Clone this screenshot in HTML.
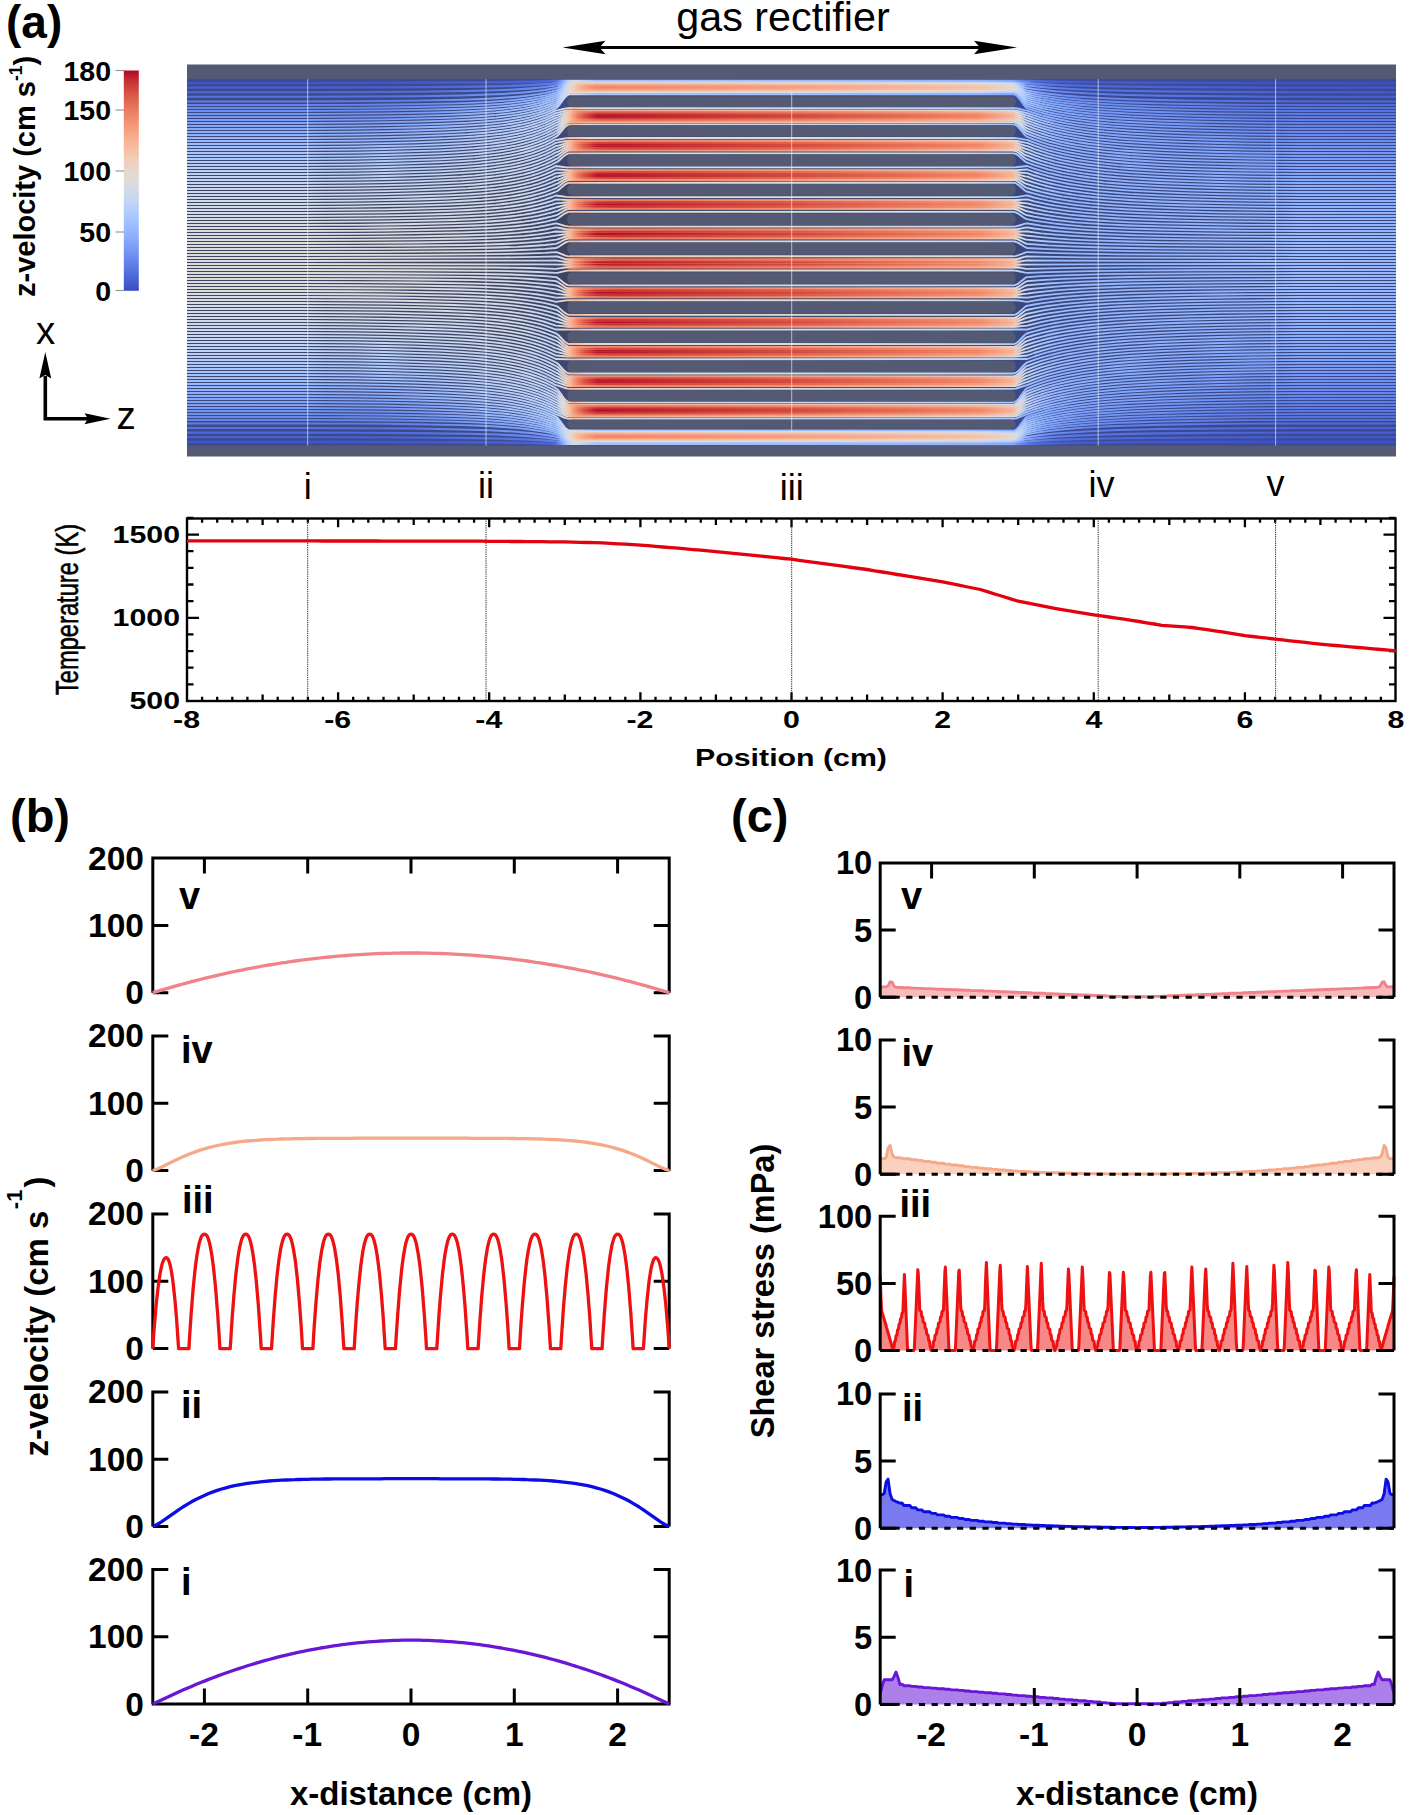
<!DOCTYPE html>
<html lang="en"><head><meta charset="utf-8"><title>Gas rectifier flow simulation</title>
<style>html,body{margin:0;padding:0;background:#fff}svg{display:block}text{font-family:"Liberation Sans", Arial, Helvetica, sans-serif;fill:#000}</style>
</head><body>
<svg width="1416" height="1815" viewBox="0 0 1416 1815">
<rect x="187.0" y="64.5" width="1209.0" height="392.0" fill="#545a73"/>
<defs><linearGradient id="bgL" x1="0" y1="0" x2="0" y2="1"><stop offset="0" stop-color="#3b4a92"/><stop offset="0.1" stop-color="#3e4a7c"/><stop offset="0.28" stop-color="#3e4566"/><stop offset="0.5" stop-color="#3d4360"/><stop offset="0.72" stop-color="#3e4566"/><stop offset="0.9" stop-color="#3e4a7c"/><stop offset="1" stop-color="#3b4a92"/></linearGradient><linearGradient id="bgR" x1="0" y1="0" x2="0" y2="1"><stop offset="0" stop-color="#3a4a96"/><stop offset="0.15" stop-color="#3a4884"/><stop offset="0.5" stop-color="#394676"/><stop offset="0.85" stop-color="#3a4884"/><stop offset="1" stop-color="#3a4a96"/></linearGradient></defs>
<rect x="187.0" y="79.2" width="383.8" height="366.4" fill="url(#bgL)"/>
<rect x="1012.2" y="79.2" width="383.8" height="366.4" fill="url(#bgR)"/>
<rect x="570.8" y="79.2" width="441.4" height="366.4" fill="#474d6b"/>
<defs>
<linearGradient id="bR" gradientUnits="userSpaceOnUse" x1="561.8" y1="0" x2="1022.2" y2="0">
<stop offset="0.0000" stop-color="#e3d9d3" stop-opacity="0"/>
<stop offset="0.0174" stop-color="#f6bda2" stop-opacity="1"/>
<stop offset="0.0500" stop-color="#f39475" stop-opacity="1"/>
<stop offset="0.1151" stop-color="#d55042" stop-opacity="1"/>
<stop offset="0.2383" stop-color="#d95847" stop-opacity="1"/>
<stop offset="0.4989" stop-color="#e46e56" stop-opacity="1"/>
<stop offset="0.7378" stop-color="#f08b6e" stop-opacity="1"/>
<stop offset="0.9044" stop-color="#f5a081" stop-opacity="1"/>
<stop offset="0.9696" stop-color="#f7ad90" stop-opacity="1"/>
<stop offset="0.9848" stop-color="#f4c6af" stop-opacity="1"/>
<stop offset="1.0000" stop-color="#cad8ef" stop-opacity="0"/>
</linearGradient>
<linearGradient id="bE" gradientUnits="userSpaceOnUse" x1="561.8" y1="0" x2="1022.2" y2="0">
<stop offset="0.0000" stop-color="#c9d7f0" stop-opacity="0"/>
<stop offset="0.0174" stop-color="#e4d9d2" stop-opacity="1"/>
<stop offset="0.0500" stop-color="#f4c6af" stop-opacity="1"/>
<stop offset="0.1151" stop-color="#f5a081" stop-opacity="1"/>
<stop offset="0.2383" stop-color="#f6a586" stop-opacity="1"/>
<stop offset="0.4989" stop-color="#f7b194" stop-opacity="1"/>
<stop offset="0.7378" stop-color="#f5c0a7" stop-opacity="1"/>
<stop offset="0.9044" stop-color="#f1ccb8" stop-opacity="1"/>
<stop offset="0.9696" stop-color="#edd2c3" stop-opacity="1"/>
<stop offset="0.9848" stop-color="#dddcdc" stop-opacity="1"/>
<stop offset="1.0000" stop-color="#afcafc" stop-opacity="0"/>
</linearGradient>
</defs>
<rect x="561.8" y="84.8" width="460.4" height="7.6" rx="3.5" fill="url(#bE)"/>
<rect x="561.8" y="111" width="460.4" height="10.4" rx="3.5" fill="url(#bR)"/>
<rect x="561.8" y="140.4" width="460.4" height="10.4" rx="3.5" fill="url(#bR)"/>
<rect x="561.8" y="169.9" width="460.4" height="10.4" rx="3.5" fill="url(#bR)"/>
<rect x="561.8" y="199.3" width="460.4" height="10.4" rx="3.5" fill="url(#bR)"/>
<rect x="561.8" y="228.8" width="460.4" height="10.4" rx="3.5" fill="url(#bR)"/>
<rect x="561.8" y="258.2" width="460.4" height="10.4" rx="3.5" fill="url(#bR)"/>
<rect x="561.8" y="287.6" width="460.4" height="10.4" rx="3.5" fill="url(#bR)"/>
<rect x="561.8" y="317.1" width="460.4" height="10.4" rx="3.5" fill="url(#bR)"/>
<rect x="561.8" y="346.5" width="460.4" height="10.4" rx="3.5" fill="url(#bR)"/>
<rect x="561.8" y="376" width="460.4" height="10.4" rx="3.5" fill="url(#bR)"/>
<rect x="561.8" y="405.4" width="460.4" height="10.4" rx="3.5" fill="url(#bR)"/>
<rect x="561.8" y="432.4" width="460.4" height="7.6" rx="3.5" fill="url(#bE)"/>
<defs>
<linearGradient id="g0" gradientUnits="userSpaceOnUse" x1="187" y1="0" x2="1396" y2="0">
<stop offset="0.0000" stop-color="#4055c8"/>
<stop offset="0.1596" stop-color="#4055c8"/>
<stop offset="0.2010" stop-color="#4358cb"/>
<stop offset="0.2423" stop-color="#465ecf"/>
<stop offset="0.2713" stop-color="#485fd1"/>
<stop offset="0.2935" stop-color="#4a63d3"/>
<stop offset="0.2993" stop-color="#4a63d3"/>
<stop offset="0.3050" stop-color="#516ddb"/>
<stop offset="0.3079" stop-color="#6687ed"/>
<stop offset="0.3108" stop-color="#85a8fc"/>
<stop offset="0.3137" stop-color="#a7c5fe"/>
<stop offset="0.3166" stop-color="#c4d5f3"/>
<stop offset="0.3199" stop-color="#d4dbe6"/>
<stop offset="0.3232" stop-color="#d2dbe8"/>
<stop offset="0.3290" stop-color="#bcd2f7"/>
<stop offset="0.3390" stop-color="#a5c3fe"/>
<stop offset="0.3621" stop-color="#a5c3fe"/>
<stop offset="0.4090" stop-color="#a2c1ff"/>
<stop offset="0.5000" stop-color="#9ebeff"/>
<stop offset="0.5910" stop-color="#96b7ff"/>
<stop offset="0.6544" stop-color="#90b2fe"/>
<stop offset="0.6834" stop-color="#82a6fb"/>
<stop offset="0.6863" stop-color="#7396f5"/>
<stop offset="0.6892" stop-color="#6a8bef"/>
<stop offset="0.6921" stop-color="#6180e9"/>
<stop offset="0.6950" stop-color="#5a78e4"/>
<stop offset="0.7016" stop-color="#516ddb"/>
<stop offset="0.7098" stop-color="#4c66d6"/>
<stop offset="0.7214" stop-color="#485fd1"/>
<stop offset="0.7446" stop-color="#4358cb"/>
<stop offset="0.7965" stop-color="#4358cb"/>
<stop offset="0.8544" stop-color="#4055c8"/>
<stop offset="0.9206" stop-color="#3e51c5"/>
<stop offset="1.0000" stop-color="#3d50c3"/>
</linearGradient>
<linearGradient id="g1" gradientUnits="userSpaceOnUse" x1="187" y1="0" x2="1396" y2="0">
<stop offset="0.0000" stop-color="#485fd1"/>
<stop offset="0.1596" stop-color="#485fd1"/>
<stop offset="0.2010" stop-color="#4c66d6"/>
<stop offset="0.2423" stop-color="#5572df"/>
<stop offset="0.2713" stop-color="#5673e0"/>
<stop offset="0.2935" stop-color="#5b7ae5"/>
<stop offset="0.2993" stop-color="#5b7ae5"/>
<stop offset="0.3050" stop-color="#6282ea"/>
<stop offset="0.3079" stop-color="#7597f6"/>
<stop offset="0.3108" stop-color="#92b4fe"/>
<stop offset="0.3137" stop-color="#b3cdfb"/>
<stop offset="0.3166" stop-color="#cfdaea"/>
<stop offset="0.3199" stop-color="#e3d9d3"/>
<stop offset="0.3232" stop-color="#e9d5cb"/>
<stop offset="0.3290" stop-color="#e4d9d2"/>
<stop offset="0.3390" stop-color="#e0dbd8"/>
<stop offset="0.3621" stop-color="#dfdbd9"/>
<stop offset="0.4090" stop-color="#dddcdc"/>
<stop offset="0.5000" stop-color="#d7dce3"/>
<stop offset="0.5910" stop-color="#cdd9ec"/>
<stop offset="0.6544" stop-color="#c5d6f2"/>
<stop offset="0.6834" stop-color="#b1cbfc"/>
<stop offset="0.6863" stop-color="#9bbcff"/>
<stop offset="0.6892" stop-color="#8badfd"/>
<stop offset="0.6921" stop-color="#7ea1fa"/>
<stop offset="0.6950" stop-color="#7396f5"/>
<stop offset="0.7016" stop-color="#6687ed"/>
<stop offset="0.7098" stop-color="#5d7ce6"/>
<stop offset="0.7214" stop-color="#5572df"/>
<stop offset="0.7446" stop-color="#4e68d8"/>
<stop offset="0.7717" stop-color="#4c66d6"/>
<stop offset="0.7965" stop-color="#4b64d5"/>
<stop offset="0.8544" stop-color="#485fd1"/>
<stop offset="0.9206" stop-color="#4358cb"/>
<stop offset="1.0000" stop-color="#4257c9"/>
</linearGradient>
<linearGradient id="g2" gradientUnits="userSpaceOnUse" x1="187" y1="0" x2="1396" y2="0">
<stop offset="0.0000" stop-color="#4f69d9"/>
<stop offset="0.1596" stop-color="#4f69d9"/>
<stop offset="0.2010" stop-color="#5572df"/>
<stop offset="0.2423" stop-color="#6282ea"/>
<stop offset="0.2713" stop-color="#6687ed"/>
<stop offset="0.2935" stop-color="#6b8df0"/>
<stop offset="0.2993" stop-color="#6c8ff1"/>
<stop offset="0.3050" stop-color="#7093f3"/>
<stop offset="0.3079" stop-color="#82a6fb"/>
<stop offset="0.3108" stop-color="#9dbdff"/>
<stop offset="0.3137" stop-color="#bbd1f8"/>
<stop offset="0.3166" stop-color="#d5dbe5"/>
<stop offset="0.3199" stop-color="#ead5c9"/>
<stop offset="0.3232" stop-color="#f1ccb8"/>
<stop offset="0.3290" stop-color="#f3c8b2"/>
<stop offset="0.3390" stop-color="#f4c5ad"/>
<stop offset="0.3621" stop-color="#f4c6af"/>
<stop offset="0.4090" stop-color="#f2c9b4"/>
<stop offset="0.5000" stop-color="#efcfbf"/>
<stop offset="0.5910" stop-color="#e7d7ce"/>
<stop offset="0.6544" stop-color="#dedcdb"/>
<stop offset="0.6834" stop-color="#c9d7f0"/>
<stop offset="0.6863" stop-color="#b2ccfb"/>
<stop offset="0.6892" stop-color="#9fbfff"/>
<stop offset="0.6921" stop-color="#90b2fe"/>
<stop offset="0.6950" stop-color="#85a8fc"/>
<stop offset="0.7016" stop-color="#7597f6"/>
<stop offset="0.7098" stop-color="#688aef"/>
<stop offset="0.7214" stop-color="#6180e9"/>
<stop offset="0.7446" stop-color="#5673e0"/>
<stop offset="0.7717" stop-color="#5572df"/>
<stop offset="0.7965" stop-color="#5470de"/>
<stop offset="0.8544" stop-color="#4e68d8"/>
<stop offset="0.9206" stop-color="#485fd1"/>
<stop offset="1.0000" stop-color="#455cce"/>
</linearGradient>
<linearGradient id="g3" gradientUnits="userSpaceOnUse" x1="187" y1="0" x2="1396" y2="0">
<stop offset="0.0000" stop-color="#5673e0"/>
<stop offset="0.1596" stop-color="#5673e0"/>
<stop offset="0.2010" stop-color="#5e7de7"/>
<stop offset="0.2423" stop-color="#6e90f2"/>
<stop offset="0.2713" stop-color="#7396f5"/>
<stop offset="0.2935" stop-color="#799cf8"/>
<stop offset="0.2993" stop-color="#7a9df8"/>
<stop offset="0.3050" stop-color="#7ea1fa"/>
<stop offset="0.3079" stop-color="#8fb1fe"/>
<stop offset="0.3108" stop-color="#a6c4fe"/>
<stop offset="0.3137" stop-color="#c1d4f4"/>
<stop offset="0.3166" stop-color="#d9dce1"/>
<stop offset="0.3199" stop-color="#edd1c2"/>
<stop offset="0.3232" stop-color="#f4c5ad"/>
<stop offset="0.3290" stop-color="#f7b99e"/>
<stop offset="0.3390" stop-color="#f7ad90"/>
<stop offset="0.3621" stop-color="#f7af91"/>
<stop offset="0.4090" stop-color="#f7b396"/>
<stop offset="0.5000" stop-color="#f6bda2"/>
<stop offset="0.5910" stop-color="#f2cab5"/>
<stop offset="0.6544" stop-color="#ecd3c5"/>
<stop offset="0.6834" stop-color="#d7dce3"/>
<stop offset="0.6863" stop-color="#c1d4f4"/>
<stop offset="0.6892" stop-color="#aec9fc"/>
<stop offset="0.6921" stop-color="#9ebeff"/>
<stop offset="0.6950" stop-color="#92b4fe"/>
<stop offset="0.7016" stop-color="#80a3fa"/>
<stop offset="0.7098" stop-color="#7396f5"/>
<stop offset="0.7214" stop-color="#6a8bef"/>
<stop offset="0.7446" stop-color="#5e7de7"/>
<stop offset="0.7717" stop-color="#5e7de7"/>
<stop offset="0.7965" stop-color="#5b7ae5"/>
<stop offset="0.8544" stop-color="#5470de"/>
<stop offset="0.9206" stop-color="#4b64d5"/>
<stop offset="1.0000" stop-color="#4961d2"/>
</linearGradient>
<linearGradient id="g4" gradientUnits="userSpaceOnUse" x1="187" y1="0" x2="1396" y2="0">
<stop offset="0.0000" stop-color="#5e7de7"/>
<stop offset="0.0935" stop-color="#5e7de7"/>
<stop offset="0.1596" stop-color="#5d7ce6"/>
<stop offset="0.2010" stop-color="#6788ee"/>
<stop offset="0.2423" stop-color="#799cf8"/>
<stop offset="0.2713" stop-color="#7ea1fa"/>
<stop offset="0.2935" stop-color="#85a8fc"/>
<stop offset="0.2993" stop-color="#86a9fc"/>
<stop offset="0.3050" stop-color="#8badfd"/>
<stop offset="0.3079" stop-color="#98b9ff"/>
<stop offset="0.3108" stop-color="#aec9fc"/>
<stop offset="0.3137" stop-color="#c6d6f1"/>
<stop offset="0.3166" stop-color="#dddcdc"/>
<stop offset="0.3199" stop-color="#f0cdbb"/>
<stop offset="0.3232" stop-color="#f6bfa6"/>
<stop offset="0.3290" stop-color="#f7ad90"/>
<stop offset="0.3390" stop-color="#f49a7b"/>
<stop offset="0.3621" stop-color="#f59d7e"/>
<stop offset="0.4090" stop-color="#f6a283"/>
<stop offset="0.5000" stop-color="#f7af91"/>
<stop offset="0.5910" stop-color="#f6bea4"/>
<stop offset="0.6544" stop-color="#f2cab5"/>
<stop offset="0.6834" stop-color="#e0dbd8"/>
<stop offset="0.6863" stop-color="#cbd8ee"/>
<stop offset="0.6892" stop-color="#b9d0f9"/>
<stop offset="0.6921" stop-color="#a9c6fd"/>
<stop offset="0.6950" stop-color="#9bbcff"/>
<stop offset="0.7016" stop-color="#89acfd"/>
<stop offset="0.7098" stop-color="#7da0f9"/>
<stop offset="0.7214" stop-color="#7295f4"/>
<stop offset="0.7446" stop-color="#6687ed"/>
<stop offset="0.7717" stop-color="#6485ec"/>
<stop offset="0.7965" stop-color="#6282ea"/>
<stop offset="0.8544" stop-color="#5977e3"/>
<stop offset="0.9206" stop-color="#506bda"/>
<stop offset="1.0000" stop-color="#4e68d8"/>
</linearGradient>
<linearGradient id="g5" gradientUnits="userSpaceOnUse" x1="187" y1="0" x2="1396" y2="0">
<stop offset="0.0000" stop-color="#6384eb"/>
<stop offset="0.1596" stop-color="#6384eb"/>
<stop offset="0.2010" stop-color="#6c8ff1"/>
<stop offset="0.2423" stop-color="#81a4fb"/>
<stop offset="0.2713" stop-color="#86a9fc"/>
<stop offset="0.2935" stop-color="#8db0fe"/>
<stop offset="0.2993" stop-color="#8fb1fe"/>
<stop offset="0.3050" stop-color="#93b5fe"/>
<stop offset="0.3079" stop-color="#a1c0ff"/>
<stop offset="0.3108" stop-color="#b3cdfb"/>
<stop offset="0.3137" stop-color="#cad8ef"/>
<stop offset="0.3166" stop-color="#dfdbd9"/>
<stop offset="0.3199" stop-color="#f1ccb8"/>
<stop offset="0.3232" stop-color="#f7ba9f"/>
<stop offset="0.3290" stop-color="#f7a688"/>
<stop offset="0.3390" stop-color="#f18f71"/>
<stop offset="0.3621" stop-color="#f29072"/>
<stop offset="0.4090" stop-color="#f39577"/>
<stop offset="0.5000" stop-color="#f6a385"/>
<stop offset="0.5910" stop-color="#f7b599"/>
<stop offset="0.6544" stop-color="#f5c4ac"/>
<stop offset="0.6834" stop-color="#e5d8d1"/>
<stop offset="0.6863" stop-color="#d1dae9"/>
<stop offset="0.6892" stop-color="#bfd3f6"/>
<stop offset="0.6921" stop-color="#afcafc"/>
<stop offset="0.6950" stop-color="#a2c1ff"/>
<stop offset="0.7016" stop-color="#8fb1fe"/>
<stop offset="0.7098" stop-color="#82a6fb"/>
<stop offset="0.7214" stop-color="#779af7"/>
<stop offset="0.7446" stop-color="#6b8df0"/>
<stop offset="0.7717" stop-color="#6a8bef"/>
<stop offset="0.7965" stop-color="#6788ee"/>
<stop offset="0.8544" stop-color="#5d7ce6"/>
<stop offset="0.9206" stop-color="#536edd"/>
<stop offset="1.0000" stop-color="#506bda"/>
</linearGradient>
<linearGradient id="g6" gradientUnits="userSpaceOnUse" x1="187" y1="0" x2="1396" y2="0">
<stop offset="0.0000" stop-color="#688aef"/>
<stop offset="0.0935" stop-color="#688aef"/>
<stop offset="0.1596" stop-color="#6788ee"/>
<stop offset="0.2010" stop-color="#7295f4"/>
<stop offset="0.2423" stop-color="#86a9fc"/>
<stop offset="0.2713" stop-color="#8db0fe"/>
<stop offset="0.2935" stop-color="#93b5fe"/>
<stop offset="0.2993" stop-color="#96b7ff"/>
<stop offset="0.3050" stop-color="#98b9ff"/>
<stop offset="0.3079" stop-color="#a5c3fe"/>
<stop offset="0.3108" stop-color="#b7cff9"/>
<stop offset="0.3137" stop-color="#ccd9ed"/>
<stop offset="0.3166" stop-color="#e0dbd8"/>
<stop offset="0.3199" stop-color="#f2cbb7"/>
<stop offset="0.3232" stop-color="#f7b99e"/>
<stop offset="0.3290" stop-color="#f6a283"/>
<stop offset="0.3390" stop-color="#ef886b"/>
<stop offset="0.3621" stop-color="#f08a6c"/>
<stop offset="0.4090" stop-color="#f29072"/>
<stop offset="0.5000" stop-color="#f59f80"/>
<stop offset="0.5910" stop-color="#f7b194"/>
<stop offset="0.6544" stop-color="#f5c0a7"/>
<stop offset="0.6834" stop-color="#e8d6cc"/>
<stop offset="0.6863" stop-color="#d4dbe6"/>
<stop offset="0.6892" stop-color="#c1d4f4"/>
<stop offset="0.6921" stop-color="#b2ccfb"/>
<stop offset="0.6950" stop-color="#a6c4fe"/>
<stop offset="0.7016" stop-color="#93b5fe"/>
<stop offset="0.7098" stop-color="#86a9fc"/>
<stop offset="0.7214" stop-color="#7a9df8"/>
<stop offset="0.7446" stop-color="#6e90f2"/>
<stop offset="0.7717" stop-color="#6c8ff1"/>
<stop offset="0.7965" stop-color="#6a8bef"/>
<stop offset="0.8544" stop-color="#6180e9"/>
<stop offset="0.9206" stop-color="#5673e0"/>
<stop offset="1.0000" stop-color="#536edd"/>
</linearGradient>
<linearGradient id="g7" gradientUnits="userSpaceOnUse" x1="187" y1="0" x2="1396" y2="0">
<stop offset="0.0000" stop-color="#6c8ff1"/>
<stop offset="0.1596" stop-color="#6c8ff1"/>
<stop offset="0.2010" stop-color="#779af7"/>
<stop offset="0.2423" stop-color="#8caffe"/>
<stop offset="0.2713" stop-color="#94b6ff"/>
<stop offset="0.2935" stop-color="#98b9ff"/>
<stop offset="0.2993" stop-color="#9bbcff"/>
<stop offset="0.3050" stop-color="#9ebeff"/>
<stop offset="0.3079" stop-color="#aac7fd"/>
<stop offset="0.3108" stop-color="#bbd1f8"/>
<stop offset="0.3137" stop-color="#cedaeb"/>
<stop offset="0.3166" stop-color="#e1dad6"/>
<stop offset="0.3199" stop-color="#f2cab5"/>
<stop offset="0.3232" stop-color="#f7b99e"/>
<stop offset="0.3290" stop-color="#f6a283"/>
<stop offset="0.3390" stop-color="#ef886b"/>
<stop offset="0.3621" stop-color="#f08a6c"/>
<stop offset="0.4090" stop-color="#f29072"/>
<stop offset="0.5000" stop-color="#f59f80"/>
<stop offset="0.5910" stop-color="#f7b194"/>
<stop offset="0.6544" stop-color="#f5c0a7"/>
<stop offset="0.6834" stop-color="#e8d6cc"/>
<stop offset="0.6863" stop-color="#d4dbe6"/>
<stop offset="0.6892" stop-color="#c3d5f4"/>
<stop offset="0.6921" stop-color="#b5cdfa"/>
<stop offset="0.6950" stop-color="#a9c6fd"/>
<stop offset="0.7016" stop-color="#96b7ff"/>
<stop offset="0.7098" stop-color="#89acfd"/>
<stop offset="0.7214" stop-color="#7ea1fa"/>
<stop offset="0.7446" stop-color="#7295f4"/>
<stop offset="0.7717" stop-color="#7093f3"/>
<stop offset="0.7965" stop-color="#6e90f2"/>
<stop offset="0.8544" stop-color="#6384eb"/>
<stop offset="0.9206" stop-color="#5977e3"/>
<stop offset="1.0000" stop-color="#5572df"/>
</linearGradient>
<linearGradient id="g8" gradientUnits="userSpaceOnUse" x1="187" y1="0" x2="1396" y2="0">
<stop offset="0.0000" stop-color="#7295f4"/>
<stop offset="0.0935" stop-color="#7295f4"/>
<stop offset="0.1596" stop-color="#7093f3"/>
<stop offset="0.2010" stop-color="#7b9ff9"/>
<stop offset="0.2423" stop-color="#92b4fe"/>
<stop offset="0.2713" stop-color="#9abbff"/>
<stop offset="0.2935" stop-color="#9ebeff"/>
<stop offset="0.2993" stop-color="#a1c0ff"/>
<stop offset="0.3050" stop-color="#a3c2fe"/>
<stop offset="0.3079" stop-color="#aec9fc"/>
<stop offset="0.3108" stop-color="#bed2f6"/>
<stop offset="0.3137" stop-color="#cfdaea"/>
<stop offset="0.3166" stop-color="#e2dad5"/>
<stop offset="0.3199" stop-color="#f2cbb7"/>
<stop offset="0.3232" stop-color="#f7ba9f"/>
<stop offset="0.3290" stop-color="#f7a688"/>
<stop offset="0.3390" stop-color="#f18f71"/>
<stop offset="0.3621" stop-color="#f29072"/>
<stop offset="0.4090" stop-color="#f39577"/>
<stop offset="0.5000" stop-color="#f6a385"/>
<stop offset="0.5910" stop-color="#f7b599"/>
<stop offset="0.6544" stop-color="#f5c4ac"/>
<stop offset="0.6834" stop-color="#e5d8d1"/>
<stop offset="0.6863" stop-color="#d3dbe7"/>
<stop offset="0.6892" stop-color="#c3d5f4"/>
<stop offset="0.6921" stop-color="#b5cdfa"/>
<stop offset="0.6950" stop-color="#a9c6fd"/>
<stop offset="0.7016" stop-color="#98b9ff"/>
<stop offset="0.7098" stop-color="#8badfd"/>
<stop offset="0.7214" stop-color="#81a4fb"/>
<stop offset="0.7446" stop-color="#7597f6"/>
<stop offset="0.7717" stop-color="#7396f5"/>
<stop offset="0.7965" stop-color="#7093f3"/>
<stop offset="0.8544" stop-color="#6687ed"/>
<stop offset="0.9206" stop-color="#5b7ae5"/>
<stop offset="1.0000" stop-color="#5875e1"/>
</linearGradient>
<linearGradient id="g9" gradientUnits="userSpaceOnUse" x1="187" y1="0" x2="1396" y2="0">
<stop offset="0.0000" stop-color="#7699f6"/>
<stop offset="0.1596" stop-color="#7699f6"/>
<stop offset="0.2010" stop-color="#81a4fb"/>
<stop offset="0.2423" stop-color="#96b7ff"/>
<stop offset="0.2713" stop-color="#9ebeff"/>
<stop offset="0.2935" stop-color="#a2c1ff"/>
<stop offset="0.2993" stop-color="#a5c3fe"/>
<stop offset="0.3050" stop-color="#a7c5fe"/>
<stop offset="0.3079" stop-color="#b2ccfb"/>
<stop offset="0.3108" stop-color="#c1d4f4"/>
<stop offset="0.3137" stop-color="#d2dbe8"/>
<stop offset="0.3166" stop-color="#e2dad5"/>
<stop offset="0.3199" stop-color="#f1ccb8"/>
<stop offset="0.3232" stop-color="#f6bfa6"/>
<stop offset="0.3290" stop-color="#f7ad90"/>
<stop offset="0.3390" stop-color="#f49a7b"/>
<stop offset="0.3621" stop-color="#f59d7e"/>
<stop offset="0.4090" stop-color="#f6a283"/>
<stop offset="0.5000" stop-color="#f7af91"/>
<stop offset="0.5910" stop-color="#f6bea4"/>
<stop offset="0.6544" stop-color="#f2cab5"/>
<stop offset="0.6834" stop-color="#e0dbd8"/>
<stop offset="0.6863" stop-color="#cedaeb"/>
<stop offset="0.6892" stop-color="#bfd3f6"/>
<stop offset="0.6921" stop-color="#b2ccfb"/>
<stop offset="0.6950" stop-color="#a9c6fd"/>
<stop offset="0.7016" stop-color="#98b9ff"/>
<stop offset="0.7098" stop-color="#8db0fe"/>
<stop offset="0.7214" stop-color="#82a6fb"/>
<stop offset="0.7446" stop-color="#799cf8"/>
<stop offset="0.7717" stop-color="#7699f6"/>
<stop offset="0.7965" stop-color="#7396f5"/>
<stop offset="0.8544" stop-color="#688aef"/>
<stop offset="0.9206" stop-color="#5e7de7"/>
<stop offset="1.0000" stop-color="#5a78e4"/>
</linearGradient>
<linearGradient id="g10" gradientUnits="userSpaceOnUse" x1="187" y1="0" x2="1396" y2="0">
<stop offset="0.0000" stop-color="#7b9ff9"/>
<stop offset="0.0935" stop-color="#7b9ff9"/>
<stop offset="0.1596" stop-color="#7a9df8"/>
<stop offset="0.2010" stop-color="#85a8fc"/>
<stop offset="0.2423" stop-color="#9bbcff"/>
<stop offset="0.2713" stop-color="#a3c2fe"/>
<stop offset="0.2935" stop-color="#a6c4fe"/>
<stop offset="0.2993" stop-color="#a9c6fd"/>
<stop offset="0.3050" stop-color="#abc8fd"/>
<stop offset="0.3079" stop-color="#b5cdfa"/>
<stop offset="0.3108" stop-color="#c4d5f3"/>
<stop offset="0.3137" stop-color="#d3dbe7"/>
<stop offset="0.3166" stop-color="#e2dad5"/>
<stop offset="0.3199" stop-color="#efcebd"/>
<stop offset="0.3232" stop-color="#f4c5ad"/>
<stop offset="0.3290" stop-color="#f7b99e"/>
<stop offset="0.3390" stop-color="#f7ad90"/>
<stop offset="0.3621" stop-color="#f7af91"/>
<stop offset="0.4090" stop-color="#f7b396"/>
<stop offset="0.5000" stop-color="#f6bda2"/>
<stop offset="0.5910" stop-color="#f2cab5"/>
<stop offset="0.6544" stop-color="#ecd3c5"/>
<stop offset="0.6834" stop-color="#d7dce3"/>
<stop offset="0.6863" stop-color="#c7d7f0"/>
<stop offset="0.6892" stop-color="#bad0f8"/>
<stop offset="0.6921" stop-color="#aec9fc"/>
<stop offset="0.6950" stop-color="#a5c3fe"/>
<stop offset="0.7016" stop-color="#98b9ff"/>
<stop offset="0.7098" stop-color="#8db0fe"/>
<stop offset="0.7214" stop-color="#85a8fc"/>
<stop offset="0.7446" stop-color="#7b9ff9"/>
<stop offset="0.7717" stop-color="#799cf8"/>
<stop offset="0.7965" stop-color="#7699f6"/>
<stop offset="0.8544" stop-color="#6b8df0"/>
<stop offset="0.9206" stop-color="#5f7fe8"/>
<stop offset="1.0000" stop-color="#5d7ce6"/>
</linearGradient>
<linearGradient id="g11" gradientUnits="userSpaceOnUse" x1="187" y1="0" x2="1396" y2="0">
<stop offset="0.0000" stop-color="#80a3fa"/>
<stop offset="0.0935" stop-color="#80a3fa"/>
<stop offset="0.1596" stop-color="#7ea1fa"/>
<stop offset="0.2010" stop-color="#89acfd"/>
<stop offset="0.2423" stop-color="#9fbfff"/>
<stop offset="0.2713" stop-color="#a7c5fe"/>
<stop offset="0.2935" stop-color="#aac7fd"/>
<stop offset="0.2993" stop-color="#abc8fd"/>
<stop offset="0.3050" stop-color="#aec9fc"/>
<stop offset="0.3079" stop-color="#b9d0f9"/>
<stop offset="0.3108" stop-color="#c5d6f2"/>
<stop offset="0.3137" stop-color="#d4dbe6"/>
<stop offset="0.3166" stop-color="#e1dad6"/>
<stop offset="0.3199" stop-color="#edd2c3"/>
<stop offset="0.3232" stop-color="#f1ccb8"/>
<stop offset="0.3290" stop-color="#f3c8b2"/>
<stop offset="0.3390" stop-color="#f4c5ad"/>
<stop offset="0.3621" stop-color="#f4c6af"/>
<stop offset="0.4090" stop-color="#f2c9b4"/>
<stop offset="0.5000" stop-color="#efcfbf"/>
<stop offset="0.5910" stop-color="#e7d7ce"/>
<stop offset="0.6544" stop-color="#dedcdb"/>
<stop offset="0.6834" stop-color="#c9d7f0"/>
<stop offset="0.6863" stop-color="#bbd1f8"/>
<stop offset="0.6892" stop-color="#afcafc"/>
<stop offset="0.6921" stop-color="#a7c5fe"/>
<stop offset="0.6950" stop-color="#a1c0ff"/>
<stop offset="0.7016" stop-color="#96b7ff"/>
<stop offset="0.7098" stop-color="#8db0fe"/>
<stop offset="0.7214" stop-color="#86a9fc"/>
<stop offset="0.7446" stop-color="#7da0f9"/>
<stop offset="0.7717" stop-color="#7b9ff9"/>
<stop offset="0.7965" stop-color="#799cf8"/>
<stop offset="0.8544" stop-color="#6e90f2"/>
<stop offset="0.9206" stop-color="#6282ea"/>
<stop offset="1.0000" stop-color="#5e7de7"/>
</linearGradient>
<linearGradient id="g12" gradientUnits="userSpaceOnUse" x1="187" y1="0" x2="1396" y2="0">
<stop offset="0.0000" stop-color="#84a7fc"/>
<stop offset="0.0935" stop-color="#84a7fc"/>
<stop offset="0.1596" stop-color="#82a6fb"/>
<stop offset="0.2010" stop-color="#8db0fe"/>
<stop offset="0.2423" stop-color="#a2c1ff"/>
<stop offset="0.2713" stop-color="#abc8fd"/>
<stop offset="0.2935" stop-color="#aec9fc"/>
<stop offset="0.2993" stop-color="#afcafc"/>
<stop offset="0.3050" stop-color="#b2ccfb"/>
<stop offset="0.3079" stop-color="#bbd1f8"/>
<stop offset="0.3108" stop-color="#c7d7f0"/>
<stop offset="0.3137" stop-color="#d5dbe5"/>
<stop offset="0.3166" stop-color="#dfdbd9"/>
<stop offset="0.3199" stop-color="#e7d7ce"/>
<stop offset="0.3232" stop-color="#e9d5cb"/>
<stop offset="0.3290" stop-color="#e4d9d2"/>
<stop offset="0.3390" stop-color="#e0dbd8"/>
<stop offset="0.3621" stop-color="#dfdbd9"/>
<stop offset="0.4090" stop-color="#dddcdc"/>
<stop offset="0.5000" stop-color="#d7dce3"/>
<stop offset="0.5910" stop-color="#cdd9ec"/>
<stop offset="0.6544" stop-color="#c5d6f2"/>
<stop offset="0.6834" stop-color="#b1cbfc"/>
<stop offset="0.6863" stop-color="#a7c5fe"/>
<stop offset="0.6892" stop-color="#a1c0ff"/>
<stop offset="0.6921" stop-color="#9bbcff"/>
<stop offset="0.6950" stop-color="#97b8ff"/>
<stop offset="0.7016" stop-color="#92b4fe"/>
<stop offset="0.7098" stop-color="#8caffe"/>
<stop offset="0.7214" stop-color="#86a9fc"/>
<stop offset="0.7446" stop-color="#80a3fa"/>
<stop offset="0.7717" stop-color="#7ea1fa"/>
<stop offset="0.7965" stop-color="#7a9df8"/>
<stop offset="0.8544" stop-color="#6f92f3"/>
<stop offset="0.9206" stop-color="#6485ec"/>
<stop offset="1.0000" stop-color="#6180e9"/>
</linearGradient>
<linearGradient id="g13" gradientUnits="userSpaceOnUse" x1="187" y1="0" x2="1396" y2="0">
<stop offset="0.0000" stop-color="#88abfd"/>
<stop offset="0.0935" stop-color="#88abfd"/>
<stop offset="0.1596" stop-color="#86a9fc"/>
<stop offset="0.2010" stop-color="#92b4fe"/>
<stop offset="0.2423" stop-color="#a6c4fe"/>
<stop offset="0.2713" stop-color="#afcafc"/>
<stop offset="0.2935" stop-color="#b1cbfc"/>
<stop offset="0.2993" stop-color="#b2ccfb"/>
<stop offset="0.3050" stop-color="#b3cdfb"/>
<stop offset="0.3079" stop-color="#bcd2f7"/>
<stop offset="0.3108" stop-color="#c7d7f0"/>
<stop offset="0.3137" stop-color="#d3dbe7"/>
<stop offset="0.3166" stop-color="#d9dce1"/>
<stop offset="0.3199" stop-color="#dadce0"/>
<stop offset="0.3232" stop-color="#d2dbe8"/>
<stop offset="0.3290" stop-color="#bcd2f7"/>
<stop offset="0.3390" stop-color="#a5c3fe"/>
<stop offset="0.3621" stop-color="#a5c3fe"/>
<stop offset="0.4090" stop-color="#a2c1ff"/>
<stop offset="0.5000" stop-color="#9ebeff"/>
<stop offset="0.5910" stop-color="#96b7ff"/>
<stop offset="0.6544" stop-color="#90b2fe"/>
<stop offset="0.6834" stop-color="#82a6fb"/>
<stop offset="0.6863" stop-color="#82a6fb"/>
<stop offset="0.6892" stop-color="#84a7fc"/>
<stop offset="0.6921" stop-color="#85a8fc"/>
<stop offset="0.6950" stop-color="#85a8fc"/>
<stop offset="0.7016" stop-color="#88abfd"/>
<stop offset="0.7098" stop-color="#88abfd"/>
<stop offset="0.7214" stop-color="#86a9fc"/>
<stop offset="0.7446" stop-color="#82a6fb"/>
<stop offset="0.7717" stop-color="#80a3fa"/>
<stop offset="0.7965" stop-color="#7da0f9"/>
<stop offset="0.8544" stop-color="#7295f4"/>
<stop offset="0.9206" stop-color="#6788ee"/>
<stop offset="1.0000" stop-color="#6384eb"/>
</linearGradient>
<linearGradient id="g14" gradientUnits="userSpaceOnUse" x1="187" y1="0" x2="1396" y2="0">
<stop offset="0.0000" stop-color="#8caffe"/>
<stop offset="0.0935" stop-color="#8caffe"/>
<stop offset="0.1596" stop-color="#8badfd"/>
<stop offset="0.2010" stop-color="#96b7ff"/>
<stop offset="0.2423" stop-color="#aac7fd"/>
<stop offset="0.2713" stop-color="#b2ccfb"/>
<stop offset="0.2935" stop-color="#b3cdfb"/>
<stop offset="0.2993" stop-color="#b3cdfb"/>
<stop offset="0.3050" stop-color="#b9d0f9"/>
<stop offset="0.3079" stop-color="#c6d6f1"/>
<stop offset="0.3108" stop-color="#d8dce2"/>
<stop offset="0.3137" stop-color="#ead5c9"/>
<stop offset="0.3166" stop-color="#f2cab5"/>
<stop offset="0.3199" stop-color="#f5c4ac"/>
<stop offset="0.3232" stop-color="#f2cab5"/>
<stop offset="0.3290" stop-color="#e2dad5"/>
<stop offset="0.3390" stop-color="#cdd9ec"/>
<stop offset="0.3621" stop-color="#cdd9ec"/>
<stop offset="0.4090" stop-color="#cad8ef"/>
<stop offset="0.5000" stop-color="#c4d5f3"/>
<stop offset="0.5910" stop-color="#bbd1f8"/>
<stop offset="0.6544" stop-color="#b2ccfb"/>
<stop offset="0.6834" stop-color="#a1c0ff"/>
<stop offset="0.6863" stop-color="#9bbcff"/>
<stop offset="0.6892" stop-color="#97b8ff"/>
<stop offset="0.6921" stop-color="#94b6ff"/>
<stop offset="0.6950" stop-color="#93b5fe"/>
<stop offset="0.7016" stop-color="#90b2fe"/>
<stop offset="0.7098" stop-color="#8caffe"/>
<stop offset="0.7214" stop-color="#89acfd"/>
<stop offset="0.7446" stop-color="#84a7fc"/>
<stop offset="0.7717" stop-color="#82a6fb"/>
<stop offset="0.7965" stop-color="#7ea1fa"/>
<stop offset="0.8544" stop-color="#7597f6"/>
<stop offset="0.9206" stop-color="#6a8bef"/>
<stop offset="1.0000" stop-color="#6485ec"/>
</linearGradient>
<linearGradient id="g15" gradientUnits="userSpaceOnUse" x1="187" y1="0" x2="1396" y2="0">
<stop offset="0.0000" stop-color="#90b2fe"/>
<stop offset="0.0935" stop-color="#90b2fe"/>
<stop offset="0.1596" stop-color="#8fb1fe"/>
<stop offset="0.2010" stop-color="#98b9ff"/>
<stop offset="0.2423" stop-color="#adc9fd"/>
<stop offset="0.2713" stop-color="#b6cefa"/>
<stop offset="0.2993" stop-color="#b6cefa"/>
<stop offset="0.3050" stop-color="#bbd1f8"/>
<stop offset="0.3079" stop-color="#c9d7f0"/>
<stop offset="0.3108" stop-color="#d9dce1"/>
<stop offset="0.3137" stop-color="#ead4c8"/>
<stop offset="0.3166" stop-color="#f5c4ac"/>
<stop offset="0.3199" stop-color="#f7b093"/>
<stop offset="0.3232" stop-color="#f7a889"/>
<stop offset="0.3290" stop-color="#f7a98b"/>
<stop offset="0.3390" stop-color="#f7aa8c"/>
<stop offset="0.3621" stop-color="#f7ac8e"/>
<stop offset="0.4090" stop-color="#f7b093"/>
<stop offset="0.5000" stop-color="#f7ba9f"/>
<stop offset="0.5910" stop-color="#f3c8b2"/>
<stop offset="0.6544" stop-color="#edd2c3"/>
<stop offset="0.6834" stop-color="#d9dce1"/>
<stop offset="0.6863" stop-color="#cad8ef"/>
<stop offset="0.6892" stop-color="#bed2f6"/>
<stop offset="0.6921" stop-color="#b5cdfa"/>
<stop offset="0.6950" stop-color="#abc8fd"/>
<stop offset="0.7016" stop-color="#9fbfff"/>
<stop offset="0.7098" stop-color="#96b7ff"/>
<stop offset="0.7214" stop-color="#8db0fe"/>
<stop offset="0.7446" stop-color="#85a8fc"/>
<stop offset="0.7717" stop-color="#84a7fc"/>
<stop offset="0.7965" stop-color="#80a3fa"/>
<stop offset="0.8544" stop-color="#7699f6"/>
<stop offset="0.9206" stop-color="#6b8df0"/>
<stop offset="1.0000" stop-color="#6788ee"/>
</linearGradient>
<linearGradient id="g16" gradientUnits="userSpaceOnUse" x1="187" y1="0" x2="1396" y2="0">
<stop offset="0.0000" stop-color="#94b6ff"/>
<stop offset="0.0935" stop-color="#94b6ff"/>
<stop offset="0.1596" stop-color="#93b5fe"/>
<stop offset="0.2010" stop-color="#9dbdff"/>
<stop offset="0.2423" stop-color="#afcafc"/>
<stop offset="0.2713" stop-color="#b9d0f9"/>
<stop offset="0.2935" stop-color="#b7cff9"/>
<stop offset="0.2993" stop-color="#b7cff9"/>
<stop offset="0.3050" stop-color="#bcd2f7"/>
<stop offset="0.3079" stop-color="#cad8ef"/>
<stop offset="0.3108" stop-color="#dadce0"/>
<stop offset="0.3137" stop-color="#ecd3c5"/>
<stop offset="0.3166" stop-color="#f5c0a7"/>
<stop offset="0.3199" stop-color="#f6a586"/>
<stop offset="0.3232" stop-color="#f29274"/>
<stop offset="0.3290" stop-color="#ec8165"/>
<stop offset="0.3390" stop-color="#e46e56"/>
<stop offset="0.3621" stop-color="#e57058"/>
<stop offset="0.4090" stop-color="#e9785d"/>
<stop offset="0.5000" stop-color="#f08a6c"/>
<stop offset="0.5910" stop-color="#f5a081"/>
<stop offset="0.6544" stop-color="#f7b396"/>
<stop offset="0.6834" stop-color="#efcfbf"/>
<stop offset="0.6863" stop-color="#dfdbd9"/>
<stop offset="0.6892" stop-color="#d1dae9"/>
<stop offset="0.6921" stop-color="#c4d5f3"/>
<stop offset="0.6950" stop-color="#bad0f8"/>
<stop offset="0.7016" stop-color="#a7c5fe"/>
<stop offset="0.7098" stop-color="#9abbff"/>
<stop offset="0.7214" stop-color="#90b2fe"/>
<stop offset="0.7446" stop-color="#86a9fc"/>
<stop offset="0.7717" stop-color="#85a8fc"/>
<stop offset="0.7965" stop-color="#81a4fb"/>
<stop offset="0.8544" stop-color="#779af7"/>
<stop offset="0.9206" stop-color="#6e90f2"/>
<stop offset="1.0000" stop-color="#6a8bef"/>
</linearGradient>
<linearGradient id="g17" gradientUnits="userSpaceOnUse" x1="187" y1="0" x2="1396" y2="0">
<stop offset="0.0000" stop-color="#98b9ff"/>
<stop offset="0.0935" stop-color="#98b9ff"/>
<stop offset="0.1596" stop-color="#97b8ff"/>
<stop offset="0.2010" stop-color="#a1c0ff"/>
<stop offset="0.2423" stop-color="#b2ccfb"/>
<stop offset="0.2713" stop-color="#bbd1f8"/>
<stop offset="0.2935" stop-color="#bad0f8"/>
<stop offset="0.2993" stop-color="#b9d0f9"/>
<stop offset="0.3050" stop-color="#bed2f6"/>
<stop offset="0.3079" stop-color="#cbd8ee"/>
<stop offset="0.3108" stop-color="#dbdcde"/>
<stop offset="0.3137" stop-color="#ecd3c5"/>
<stop offset="0.3166" stop-color="#f6bea4"/>
<stop offset="0.3199" stop-color="#f59d7e"/>
<stop offset="0.3232" stop-color="#ed8366"/>
<stop offset="0.3290" stop-color="#df634e"/>
<stop offset="0.3390" stop-color="#cd423b"/>
<stop offset="0.3621" stop-color="#cf453c"/>
<stop offset="0.4090" stop-color="#d44e41"/>
<stop offset="0.5000" stop-color="#e0654f"/>
<stop offset="0.5910" stop-color="#ed8366"/>
<stop offset="0.6544" stop-color="#f4987a"/>
<stop offset="0.6834" stop-color="#f5c0a7"/>
<stop offset="0.6863" stop-color="#ead4c8"/>
<stop offset="0.6892" stop-color="#dbdcde"/>
<stop offset="0.6921" stop-color="#cdd9ec"/>
<stop offset="0.6950" stop-color="#c1d4f4"/>
<stop offset="0.7016" stop-color="#adc9fd"/>
<stop offset="0.7098" stop-color="#9ebeff"/>
<stop offset="0.7214" stop-color="#92b4fe"/>
<stop offset="0.7446" stop-color="#88abfd"/>
<stop offset="0.7717" stop-color="#86a9fc"/>
<stop offset="0.7965" stop-color="#82a6fb"/>
<stop offset="0.8544" stop-color="#7a9df8"/>
<stop offset="0.9206" stop-color="#7093f3"/>
<stop offset="1.0000" stop-color="#6b8df0"/>
</linearGradient>
<linearGradient id="g18" gradientUnits="userSpaceOnUse" x1="187" y1="0" x2="1396" y2="0">
<stop offset="0.0000" stop-color="#9dbdff"/>
<stop offset="0.0935" stop-color="#9dbdff"/>
<stop offset="0.1596" stop-color="#9bbcff"/>
<stop offset="0.2010" stop-color="#a3c2fe"/>
<stop offset="0.2423" stop-color="#b5cdfa"/>
<stop offset="0.2713" stop-color="#bcd2f7"/>
<stop offset="0.2935" stop-color="#bbd1f8"/>
<stop offset="0.2993" stop-color="#bad0f8"/>
<stop offset="0.3050" stop-color="#bfd3f6"/>
<stop offset="0.3079" stop-color="#ccd9ed"/>
<stop offset="0.3108" stop-color="#dcdddd"/>
<stop offset="0.3137" stop-color="#edd2c3"/>
<stop offset="0.3166" stop-color="#f7bca1"/>
<stop offset="0.3199" stop-color="#f4987a"/>
<stop offset="0.3232" stop-color="#e97a5f"/>
<stop offset="0.3290" stop-color="#d65244"/>
<stop offset="0.3390" stop-color="#bd1f2d"/>
<stop offset="0.3621" stop-color="#be242e"/>
<stop offset="0.4090" stop-color="#c53334"/>
<stop offset="0.5000" stop-color="#d44e41"/>
<stop offset="0.5910" stop-color="#e46e56"/>
<stop offset="0.6544" stop-color="#f08a6c"/>
<stop offset="0.6834" stop-color="#f7b79b"/>
<stop offset="0.6863" stop-color="#efcfbf"/>
<stop offset="0.6892" stop-color="#e0dbd8"/>
<stop offset="0.6921" stop-color="#d2dbe8"/>
<stop offset="0.6950" stop-color="#c5d6f2"/>
<stop offset="0.7016" stop-color="#afcafc"/>
<stop offset="0.7098" stop-color="#9fbfff"/>
<stop offset="0.7214" stop-color="#93b5fe"/>
<stop offset="0.7446" stop-color="#89acfd"/>
<stop offset="0.7717" stop-color="#88abfd"/>
<stop offset="0.7965" stop-color="#84a7fc"/>
<stop offset="0.8544" stop-color="#7b9ff9"/>
<stop offset="0.9206" stop-color="#7295f4"/>
<stop offset="1.0000" stop-color="#6e90f2"/>
</linearGradient>
<linearGradient id="g19" gradientUnits="userSpaceOnUse" x1="187" y1="0" x2="1396" y2="0">
<stop offset="0.0000" stop-color="#9fbfff"/>
<stop offset="0.1596" stop-color="#9fbfff"/>
<stop offset="0.2010" stop-color="#a7c5fe"/>
<stop offset="0.2423" stop-color="#b7cff9"/>
<stop offset="0.2713" stop-color="#bfd3f6"/>
<stop offset="0.2935" stop-color="#bcd2f7"/>
<stop offset="0.2993" stop-color="#bbd1f8"/>
<stop offset="0.3050" stop-color="#c0d4f5"/>
<stop offset="0.3079" stop-color="#ccd9ed"/>
<stop offset="0.3108" stop-color="#dcdddd"/>
<stop offset="0.3137" stop-color="#edd1c2"/>
<stop offset="0.3166" stop-color="#f7bca1"/>
<stop offset="0.3199" stop-color="#f39778"/>
<stop offset="0.3232" stop-color="#e8765c"/>
<stop offset="0.3290" stop-color="#d24b40"/>
<stop offset="0.3390" stop-color="#b70d28"/>
<stop offset="0.3621" stop-color="#ba162b"/>
<stop offset="0.4090" stop-color="#c0282f"/>
<stop offset="0.5000" stop-color="#cf453c"/>
<stop offset="0.5910" stop-color="#e26952"/>
<stop offset="0.6544" stop-color="#ee8468"/>
<stop offset="0.6834" stop-color="#f7b396"/>
<stop offset="0.6863" stop-color="#f1cdba"/>
<stop offset="0.6892" stop-color="#e2dad5"/>
<stop offset="0.6921" stop-color="#d4dbe6"/>
<stop offset="0.6950" stop-color="#c7d7f0"/>
<stop offset="0.7016" stop-color="#b1cbfc"/>
<stop offset="0.7098" stop-color="#a1c0ff"/>
<stop offset="0.7214" stop-color="#94b6ff"/>
<stop offset="0.7446" stop-color="#8badfd"/>
<stop offset="0.7717" stop-color="#89acfd"/>
<stop offset="0.7965" stop-color="#85a8fc"/>
<stop offset="0.8544" stop-color="#7da0f9"/>
<stop offset="0.9206" stop-color="#7597f6"/>
<stop offset="1.0000" stop-color="#6f92f3"/>
</linearGradient>
<linearGradient id="g20" gradientUnits="userSpaceOnUse" x1="187" y1="0" x2="1396" y2="0">
<stop offset="0.0000" stop-color="#a3c2fe"/>
<stop offset="0.0935" stop-color="#a3c2fe"/>
<stop offset="0.1596" stop-color="#a2c1ff"/>
<stop offset="0.2010" stop-color="#aac7fd"/>
<stop offset="0.2423" stop-color="#bad0f8"/>
<stop offset="0.2713" stop-color="#c1d4f4"/>
<stop offset="0.2935" stop-color="#bed2f6"/>
<stop offset="0.2993" stop-color="#bcd2f7"/>
<stop offset="0.3050" stop-color="#c1d4f4"/>
<stop offset="0.3079" stop-color="#cdd9ec"/>
<stop offset="0.3108" stop-color="#dddcdc"/>
<stop offset="0.3137" stop-color="#edd1c2"/>
<stop offset="0.3166" stop-color="#f7bca1"/>
<stop offset="0.3199" stop-color="#f4987a"/>
<stop offset="0.3232" stop-color="#e97a5f"/>
<stop offset="0.3290" stop-color="#d65244"/>
<stop offset="0.3390" stop-color="#bd1f2d"/>
<stop offset="0.3621" stop-color="#be242e"/>
<stop offset="0.4090" stop-color="#c53334"/>
<stop offset="0.5000" stop-color="#d44e41"/>
<stop offset="0.5910" stop-color="#e46e56"/>
<stop offset="0.6544" stop-color="#f08a6c"/>
<stop offset="0.6834" stop-color="#f7b79b"/>
<stop offset="0.6863" stop-color="#efcebd"/>
<stop offset="0.6892" stop-color="#e0dbd8"/>
<stop offset="0.6921" stop-color="#d3dbe7"/>
<stop offset="0.6950" stop-color="#c6d6f1"/>
<stop offset="0.7016" stop-color="#b1cbfc"/>
<stop offset="0.7098" stop-color="#a1c0ff"/>
<stop offset="0.7214" stop-color="#94b6ff"/>
<stop offset="0.7446" stop-color="#8caffe"/>
<stop offset="0.7717" stop-color="#89acfd"/>
<stop offset="0.7965" stop-color="#86a9fc"/>
<stop offset="0.8544" stop-color="#7ea1fa"/>
<stop offset="0.9206" stop-color="#7699f6"/>
<stop offset="1.0000" stop-color="#7295f4"/>
</linearGradient>
<linearGradient id="g21" gradientUnits="userSpaceOnUse" x1="187" y1="0" x2="1396" y2="0">
<stop offset="0.0000" stop-color="#a7c5fe"/>
<stop offset="0.0935" stop-color="#a7c5fe"/>
<stop offset="0.1596" stop-color="#a6c4fe"/>
<stop offset="0.2010" stop-color="#adc9fd"/>
<stop offset="0.2423" stop-color="#bbd1f8"/>
<stop offset="0.2713" stop-color="#c3d5f4"/>
<stop offset="0.2935" stop-color="#bfd3f6"/>
<stop offset="0.2993" stop-color="#bed2f6"/>
<stop offset="0.3050" stop-color="#c1d4f4"/>
<stop offset="0.3079" stop-color="#cdd9ec"/>
<stop offset="0.3108" stop-color="#dddcdc"/>
<stop offset="0.3137" stop-color="#edd1c2"/>
<stop offset="0.3166" stop-color="#f6bda2"/>
<stop offset="0.3199" stop-color="#f59d7e"/>
<stop offset="0.3232" stop-color="#ed8366"/>
<stop offset="0.3290" stop-color="#df634e"/>
<stop offset="0.3390" stop-color="#cd423b"/>
<stop offset="0.3621" stop-color="#cf453c"/>
<stop offset="0.4090" stop-color="#d44e41"/>
<stop offset="0.5000" stop-color="#e0654f"/>
<stop offset="0.5910" stop-color="#ed8366"/>
<stop offset="0.6544" stop-color="#f4987a"/>
<stop offset="0.6834" stop-color="#f5c0a7"/>
<stop offset="0.6863" stop-color="#ead4c8"/>
<stop offset="0.6892" stop-color="#dbdcde"/>
<stop offset="0.6921" stop-color="#cedaeb"/>
<stop offset="0.6950" stop-color="#c3d5f4"/>
<stop offset="0.7016" stop-color="#afcafc"/>
<stop offset="0.7098" stop-color="#9fbfff"/>
<stop offset="0.7214" stop-color="#94b6ff"/>
<stop offset="0.7446" stop-color="#8db0fe"/>
<stop offset="0.7717" stop-color="#8badfd"/>
<stop offset="0.7965" stop-color="#88abfd"/>
<stop offset="0.8544" stop-color="#81a4fb"/>
<stop offset="0.9206" stop-color="#799cf8"/>
<stop offset="1.0000" stop-color="#7396f5"/>
</linearGradient>
<linearGradient id="g22" gradientUnits="userSpaceOnUse" x1="187" y1="0" x2="1396" y2="0">
<stop offset="0.0000" stop-color="#aac7fd"/>
<stop offset="0.0935" stop-color="#aac7fd"/>
<stop offset="0.1596" stop-color="#a9c6fd"/>
<stop offset="0.2010" stop-color="#afcafc"/>
<stop offset="0.2423" stop-color="#bed2f6"/>
<stop offset="0.2713" stop-color="#c4d5f3"/>
<stop offset="0.2935" stop-color="#c0d4f5"/>
<stop offset="0.2993" stop-color="#bed2f6"/>
<stop offset="0.3050" stop-color="#c3d5f4"/>
<stop offset="0.3079" stop-color="#cedaeb"/>
<stop offset="0.3108" stop-color="#dddcdc"/>
<stop offset="0.3137" stop-color="#edd1c2"/>
<stop offset="0.3166" stop-color="#f6bea4"/>
<stop offset="0.3199" stop-color="#f6a586"/>
<stop offset="0.3232" stop-color="#f29274"/>
<stop offset="0.3290" stop-color="#ec8165"/>
<stop offset="0.3390" stop-color="#e46e56"/>
<stop offset="0.3621" stop-color="#e57058"/>
<stop offset="0.4090" stop-color="#e9785d"/>
<stop offset="0.5000" stop-color="#f08a6c"/>
<stop offset="0.5910" stop-color="#f5a081"/>
<stop offset="0.6544" stop-color="#f7b396"/>
<stop offset="0.6834" stop-color="#efcfbf"/>
<stop offset="0.6863" stop-color="#e0dbd8"/>
<stop offset="0.6892" stop-color="#d2dbe8"/>
<stop offset="0.6921" stop-color="#c6d6f1"/>
<stop offset="0.6950" stop-color="#bcd2f7"/>
<stop offset="0.7016" stop-color="#aac7fd"/>
<stop offset="0.7098" stop-color="#9ebeff"/>
<stop offset="0.7214" stop-color="#94b6ff"/>
<stop offset="0.7446" stop-color="#8db0fe"/>
<stop offset="0.7717" stop-color="#8caffe"/>
<stop offset="0.7965" stop-color="#89acfd"/>
<stop offset="0.8544" stop-color="#82a6fb"/>
<stop offset="0.9206" stop-color="#7a9df8"/>
<stop offset="1.0000" stop-color="#7597f6"/>
</linearGradient>
<linearGradient id="g23" gradientUnits="userSpaceOnUse" x1="187" y1="0" x2="1396" y2="0">
<stop offset="0.0000" stop-color="#aec9fc"/>
<stop offset="0.0935" stop-color="#aec9fc"/>
<stop offset="0.1596" stop-color="#adc9fd"/>
<stop offset="0.2010" stop-color="#b2ccfb"/>
<stop offset="0.2423" stop-color="#bfd3f6"/>
<stop offset="0.2713" stop-color="#c6d6f1"/>
<stop offset="0.2935" stop-color="#c1d4f4"/>
<stop offset="0.2993" stop-color="#bfd3f6"/>
<stop offset="0.3050" stop-color="#c3d5f4"/>
<stop offset="0.3079" stop-color="#cedaeb"/>
<stop offset="0.3108" stop-color="#dedcdb"/>
<stop offset="0.3137" stop-color="#edd2c3"/>
<stop offset="0.3166" stop-color="#f5c1a9"/>
<stop offset="0.3199" stop-color="#f7b093"/>
<stop offset="0.3232" stop-color="#f7a889"/>
<stop offset="0.3290" stop-color="#f7a98b"/>
<stop offset="0.3390" stop-color="#f7aa8c"/>
<stop offset="0.3621" stop-color="#f7ac8e"/>
<stop offset="0.4090" stop-color="#f7b093"/>
<stop offset="0.5000" stop-color="#f7ba9f"/>
<stop offset="0.5910" stop-color="#f3c8b2"/>
<stop offset="0.6544" stop-color="#edd2c3"/>
<stop offset="0.6834" stop-color="#d9dce1"/>
<stop offset="0.6863" stop-color="#cbd8ee"/>
<stop offset="0.6892" stop-color="#c0d4f5"/>
<stop offset="0.6921" stop-color="#b7cff9"/>
<stop offset="0.6950" stop-color="#afcafc"/>
<stop offset="0.7016" stop-color="#a3c2fe"/>
<stop offset="0.7098" stop-color="#9abbff"/>
<stop offset="0.7214" stop-color="#93b5fe"/>
<stop offset="0.7446" stop-color="#8fb1fe"/>
<stop offset="0.7717" stop-color="#8caffe"/>
<stop offset="0.7965" stop-color="#89acfd"/>
<stop offset="0.8544" stop-color="#84a7fc"/>
<stop offset="0.9206" stop-color="#7b9ff9"/>
<stop offset="1.0000" stop-color="#779af7"/>
</linearGradient>
<linearGradient id="g24" gradientUnits="userSpaceOnUse" x1="187" y1="0" x2="1396" y2="0">
<stop offset="0.0000" stop-color="#b1cbfc"/>
<stop offset="0.0935" stop-color="#b1cbfc"/>
<stop offset="0.1596" stop-color="#afcafc"/>
<stop offset="0.2010" stop-color="#b5cdfa"/>
<stop offset="0.2423" stop-color="#c1d4f4"/>
<stop offset="0.2713" stop-color="#c7d7f0"/>
<stop offset="0.2935" stop-color="#c3d5f4"/>
<stop offset="0.2993" stop-color="#bfd3f6"/>
<stop offset="0.3050" stop-color="#c4d5f3"/>
<stop offset="0.3079" stop-color="#cfdaea"/>
<stop offset="0.3108" stop-color="#dedcdb"/>
<stop offset="0.3137" stop-color="#ecd3c5"/>
<stop offset="0.3166" stop-color="#f3c8b2"/>
<stop offset="0.3199" stop-color="#f5c2aa"/>
<stop offset="0.3232" stop-color="#f2cab5"/>
<stop offset="0.3290" stop-color="#e2dad5"/>
<stop offset="0.3390" stop-color="#cdd9ec"/>
<stop offset="0.3621" stop-color="#cdd9ec"/>
<stop offset="0.4090" stop-color="#cad8ef"/>
<stop offset="0.5000" stop-color="#c4d5f3"/>
<stop offset="0.5910" stop-color="#bbd1f8"/>
<stop offset="0.6544" stop-color="#b2ccfb"/>
<stop offset="0.6834" stop-color="#a1c0ff"/>
<stop offset="0.6863" stop-color="#9dbdff"/>
<stop offset="0.6892" stop-color="#9bbcff"/>
<stop offset="0.6921" stop-color="#98b9ff"/>
<stop offset="0.6950" stop-color="#97b8ff"/>
<stop offset="0.7016" stop-color="#96b7ff"/>
<stop offset="0.7098" stop-color="#93b5fe"/>
<stop offset="0.7214" stop-color="#92b4fe"/>
<stop offset="0.7446" stop-color="#8fb1fe"/>
<stop offset="0.7717" stop-color="#8db0fe"/>
<stop offset="0.7965" stop-color="#8badfd"/>
<stop offset="0.8544" stop-color="#85a8fc"/>
<stop offset="0.9206" stop-color="#7ea1fa"/>
<stop offset="1.0000" stop-color="#799cf8"/>
</linearGradient>
<linearGradient id="g25" gradientUnits="userSpaceOnUse" x1="187" y1="0" x2="1396" y2="0">
<stop offset="0.0000" stop-color="#b3cdfb"/>
<stop offset="0.0935" stop-color="#b3cdfb"/>
<stop offset="0.1596" stop-color="#b2ccfb"/>
<stop offset="0.2010" stop-color="#b7cff9"/>
<stop offset="0.2423" stop-color="#c3d5f4"/>
<stop offset="0.2713" stop-color="#c9d7f0"/>
<stop offset="0.2935" stop-color="#c3d5f4"/>
<stop offset="0.2993" stop-color="#c0d4f5"/>
<stop offset="0.3050" stop-color="#c4d5f3"/>
<stop offset="0.3079" stop-color="#cfdaea"/>
<stop offset="0.3108" stop-color="#dedcdb"/>
<stop offset="0.3137" stop-color="#edd2c3"/>
<stop offset="0.3166" stop-color="#f4c6af"/>
<stop offset="0.3199" stop-color="#f6bea4"/>
<stop offset="0.3232" stop-color="#f5c2aa"/>
<stop offset="0.3290" stop-color="#edd2c3"/>
<stop offset="0.3390" stop-color="#dfdbd9"/>
<stop offset="0.3621" stop-color="#dfdbd9"/>
<stop offset="0.4090" stop-color="#dcdddd"/>
<stop offset="0.5000" stop-color="#d6dce4"/>
<stop offset="0.5910" stop-color="#cdd9ec"/>
<stop offset="0.6544" stop-color="#c4d5f3"/>
<stop offset="0.6834" stop-color="#afcafc"/>
<stop offset="0.6863" stop-color="#aac7fd"/>
<stop offset="0.6892" stop-color="#a5c3fe"/>
<stop offset="0.6921" stop-color="#a1c0ff"/>
<stop offset="0.6950" stop-color="#9ebeff"/>
<stop offset="0.7016" stop-color="#98b9ff"/>
<stop offset="0.7098" stop-color="#96b7ff"/>
<stop offset="0.7214" stop-color="#92b4fe"/>
<stop offset="0.7446" stop-color="#90b2fe"/>
<stop offset="0.7717" stop-color="#8db0fe"/>
<stop offset="0.7965" stop-color="#8badfd"/>
<stop offset="0.8544" stop-color="#86a9fc"/>
<stop offset="0.9206" stop-color="#80a3fa"/>
<stop offset="1.0000" stop-color="#7a9df8"/>
</linearGradient>
<linearGradient id="g26" gradientUnits="userSpaceOnUse" x1="187" y1="0" x2="1396" y2="0">
<stop offset="0.0000" stop-color="#b6cefa"/>
<stop offset="0.1596" stop-color="#b6cefa"/>
<stop offset="0.2010" stop-color="#bad0f8"/>
<stop offset="0.2423" stop-color="#c4d5f3"/>
<stop offset="0.2713" stop-color="#cad8ef"/>
<stop offset="0.2935" stop-color="#c4d5f3"/>
<stop offset="0.2993" stop-color="#c0d4f5"/>
<stop offset="0.3050" stop-color="#c4d5f3"/>
<stop offset="0.3079" stop-color="#cfdaea"/>
<stop offset="0.3108" stop-color="#dedcdb"/>
<stop offset="0.3137" stop-color="#edd1c2"/>
<stop offset="0.3166" stop-color="#f6bfa6"/>
<stop offset="0.3199" stop-color="#f7a98b"/>
<stop offset="0.3232" stop-color="#f49a7b"/>
<stop offset="0.3290" stop-color="#f29072"/>
<stop offset="0.3390" stop-color="#ef886b"/>
<stop offset="0.3621" stop-color="#f08a6c"/>
<stop offset="0.4090" stop-color="#f18f71"/>
<stop offset="0.5000" stop-color="#f59d7e"/>
<stop offset="0.5910" stop-color="#f7b194"/>
<stop offset="0.6544" stop-color="#f5c0a7"/>
<stop offset="0.6834" stop-color="#e8d6cc"/>
<stop offset="0.6863" stop-color="#d9dce1"/>
<stop offset="0.6892" stop-color="#ccd9ed"/>
<stop offset="0.6921" stop-color="#c1d4f4"/>
<stop offset="0.6950" stop-color="#b9d0f9"/>
<stop offset="0.7016" stop-color="#a9c6fd"/>
<stop offset="0.7098" stop-color="#9ebeff"/>
<stop offset="0.7214" stop-color="#96b7ff"/>
<stop offset="0.7446" stop-color="#90b2fe"/>
<stop offset="0.7717" stop-color="#8fb1fe"/>
<stop offset="0.7965" stop-color="#8caffe"/>
<stop offset="0.8544" stop-color="#86a9fc"/>
<stop offset="0.9206" stop-color="#81a4fb"/>
<stop offset="1.0000" stop-color="#7da0f9"/>
</linearGradient>
<linearGradient id="g27" gradientUnits="userSpaceOnUse" x1="187" y1="0" x2="1396" y2="0">
<stop offset="0.0000" stop-color="#bad0f8"/>
<stop offset="0.0935" stop-color="#bad0f8"/>
<stop offset="0.1596" stop-color="#b9d0f9"/>
<stop offset="0.2010" stop-color="#bcd2f7"/>
<stop offset="0.2423" stop-color="#c6d6f1"/>
<stop offset="0.2713" stop-color="#cbd8ee"/>
<stop offset="0.2935" stop-color="#c4d5f3"/>
<stop offset="0.2993" stop-color="#c0d4f5"/>
<stop offset="0.3050" stop-color="#c4d5f3"/>
<stop offset="0.3079" stop-color="#cfdaea"/>
<stop offset="0.3108" stop-color="#dedcdb"/>
<stop offset="0.3137" stop-color="#eed0c0"/>
<stop offset="0.3166" stop-color="#f7bca1"/>
<stop offset="0.3199" stop-color="#f59d7e"/>
<stop offset="0.3232" stop-color="#ed8366"/>
<stop offset="0.3290" stop-color="#e0654f"/>
<stop offset="0.3390" stop-color="#cf453c"/>
<stop offset="0.3621" stop-color="#d0473d"/>
<stop offset="0.4090" stop-color="#d55042"/>
<stop offset="0.5000" stop-color="#e16751"/>
<stop offset="0.5910" stop-color="#ed8366"/>
<stop offset="0.6544" stop-color="#f49a7b"/>
<stop offset="0.6834" stop-color="#f5c1a9"/>
<stop offset="0.6863" stop-color="#ead4c8"/>
<stop offset="0.6892" stop-color="#dbdcde"/>
<stop offset="0.6921" stop-color="#cedaeb"/>
<stop offset="0.6950" stop-color="#c4d5f3"/>
<stop offset="0.7016" stop-color="#afcafc"/>
<stop offset="0.7098" stop-color="#a1c0ff"/>
<stop offset="0.7214" stop-color="#97b8ff"/>
<stop offset="0.7446" stop-color="#92b4fe"/>
<stop offset="0.7717" stop-color="#8fb1fe"/>
<stop offset="0.7965" stop-color="#8caffe"/>
<stop offset="0.8544" stop-color="#88abfd"/>
<stop offset="0.9206" stop-color="#82a6fb"/>
<stop offset="1.0000" stop-color="#7ea1fa"/>
</linearGradient>
<linearGradient id="g28" gradientUnits="userSpaceOnUse" x1="187" y1="0" x2="1396" y2="0">
<stop offset="0.0000" stop-color="#bcd2f7"/>
<stop offset="0.0935" stop-color="#bcd2f7"/>
<stop offset="0.1596" stop-color="#bbd1f8"/>
<stop offset="0.2010" stop-color="#bfd3f6"/>
<stop offset="0.2423" stop-color="#c7d7f0"/>
<stop offset="0.2713" stop-color="#cbd8ee"/>
<stop offset="0.2935" stop-color="#c5d6f2"/>
<stop offset="0.2993" stop-color="#c0d4f5"/>
<stop offset="0.3050" stop-color="#c4d5f3"/>
<stop offset="0.3079" stop-color="#cfdaea"/>
<stop offset="0.3108" stop-color="#dedcdb"/>
<stop offset="0.3137" stop-color="#eed0c0"/>
<stop offset="0.3166" stop-color="#f7ba9f"/>
<stop offset="0.3199" stop-color="#f4987a"/>
<stop offset="0.3232" stop-color="#e9785d"/>
<stop offset="0.3290" stop-color="#d44e41"/>
<stop offset="0.3390" stop-color="#ba162b"/>
<stop offset="0.3621" stop-color="#bb1b2c"/>
<stop offset="0.4090" stop-color="#c32e31"/>
<stop offset="0.5000" stop-color="#d1493f"/>
<stop offset="0.5910" stop-color="#e36c55"/>
<stop offset="0.6544" stop-color="#ee8669"/>
<stop offset="0.6834" stop-color="#f7b497"/>
<stop offset="0.6863" stop-color="#f0cdbb"/>
<stop offset="0.6892" stop-color="#e2dad5"/>
<stop offset="0.6921" stop-color="#d4dbe6"/>
<stop offset="0.6950" stop-color="#c9d7f0"/>
<stop offset="0.7016" stop-color="#b3cdfb"/>
<stop offset="0.7098" stop-color="#a3c2fe"/>
<stop offset="0.7214" stop-color="#98b9ff"/>
<stop offset="0.7446" stop-color="#92b4fe"/>
<stop offset="0.7717" stop-color="#90b2fe"/>
<stop offset="0.7965" stop-color="#8db0fe"/>
<stop offset="0.8544" stop-color="#89acfd"/>
<stop offset="0.9206" stop-color="#84a7fc"/>
<stop offset="1.0000" stop-color="#80a3fa"/>
</linearGradient>
<linearGradient id="g29" gradientUnits="userSpaceOnUse" x1="187" y1="0" x2="1396" y2="0">
<stop offset="0.0000" stop-color="#bfd3f6"/>
<stop offset="0.0935" stop-color="#bfd3f6"/>
<stop offset="0.1596" stop-color="#bed2f6"/>
<stop offset="0.2010" stop-color="#c1d4f4"/>
<stop offset="0.2423" stop-color="#c9d7f0"/>
<stop offset="0.2713" stop-color="#ccd9ed"/>
<stop offset="0.2935" stop-color="#c5d6f2"/>
<stop offset="0.2993" stop-color="#c1d4f4"/>
<stop offset="0.3050" stop-color="#c5d6f2"/>
<stop offset="0.3079" stop-color="#cfdaea"/>
<stop offset="0.3108" stop-color="#dfdbd9"/>
<stop offset="0.3137" stop-color="#eed0c0"/>
<stop offset="0.3166" stop-color="#f7ba9f"/>
<stop offset="0.3199" stop-color="#f4987a"/>
<stop offset="0.3232" stop-color="#e9785d"/>
<stop offset="0.3290" stop-color="#d44e41"/>
<stop offset="0.3390" stop-color="#ba162b"/>
<stop offset="0.3621" stop-color="#bb1b2c"/>
<stop offset="0.4090" stop-color="#c32e31"/>
<stop offset="0.5000" stop-color="#d1493f"/>
<stop offset="0.5910" stop-color="#e36c55"/>
<stop offset="0.6544" stop-color="#ee8669"/>
<stop offset="0.6834" stop-color="#f7b497"/>
<stop offset="0.6863" stop-color="#f0cdbb"/>
<stop offset="0.6892" stop-color="#e2dad5"/>
<stop offset="0.6921" stop-color="#d4dbe6"/>
<stop offset="0.6950" stop-color="#c9d7f0"/>
<stop offset="0.7016" stop-color="#b3cdfb"/>
<stop offset="0.7098" stop-color="#a3c2fe"/>
<stop offset="0.7214" stop-color="#98b9ff"/>
<stop offset="0.7446" stop-color="#92b4fe"/>
<stop offset="0.7717" stop-color="#90b2fe"/>
<stop offset="0.7965" stop-color="#8db0fe"/>
<stop offset="0.8544" stop-color="#8badfd"/>
<stop offset="0.9206" stop-color="#86a9fc"/>
<stop offset="1.0000" stop-color="#81a4fb"/>
</linearGradient>
<linearGradient id="g30" gradientUnits="userSpaceOnUse" x1="187" y1="0" x2="1396" y2="0">
<stop offset="0.0000" stop-color="#c1d4f4"/>
<stop offset="0.0935" stop-color="#c1d4f4"/>
<stop offset="0.1596" stop-color="#c0d4f5"/>
<stop offset="0.2010" stop-color="#c3d5f4"/>
<stop offset="0.2423" stop-color="#cad8ef"/>
<stop offset="0.2713" stop-color="#cdd9ec"/>
<stop offset="0.2935" stop-color="#c5d6f2"/>
<stop offset="0.2993" stop-color="#c1d4f4"/>
<stop offset="0.3050" stop-color="#c5d6f2"/>
<stop offset="0.3079" stop-color="#cfdaea"/>
<stop offset="0.3108" stop-color="#dfdbd9"/>
<stop offset="0.3137" stop-color="#eed0c0"/>
<stop offset="0.3166" stop-color="#f7bca1"/>
<stop offset="0.3199" stop-color="#f59d7e"/>
<stop offset="0.3232" stop-color="#ed8366"/>
<stop offset="0.3290" stop-color="#e0654f"/>
<stop offset="0.3390" stop-color="#cf453c"/>
<stop offset="0.3621" stop-color="#d0473d"/>
<stop offset="0.4090" stop-color="#d55042"/>
<stop offset="0.5000" stop-color="#e16751"/>
<stop offset="0.5910" stop-color="#ed8366"/>
<stop offset="0.6544" stop-color="#f49a7b"/>
<stop offset="0.6834" stop-color="#f5c1a9"/>
<stop offset="0.6863" stop-color="#ead4c8"/>
<stop offset="0.6892" stop-color="#dcdddd"/>
<stop offset="0.6921" stop-color="#cfdaea"/>
<stop offset="0.6950" stop-color="#c4d5f3"/>
<stop offset="0.7016" stop-color="#b1cbfc"/>
<stop offset="0.7098" stop-color="#a2c1ff"/>
<stop offset="0.7214" stop-color="#98b9ff"/>
<stop offset="0.7446" stop-color="#93b5fe"/>
<stop offset="0.7717" stop-color="#90b2fe"/>
<stop offset="0.7965" stop-color="#8fb1fe"/>
<stop offset="0.8544" stop-color="#8caffe"/>
<stop offset="0.9206" stop-color="#88abfd"/>
<stop offset="1.0000" stop-color="#82a6fb"/>
</linearGradient>
<linearGradient id="g31" gradientUnits="userSpaceOnUse" x1="187" y1="0" x2="1396" y2="0">
<stop offset="0.0000" stop-color="#c3d5f4"/>
<stop offset="0.1596" stop-color="#c3d5f4"/>
<stop offset="0.2010" stop-color="#c5d6f2"/>
<stop offset="0.2423" stop-color="#cbd8ee"/>
<stop offset="0.2713" stop-color="#cdd9ec"/>
<stop offset="0.2935" stop-color="#c6d6f1"/>
<stop offset="0.2993" stop-color="#c1d4f4"/>
<stop offset="0.3050" stop-color="#c5d6f2"/>
<stop offset="0.3079" stop-color="#d1dae9"/>
<stop offset="0.3108" stop-color="#dfdbd9"/>
<stop offset="0.3137" stop-color="#edd1c2"/>
<stop offset="0.3166" stop-color="#f6bfa6"/>
<stop offset="0.3199" stop-color="#f7a98b"/>
<stop offset="0.3232" stop-color="#f49a7b"/>
<stop offset="0.3290" stop-color="#f29072"/>
<stop offset="0.3390" stop-color="#ef886b"/>
<stop offset="0.3621" stop-color="#f08a6c"/>
<stop offset="0.4090" stop-color="#f18f71"/>
<stop offset="0.5000" stop-color="#f59d7e"/>
<stop offset="0.5910" stop-color="#f7b194"/>
<stop offset="0.6544" stop-color="#f5c0a7"/>
<stop offset="0.6834" stop-color="#e8d6cc"/>
<stop offset="0.6863" stop-color="#d9dce1"/>
<stop offset="0.6892" stop-color="#ccd9ed"/>
<stop offset="0.6921" stop-color="#c1d4f4"/>
<stop offset="0.6950" stop-color="#b9d0f9"/>
<stop offset="0.7016" stop-color="#a9c6fd"/>
<stop offset="0.7098" stop-color="#9ebeff"/>
<stop offset="0.7214" stop-color="#97b8ff"/>
<stop offset="0.7446" stop-color="#93b5fe"/>
<stop offset="0.7717" stop-color="#92b4fe"/>
<stop offset="0.7965" stop-color="#8fb1fe"/>
<stop offset="0.8544" stop-color="#8caffe"/>
<stop offset="0.9206" stop-color="#89acfd"/>
<stop offset="1.0000" stop-color="#84a7fc"/>
</linearGradient>
<linearGradient id="g32" gradientUnits="userSpaceOnUse" x1="187" y1="0" x2="1396" y2="0">
<stop offset="0.0000" stop-color="#c5d6f2"/>
<stop offset="0.1596" stop-color="#c5d6f2"/>
<stop offset="0.2010" stop-color="#c6d6f1"/>
<stop offset="0.2423" stop-color="#ccd9ed"/>
<stop offset="0.2713" stop-color="#cedaeb"/>
<stop offset="0.2935" stop-color="#c6d6f1"/>
<stop offset="0.2993" stop-color="#c1d4f4"/>
<stop offset="0.3050" stop-color="#c5d6f2"/>
<stop offset="0.3079" stop-color="#d1dae9"/>
<stop offset="0.3108" stop-color="#dfdbd9"/>
<stop offset="0.3137" stop-color="#edd2c3"/>
<stop offset="0.3166" stop-color="#f4c6af"/>
<stop offset="0.3199" stop-color="#f6bea4"/>
<stop offset="0.3232" stop-color="#f5c2aa"/>
<stop offset="0.3290" stop-color="#edd2c3"/>
<stop offset="0.3390" stop-color="#dfdbd9"/>
<stop offset="0.3621" stop-color="#dfdbd9"/>
<stop offset="0.4090" stop-color="#dcdddd"/>
<stop offset="0.5000" stop-color="#d6dce4"/>
<stop offset="0.5910" stop-color="#cdd9ec"/>
<stop offset="0.6544" stop-color="#c4d5f3"/>
<stop offset="0.6834" stop-color="#afcafc"/>
<stop offset="0.6863" stop-color="#aac7fd"/>
<stop offset="0.6892" stop-color="#a5c3fe"/>
<stop offset="0.6921" stop-color="#a2c1ff"/>
<stop offset="0.6950" stop-color="#9fbfff"/>
<stop offset="0.7016" stop-color="#9abbff"/>
<stop offset="0.7098" stop-color="#96b7ff"/>
<stop offset="0.7214" stop-color="#94b6ff"/>
<stop offset="0.7446" stop-color="#93b5fe"/>
<stop offset="0.7717" stop-color="#92b4fe"/>
<stop offset="0.7965" stop-color="#90b2fe"/>
<stop offset="0.8544" stop-color="#8db0fe"/>
<stop offset="0.9206" stop-color="#8badfd"/>
<stop offset="1.0000" stop-color="#85a8fc"/>
</linearGradient>
<linearGradient id="g33" gradientUnits="userSpaceOnUse" x1="187" y1="0" x2="1396" y2="0">
<stop offset="0.0000" stop-color="#c7d7f0"/>
<stop offset="0.0935" stop-color="#c7d7f0"/>
<stop offset="0.1596" stop-color="#c6d6f1"/>
<stop offset="0.2010" stop-color="#c9d7f0"/>
<stop offset="0.2423" stop-color="#ccd9ed"/>
<stop offset="0.2713" stop-color="#cfdaea"/>
<stop offset="0.2935" stop-color="#c6d6f1"/>
<stop offset="0.2993" stop-color="#c1d4f4"/>
<stop offset="0.3050" stop-color="#c5d6f2"/>
<stop offset="0.3079" stop-color="#d1dae9"/>
<stop offset="0.3108" stop-color="#dfdbd9"/>
<stop offset="0.3137" stop-color="#edd2c3"/>
<stop offset="0.3166" stop-color="#f4c6af"/>
<stop offset="0.3199" stop-color="#f6bea4"/>
<stop offset="0.3232" stop-color="#f5c2aa"/>
<stop offset="0.3290" stop-color="#edd2c3"/>
<stop offset="0.3390" stop-color="#dfdbd9"/>
<stop offset="0.3621" stop-color="#dfdbd9"/>
<stop offset="0.4090" stop-color="#dcdddd"/>
<stop offset="0.5000" stop-color="#d6dce4"/>
<stop offset="0.5910" stop-color="#cdd9ec"/>
<stop offset="0.6544" stop-color="#c4d5f3"/>
<stop offset="0.6834" stop-color="#afcafc"/>
<stop offset="0.6863" stop-color="#aac7fd"/>
<stop offset="0.6892" stop-color="#a5c3fe"/>
<stop offset="0.6921" stop-color="#a2c1ff"/>
<stop offset="0.6950" stop-color="#9fbfff"/>
<stop offset="0.7016" stop-color="#9abbff"/>
<stop offset="0.7098" stop-color="#96b7ff"/>
<stop offset="0.7214" stop-color="#94b6ff"/>
<stop offset="0.7446" stop-color="#93b5fe"/>
<stop offset="0.7717" stop-color="#92b4fe"/>
<stop offset="0.7965" stop-color="#90b2fe"/>
<stop offset="0.8544" stop-color="#8fb1fe"/>
<stop offset="0.9206" stop-color="#8caffe"/>
<stop offset="1.0000" stop-color="#86a9fc"/>
</linearGradient>
<linearGradient id="g34" gradientUnits="userSpaceOnUse" x1="187" y1="0" x2="1396" y2="0">
<stop offset="0.0000" stop-color="#cad8ef"/>
<stop offset="0.0935" stop-color="#cad8ef"/>
<stop offset="0.1596" stop-color="#c9d7f0"/>
<stop offset="0.2010" stop-color="#cad8ef"/>
<stop offset="0.2423" stop-color="#cdd9ec"/>
<stop offset="0.2713" stop-color="#cfdaea"/>
<stop offset="0.2935" stop-color="#c6d6f1"/>
<stop offset="0.2993" stop-color="#c1d4f4"/>
<stop offset="0.3050" stop-color="#c5d6f2"/>
<stop offset="0.3079" stop-color="#d1dae9"/>
<stop offset="0.3108" stop-color="#dfdbd9"/>
<stop offset="0.3137" stop-color="#eed0c0"/>
<stop offset="0.3166" stop-color="#f6bfa6"/>
<stop offset="0.3199" stop-color="#f7a98b"/>
<stop offset="0.3232" stop-color="#f49a7b"/>
<stop offset="0.3290" stop-color="#f29072"/>
<stop offset="0.3390" stop-color="#ef886b"/>
<stop offset="0.3621" stop-color="#f08a6c"/>
<stop offset="0.4090" stop-color="#f18f71"/>
<stop offset="0.5000" stop-color="#f59d7e"/>
<stop offset="0.5910" stop-color="#f7b194"/>
<stop offset="0.6544" stop-color="#f5c0a7"/>
<stop offset="0.6834" stop-color="#e8d6cc"/>
<stop offset="0.6863" stop-color="#d9dce1"/>
<stop offset="0.6892" stop-color="#ccd9ed"/>
<stop offset="0.6921" stop-color="#c1d4f4"/>
<stop offset="0.6950" stop-color="#b9d0f9"/>
<stop offset="0.7016" stop-color="#a9c6fd"/>
<stop offset="0.7098" stop-color="#9ebeff"/>
<stop offset="0.7214" stop-color="#97b8ff"/>
<stop offset="0.7446" stop-color="#94b6ff"/>
<stop offset="0.7717" stop-color="#92b4fe"/>
<stop offset="0.7965" stop-color="#90b2fe"/>
<stop offset="0.8544" stop-color="#8fb1fe"/>
<stop offset="0.9206" stop-color="#8db0fe"/>
<stop offset="1.0000" stop-color="#88abfd"/>
</linearGradient>
<linearGradient id="g35" gradientUnits="userSpaceOnUse" x1="187" y1="0" x2="1396" y2="0">
<stop offset="0.0000" stop-color="#cbd8ee"/>
<stop offset="0.1596" stop-color="#cbd8ee"/>
<stop offset="0.2010" stop-color="#ccd9ed"/>
<stop offset="0.2423" stop-color="#cedaeb"/>
<stop offset="0.2713" stop-color="#cfdaea"/>
<stop offset="0.2935" stop-color="#c7d7f0"/>
<stop offset="0.2993" stop-color="#c1d4f4"/>
<stop offset="0.3050" stop-color="#c5d6f2"/>
<stop offset="0.3079" stop-color="#d1dae9"/>
<stop offset="0.3108" stop-color="#dfdbd9"/>
<stop offset="0.3137" stop-color="#eed0c0"/>
<stop offset="0.3166" stop-color="#f7bca1"/>
<stop offset="0.3199" stop-color="#f59d7e"/>
<stop offset="0.3232" stop-color="#ed8366"/>
<stop offset="0.3290" stop-color="#e0654f"/>
<stop offset="0.3390" stop-color="#cf453c"/>
<stop offset="0.3621" stop-color="#d0473d"/>
<stop offset="0.4090" stop-color="#d55042"/>
<stop offset="0.5000" stop-color="#e16751"/>
<stop offset="0.5910" stop-color="#ed8366"/>
<stop offset="0.6544" stop-color="#f49a7b"/>
<stop offset="0.6834" stop-color="#f5c1a9"/>
<stop offset="0.6863" stop-color="#ead4c8"/>
<stop offset="0.6892" stop-color="#dcdddd"/>
<stop offset="0.6921" stop-color="#cfdaea"/>
<stop offset="0.6950" stop-color="#c4d5f3"/>
<stop offset="0.7016" stop-color="#b1cbfc"/>
<stop offset="0.7098" stop-color="#a2c1ff"/>
<stop offset="0.7214" stop-color="#9abbff"/>
<stop offset="0.7446" stop-color="#94b6ff"/>
<stop offset="0.7717" stop-color="#93b5fe"/>
<stop offset="0.7965" stop-color="#92b4fe"/>
<stop offset="0.8544" stop-color="#90b2fe"/>
<stop offset="0.9206" stop-color="#8db0fe"/>
<stop offset="1.0000" stop-color="#89acfd"/>
</linearGradient>
<linearGradient id="g36" gradientUnits="userSpaceOnUse" x1="187" y1="0" x2="1396" y2="0">
<stop offset="0.0000" stop-color="#cdd9ec"/>
<stop offset="0.0935" stop-color="#cdd9ec"/>
<stop offset="0.1596" stop-color="#ccd9ed"/>
<stop offset="0.2010" stop-color="#cdd9ec"/>
<stop offset="0.2423" stop-color="#cfdaea"/>
<stop offset="0.2713" stop-color="#d1dae9"/>
<stop offset="0.2935" stop-color="#c7d7f0"/>
<stop offset="0.2993" stop-color="#c1d4f4"/>
<stop offset="0.3050" stop-color="#c5d6f2"/>
<stop offset="0.3079" stop-color="#d1dae9"/>
<stop offset="0.3108" stop-color="#dfdbd9"/>
<stop offset="0.3137" stop-color="#eed0c0"/>
<stop offset="0.3166" stop-color="#f7ba9f"/>
<stop offset="0.3199" stop-color="#f4987a"/>
<stop offset="0.3232" stop-color="#e9785d"/>
<stop offset="0.3290" stop-color="#d44e41"/>
<stop offset="0.3390" stop-color="#ba162b"/>
<stop offset="0.3621" stop-color="#bb1b2c"/>
<stop offset="0.4090" stop-color="#c32e31"/>
<stop offset="0.5000" stop-color="#d1493f"/>
<stop offset="0.5910" stop-color="#e36c55"/>
<stop offset="0.6544" stop-color="#ee8669"/>
<stop offset="0.6834" stop-color="#f7b497"/>
<stop offset="0.6863" stop-color="#f0cdbb"/>
<stop offset="0.6892" stop-color="#e2dad5"/>
<stop offset="0.6921" stop-color="#d5dbe5"/>
<stop offset="0.6950" stop-color="#c9d7f0"/>
<stop offset="0.7016" stop-color="#b3cdfb"/>
<stop offset="0.7098" stop-color="#a3c2fe"/>
<stop offset="0.7214" stop-color="#9abbff"/>
<stop offset="0.7446" stop-color="#94b6ff"/>
<stop offset="0.7717" stop-color="#93b5fe"/>
<stop offset="0.7965" stop-color="#92b4fe"/>
<stop offset="0.8544" stop-color="#92b4fe"/>
<stop offset="0.9206" stop-color="#8fb1fe"/>
<stop offset="1.0000" stop-color="#8badfd"/>
</linearGradient>
<linearGradient id="g37" gradientUnits="userSpaceOnUse" x1="187" y1="0" x2="1396" y2="0">
<stop offset="0.0000" stop-color="#cedaeb"/>
<stop offset="0.2010" stop-color="#cedaeb"/>
<stop offset="0.2423" stop-color="#cfdaea"/>
<stop offset="0.2713" stop-color="#d1dae9"/>
<stop offset="0.2935" stop-color="#c7d7f0"/>
<stop offset="0.2993" stop-color="#c1d4f4"/>
<stop offset="0.3050" stop-color="#c5d6f2"/>
<stop offset="0.3079" stop-color="#d1dae9"/>
<stop offset="0.3108" stop-color="#dfdbd9"/>
<stop offset="0.3137" stop-color="#eed0c0"/>
<stop offset="0.3166" stop-color="#f7ba9f"/>
<stop offset="0.3199" stop-color="#f4987a"/>
<stop offset="0.3232" stop-color="#e9785d"/>
<stop offset="0.3290" stop-color="#d44e41"/>
<stop offset="0.3390" stop-color="#ba162b"/>
<stop offset="0.3621" stop-color="#bb1b2c"/>
<stop offset="0.4090" stop-color="#c32e31"/>
<stop offset="0.5000" stop-color="#d1493f"/>
<stop offset="0.5910" stop-color="#e36c55"/>
<stop offset="0.6544" stop-color="#ee8669"/>
<stop offset="0.6834" stop-color="#f7b497"/>
<stop offset="0.6863" stop-color="#f0cdbb"/>
<stop offset="0.6892" stop-color="#e2dad5"/>
<stop offset="0.6921" stop-color="#d5dbe5"/>
<stop offset="0.6950" stop-color="#c9d7f0"/>
<stop offset="0.7016" stop-color="#b3cdfb"/>
<stop offset="0.7098" stop-color="#a3c2fe"/>
<stop offset="0.7214" stop-color="#9abbff"/>
<stop offset="0.7446" stop-color="#94b6ff"/>
<stop offset="0.7717" stop-color="#93b5fe"/>
<stop offset="0.7965" stop-color="#92b4fe"/>
<stop offset="0.8544" stop-color="#92b4fe"/>
<stop offset="0.9206" stop-color="#90b2fe"/>
<stop offset="1.0000" stop-color="#8badfd"/>
</linearGradient>
<linearGradient id="g38" gradientUnits="userSpaceOnUse" x1="187" y1="0" x2="1396" y2="0">
<stop offset="0.0000" stop-color="#d1dae9"/>
<stop offset="0.0935" stop-color="#d1dae9"/>
<stop offset="0.1596" stop-color="#cfdaea"/>
<stop offset="0.2010" stop-color="#cfdaea"/>
<stop offset="0.2423" stop-color="#d1dae9"/>
<stop offset="0.2713" stop-color="#d2dbe8"/>
<stop offset="0.2935" stop-color="#c7d7f0"/>
<stop offset="0.2993" stop-color="#c3d5f4"/>
<stop offset="0.3050" stop-color="#c5d6f2"/>
<stop offset="0.3079" stop-color="#d1dae9"/>
<stop offset="0.3108" stop-color="#dfdbd9"/>
<stop offset="0.3137" stop-color="#eed0c0"/>
<stop offset="0.3166" stop-color="#f7bca1"/>
<stop offset="0.3199" stop-color="#f59d7e"/>
<stop offset="0.3232" stop-color="#ed8366"/>
<stop offset="0.3290" stop-color="#e0654f"/>
<stop offset="0.3390" stop-color="#cf453c"/>
<stop offset="0.3621" stop-color="#d0473d"/>
<stop offset="0.4090" stop-color="#d55042"/>
<stop offset="0.5000" stop-color="#e16751"/>
<stop offset="0.5910" stop-color="#ed8366"/>
<stop offset="0.6544" stop-color="#f49a7b"/>
<stop offset="0.6834" stop-color="#f5c1a9"/>
<stop offset="0.6863" stop-color="#ead4c8"/>
<stop offset="0.6892" stop-color="#dcdddd"/>
<stop offset="0.6921" stop-color="#cfdaea"/>
<stop offset="0.6950" stop-color="#c4d5f3"/>
<stop offset="0.7016" stop-color="#b1cbfc"/>
<stop offset="0.7098" stop-color="#a2c1ff"/>
<stop offset="0.7214" stop-color="#9abbff"/>
<stop offset="0.7446" stop-color="#94b6ff"/>
<stop offset="0.7717" stop-color="#93b5fe"/>
<stop offset="0.7965" stop-color="#92b4fe"/>
<stop offset="0.8544" stop-color="#93b5fe"/>
<stop offset="0.9206" stop-color="#92b4fe"/>
<stop offset="1.0000" stop-color="#8caffe"/>
</linearGradient>
<linearGradient id="g39" gradientUnits="userSpaceOnUse" x1="187" y1="0" x2="1396" y2="0">
<stop offset="0.0000" stop-color="#d2dbe8"/>
<stop offset="0.1596" stop-color="#d2dbe8"/>
<stop offset="0.2010" stop-color="#d1dae9"/>
<stop offset="0.2423" stop-color="#d2dbe8"/>
<stop offset="0.2713" stop-color="#d2dbe8"/>
<stop offset="0.2935" stop-color="#c7d7f0"/>
<stop offset="0.2993" stop-color="#c3d5f4"/>
<stop offset="0.3050" stop-color="#c5d6f2"/>
<stop offset="0.3079" stop-color="#d1dae9"/>
<stop offset="0.3108" stop-color="#dfdbd9"/>
<stop offset="0.3137" stop-color="#eed0c0"/>
<stop offset="0.3166" stop-color="#f6bfa6"/>
<stop offset="0.3199" stop-color="#f7a98b"/>
<stop offset="0.3232" stop-color="#f49a7b"/>
<stop offset="0.3290" stop-color="#f29072"/>
<stop offset="0.3390" stop-color="#ef886b"/>
<stop offset="0.3621" stop-color="#f08a6c"/>
<stop offset="0.4090" stop-color="#f18f71"/>
<stop offset="0.5000" stop-color="#f59d7e"/>
<stop offset="0.5910" stop-color="#f7b194"/>
<stop offset="0.6544" stop-color="#f5c0a7"/>
<stop offset="0.6834" stop-color="#e8d6cc"/>
<stop offset="0.6863" stop-color="#d9dce1"/>
<stop offset="0.6892" stop-color="#ccd9ed"/>
<stop offset="0.6921" stop-color="#c1d4f4"/>
<stop offset="0.6950" stop-color="#b9d0f9"/>
<stop offset="0.7016" stop-color="#a9c6fd"/>
<stop offset="0.7098" stop-color="#9fbfff"/>
<stop offset="0.7214" stop-color="#98b9ff"/>
<stop offset="0.7446" stop-color="#94b6ff"/>
<stop offset="0.7717" stop-color="#93b5fe"/>
<stop offset="0.9206" stop-color="#93b5fe"/>
<stop offset="1.0000" stop-color="#8db0fe"/>
</linearGradient>
<linearGradient id="g40" gradientUnits="userSpaceOnUse" x1="187" y1="0" x2="1396" y2="0">
<stop offset="0.0000" stop-color="#d3dbe7"/>
<stop offset="0.1596" stop-color="#d3dbe7"/>
<stop offset="0.2010" stop-color="#d2dbe8"/>
<stop offset="0.2713" stop-color="#d2dbe8"/>
<stop offset="0.2935" stop-color="#c7d7f0"/>
<stop offset="0.2993" stop-color="#c3d5f4"/>
<stop offset="0.3050" stop-color="#c5d6f2"/>
<stop offset="0.3079" stop-color="#d1dae9"/>
<stop offset="0.3108" stop-color="#dfdbd9"/>
<stop offset="0.3137" stop-color="#edd2c3"/>
<stop offset="0.3166" stop-color="#f4c6af"/>
<stop offset="0.3199" stop-color="#f6bea4"/>
<stop offset="0.3232" stop-color="#f5c2aa"/>
<stop offset="0.3290" stop-color="#edd2c3"/>
<stop offset="0.3390" stop-color="#dfdbd9"/>
<stop offset="0.3621" stop-color="#dfdbd9"/>
<stop offset="0.4090" stop-color="#dcdddd"/>
<stop offset="0.5000" stop-color="#d6dce4"/>
<stop offset="0.5910" stop-color="#cdd9ec"/>
<stop offset="0.6544" stop-color="#c4d5f3"/>
<stop offset="0.6834" stop-color="#afcafc"/>
<stop offset="0.6863" stop-color="#aac7fd"/>
<stop offset="0.6892" stop-color="#a5c3fe"/>
<stop offset="0.6921" stop-color="#a2c1ff"/>
<stop offset="0.6950" stop-color="#9fbfff"/>
<stop offset="0.7016" stop-color="#9abbff"/>
<stop offset="0.7098" stop-color="#97b8ff"/>
<stop offset="0.7214" stop-color="#94b6ff"/>
<stop offset="0.7446" stop-color="#94b6ff"/>
<stop offset="0.7717" stop-color="#93b5fe"/>
<stop offset="0.7965" stop-color="#93b5fe"/>
<stop offset="0.8544" stop-color="#94b6ff"/>
<stop offset="0.9206" stop-color="#93b5fe"/>
<stop offset="1.0000" stop-color="#8fb1fe"/>
</linearGradient>
<linearGradient id="g41" gradientUnits="userSpaceOnUse" x1="187" y1="0" x2="1396" y2="0">
<stop offset="0.0000" stop-color="#d4dbe6"/>
<stop offset="0.1596" stop-color="#d4dbe6"/>
<stop offset="0.2010" stop-color="#d3dbe7"/>
<stop offset="0.2423" stop-color="#d3dbe7"/>
<stop offset="0.2713" stop-color="#d2dbe8"/>
<stop offset="0.2935" stop-color="#c7d7f0"/>
<stop offset="0.2993" stop-color="#c3d5f4"/>
<stop offset="0.3050" stop-color="#c5d6f2"/>
<stop offset="0.3079" stop-color="#d1dae9"/>
<stop offset="0.3108" stop-color="#dfdbd9"/>
<stop offset="0.3137" stop-color="#edd1c2"/>
<stop offset="0.3166" stop-color="#f4c5ad"/>
<stop offset="0.3199" stop-color="#f7bca1"/>
<stop offset="0.3232" stop-color="#f6bfa6"/>
<stop offset="0.3290" stop-color="#f1cdba"/>
<stop offset="0.3390" stop-color="#e7d7ce"/>
<stop offset="0.3621" stop-color="#e6d7cf"/>
<stop offset="0.4090" stop-color="#e4d9d2"/>
<stop offset="0.5000" stop-color="#dedcdb"/>
<stop offset="0.5910" stop-color="#d4dbe6"/>
<stop offset="0.6544" stop-color="#ccd9ed"/>
<stop offset="0.6834" stop-color="#b7cff9"/>
<stop offset="0.6863" stop-color="#afcafc"/>
<stop offset="0.6892" stop-color="#aac7fd"/>
<stop offset="0.6921" stop-color="#a5c3fe"/>
<stop offset="0.6950" stop-color="#a2c1ff"/>
<stop offset="0.7016" stop-color="#9bbcff"/>
<stop offset="0.7098" stop-color="#97b8ff"/>
<stop offset="0.7214" stop-color="#96b7ff"/>
<stop offset="0.7446" stop-color="#94b6ff"/>
<stop offset="0.7717" stop-color="#93b5fe"/>
<stop offset="0.7965" stop-color="#93b5fe"/>
<stop offset="0.8544" stop-color="#94b6ff"/>
<stop offset="0.9206" stop-color="#94b6ff"/>
<stop offset="1.0000" stop-color="#8fb1fe"/>
</linearGradient>
<linearGradient id="g42" gradientUnits="userSpaceOnUse" x1="187" y1="0" x2="1396" y2="0">
<stop offset="0.0000" stop-color="#d5dbe5"/>
<stop offset="0.1596" stop-color="#d5dbe5"/>
<stop offset="0.2010" stop-color="#d4dbe6"/>
<stop offset="0.2423" stop-color="#d3dbe7"/>
<stop offset="0.2713" stop-color="#d3dbe7"/>
<stop offset="0.2935" stop-color="#c7d7f0"/>
<stop offset="0.2993" stop-color="#c3d5f4"/>
<stop offset="0.3050" stop-color="#c5d6f2"/>
<stop offset="0.3079" stop-color="#d1dae9"/>
<stop offset="0.3108" stop-color="#dfdbd9"/>
<stop offset="0.3137" stop-color="#eed0c0"/>
<stop offset="0.3166" stop-color="#f6bea4"/>
<stop offset="0.3199" stop-color="#f7a688"/>
<stop offset="0.3232" stop-color="#f39475"/>
<stop offset="0.3290" stop-color="#ee8669"/>
<stop offset="0.3390" stop-color="#e8765c"/>
<stop offset="0.3621" stop-color="#e9785d"/>
<stop offset="0.4090" stop-color="#ec7f63"/>
<stop offset="0.5000" stop-color="#f29072"/>
<stop offset="0.5910" stop-color="#f7a688"/>
<stop offset="0.6544" stop-color="#f7b79b"/>
<stop offset="0.6834" stop-color="#edd2c3"/>
<stop offset="0.6863" stop-color="#dedcdb"/>
<stop offset="0.6892" stop-color="#d1dae9"/>
<stop offset="0.6921" stop-color="#c5d6f2"/>
<stop offset="0.6950" stop-color="#bcd2f7"/>
<stop offset="0.7016" stop-color="#abc8fd"/>
<stop offset="0.7098" stop-color="#9fbfff"/>
<stop offset="0.7214" stop-color="#98b9ff"/>
<stop offset="0.7446" stop-color="#94b6ff"/>
<stop offset="0.7717" stop-color="#94b6ff"/>
<stop offset="0.7965" stop-color="#93b5fe"/>
<stop offset="0.8544" stop-color="#94b6ff"/>
<stop offset="0.9206" stop-color="#94b6ff"/>
<stop offset="1.0000" stop-color="#90b2fe"/>
</linearGradient>
<linearGradient id="g43" gradientUnits="userSpaceOnUse" x1="187" y1="0" x2="1396" y2="0">
<stop offset="0.0000" stop-color="#d6dce4"/>
<stop offset="0.1596" stop-color="#d6dce4"/>
<stop offset="0.2010" stop-color="#d5dbe5"/>
<stop offset="0.2423" stop-color="#d4dbe6"/>
<stop offset="0.2713" stop-color="#d3dbe7"/>
<stop offset="0.2935" stop-color="#c9d7f0"/>
<stop offset="0.2993" stop-color="#c3d5f4"/>
<stop offset="0.3050" stop-color="#c5d6f2"/>
<stop offset="0.3079" stop-color="#d1dae9"/>
<stop offset="0.3108" stop-color="#dfdbd9"/>
<stop offset="0.3137" stop-color="#eed0c0"/>
<stop offset="0.3166" stop-color="#f7bca1"/>
<stop offset="0.3199" stop-color="#f49a7b"/>
<stop offset="0.3232" stop-color="#eb7d62"/>
<stop offset="0.3290" stop-color="#da5a49"/>
<stop offset="0.3390" stop-color="#c53334"/>
<stop offset="0.3621" stop-color="#c73635"/>
<stop offset="0.4090" stop-color="#cc403a"/>
<stop offset="0.5000" stop-color="#d95847"/>
<stop offset="0.5910" stop-color="#e9785d"/>
<stop offset="0.6544" stop-color="#f29072"/>
<stop offset="0.6834" stop-color="#f7bca1"/>
<stop offset="0.6863" stop-color="#edd1c2"/>
<stop offset="0.6892" stop-color="#dfdbd9"/>
<stop offset="0.6921" stop-color="#d2dbe8"/>
<stop offset="0.6950" stop-color="#c6d6f1"/>
<stop offset="0.7016" stop-color="#b2ccfb"/>
<stop offset="0.7098" stop-color="#a3c2fe"/>
<stop offset="0.7214" stop-color="#9abbff"/>
<stop offset="0.7446" stop-color="#96b7ff"/>
<stop offset="0.7717" stop-color="#94b6ff"/>
<stop offset="0.7965" stop-color="#93b5fe"/>
<stop offset="0.8544" stop-color="#96b7ff"/>
<stop offset="0.9206" stop-color="#96b7ff"/>
<stop offset="1.0000" stop-color="#90b2fe"/>
</linearGradient>
<linearGradient id="g44" gradientUnits="userSpaceOnUse" x1="187" y1="0" x2="1396" y2="0">
<stop offset="0.0000" stop-color="#d7dce3"/>
<stop offset="0.1596" stop-color="#d7dce3"/>
<stop offset="0.2010" stop-color="#d6dce4"/>
<stop offset="0.2423" stop-color="#d4dbe6"/>
<stop offset="0.2713" stop-color="#d3dbe7"/>
<stop offset="0.2935" stop-color="#c9d7f0"/>
<stop offset="0.2993" stop-color="#c3d5f4"/>
<stop offset="0.3050" stop-color="#c5d6f2"/>
<stop offset="0.3079" stop-color="#d1dae9"/>
<stop offset="0.3108" stop-color="#dfdbd9"/>
<stop offset="0.3137" stop-color="#eed0c0"/>
<stop offset="0.3166" stop-color="#f7ba9f"/>
<stop offset="0.3199" stop-color="#f39778"/>
<stop offset="0.3232" stop-color="#e8765c"/>
<stop offset="0.3290" stop-color="#d24b40"/>
<stop offset="0.3390" stop-color="#b70d28"/>
<stop offset="0.3621" stop-color="#ba162b"/>
<stop offset="0.4090" stop-color="#c0282f"/>
<stop offset="0.5000" stop-color="#cf453c"/>
<stop offset="0.5910" stop-color="#e26952"/>
<stop offset="0.6544" stop-color="#ee8468"/>
<stop offset="0.6834" stop-color="#f7b396"/>
<stop offset="0.6863" stop-color="#f1cdba"/>
<stop offset="0.6892" stop-color="#e3d9d3"/>
<stop offset="0.6921" stop-color="#d5dbe5"/>
<stop offset="0.6950" stop-color="#cad8ef"/>
<stop offset="0.7016" stop-color="#b3cdfb"/>
<stop offset="0.7098" stop-color="#a5c3fe"/>
<stop offset="0.7214" stop-color="#9bbcff"/>
<stop offset="0.7446" stop-color="#96b7ff"/>
<stop offset="0.7717" stop-color="#94b6ff"/>
<stop offset="0.7965" stop-color="#93b5fe"/>
<stop offset="0.8544" stop-color="#96b7ff"/>
<stop offset="0.9206" stop-color="#97b8ff"/>
<stop offset="1.0000" stop-color="#92b4fe"/>
</linearGradient>
<linearGradient id="g45" gradientUnits="userSpaceOnUse" x1="187" y1="0" x2="1396" y2="0">
<stop offset="0.0000" stop-color="#d8dce2"/>
<stop offset="0.1596" stop-color="#d8dce2"/>
<stop offset="0.2010" stop-color="#d7dce3"/>
<stop offset="0.2423" stop-color="#d5dbe5"/>
<stop offset="0.2713" stop-color="#d3dbe7"/>
<stop offset="0.2935" stop-color="#c9d7f0"/>
<stop offset="0.2993" stop-color="#c3d5f4"/>
<stop offset="0.3050" stop-color="#c5d6f2"/>
<stop offset="0.3079" stop-color="#d1dae9"/>
<stop offset="0.3108" stop-color="#dfdbd9"/>
<stop offset="0.3137" stop-color="#eed0c0"/>
<stop offset="0.3166" stop-color="#f7bca1"/>
<stop offset="0.3199" stop-color="#f49a7b"/>
<stop offset="0.3232" stop-color="#eb7d62"/>
<stop offset="0.3290" stop-color="#da5a49"/>
<stop offset="0.3390" stop-color="#c53334"/>
<stop offset="0.3621" stop-color="#c73635"/>
<stop offset="0.4090" stop-color="#cc403a"/>
<stop offset="0.5000" stop-color="#d95847"/>
<stop offset="0.5910" stop-color="#e9785d"/>
<stop offset="0.6544" stop-color="#f29072"/>
<stop offset="0.6834" stop-color="#f7bca1"/>
<stop offset="0.6863" stop-color="#edd1c2"/>
<stop offset="0.6892" stop-color="#dfdbd9"/>
<stop offset="0.6921" stop-color="#d2dbe8"/>
<stop offset="0.6950" stop-color="#c6d6f1"/>
<stop offset="0.7016" stop-color="#b2ccfb"/>
<stop offset="0.7098" stop-color="#a3c2fe"/>
<stop offset="0.7214" stop-color="#9abbff"/>
<stop offset="0.7446" stop-color="#96b7ff"/>
<stop offset="0.7717" stop-color="#94b6ff"/>
<stop offset="0.7965" stop-color="#94b6ff"/>
<stop offset="0.8544" stop-color="#97b8ff"/>
<stop offset="0.9206" stop-color="#97b8ff"/>
<stop offset="1.0000" stop-color="#92b4fe"/>
</linearGradient>
<linearGradient id="g46" gradientUnits="userSpaceOnUse" x1="187" y1="0" x2="1396" y2="0">
<stop offset="0.0000" stop-color="#d9dce1"/>
<stop offset="0.1596" stop-color="#d9dce1"/>
<stop offset="0.2010" stop-color="#d8dce2"/>
<stop offset="0.2423" stop-color="#d5dbe5"/>
<stop offset="0.2713" stop-color="#d4dbe6"/>
<stop offset="0.2935" stop-color="#c9d7f0"/>
<stop offset="0.2993" stop-color="#c3d5f4"/>
<stop offset="0.3050" stop-color="#c5d6f2"/>
<stop offset="0.3079" stop-color="#d1dae9"/>
<stop offset="0.3108" stop-color="#dfdbd9"/>
<stop offset="0.3137" stop-color="#eed0c0"/>
<stop offset="0.3166" stop-color="#f6bea4"/>
<stop offset="0.3199" stop-color="#f7a688"/>
<stop offset="0.3232" stop-color="#f39475"/>
<stop offset="0.3290" stop-color="#ee8669"/>
<stop offset="0.3390" stop-color="#e8765c"/>
<stop offset="0.3621" stop-color="#e9785d"/>
<stop offset="0.4090" stop-color="#ec7f63"/>
<stop offset="0.5000" stop-color="#f29072"/>
<stop offset="0.5910" stop-color="#f7a688"/>
<stop offset="0.6544" stop-color="#f7b79b"/>
<stop offset="0.6834" stop-color="#edd2c3"/>
<stop offset="0.6863" stop-color="#dedcdb"/>
<stop offset="0.6892" stop-color="#d1dae9"/>
<stop offset="0.6921" stop-color="#c5d6f2"/>
<stop offset="0.6950" stop-color="#bcd2f7"/>
<stop offset="0.7016" stop-color="#abc8fd"/>
<stop offset="0.7098" stop-color="#9fbfff"/>
<stop offset="0.7214" stop-color="#98b9ff"/>
<stop offset="0.7446" stop-color="#96b7ff"/>
<stop offset="0.7717" stop-color="#94b6ff"/>
<stop offset="0.7965" stop-color="#94b6ff"/>
<stop offset="0.8544" stop-color="#97b8ff"/>
<stop offset="0.9206" stop-color="#98b9ff"/>
<stop offset="1.0000" stop-color="#93b5fe"/>
</linearGradient>
<linearGradient id="g47" gradientUnits="userSpaceOnUse" x1="187" y1="0" x2="1396" y2="0">
<stop offset="0.0000" stop-color="#dadce0"/>
<stop offset="0.1596" stop-color="#dadce0"/>
<stop offset="0.2010" stop-color="#d8dce2"/>
<stop offset="0.2423" stop-color="#d5dbe5"/>
<stop offset="0.2713" stop-color="#d4dbe6"/>
<stop offset="0.2935" stop-color="#c9d7f0"/>
<stop offset="0.2993" stop-color="#c3d5f4"/>
<stop offset="0.3050" stop-color="#c5d6f2"/>
<stop offset="0.3079" stop-color="#d1dae9"/>
<stop offset="0.3108" stop-color="#dfdbd9"/>
<stop offset="0.3137" stop-color="#edd1c2"/>
<stop offset="0.3166" stop-color="#f4c5ad"/>
<stop offset="0.3199" stop-color="#f7bca1"/>
<stop offset="0.3232" stop-color="#f6bfa6"/>
<stop offset="0.3290" stop-color="#f1cdba"/>
<stop offset="0.3390" stop-color="#e7d7ce"/>
<stop offset="0.3621" stop-color="#e6d7cf"/>
<stop offset="0.4090" stop-color="#e4d9d2"/>
<stop offset="0.5000" stop-color="#dedcdb"/>
<stop offset="0.5910" stop-color="#d4dbe6"/>
<stop offset="0.6544" stop-color="#ccd9ed"/>
<stop offset="0.6834" stop-color="#b7cff9"/>
<stop offset="0.6863" stop-color="#afcafc"/>
<stop offset="0.6892" stop-color="#aac7fd"/>
<stop offset="0.6921" stop-color="#a5c3fe"/>
<stop offset="0.6950" stop-color="#a2c1ff"/>
<stop offset="0.7016" stop-color="#9bbcff"/>
<stop offset="0.7098" stop-color="#97b8ff"/>
<stop offset="0.7214" stop-color="#96b7ff"/>
<stop offset="0.7446" stop-color="#96b7ff"/>
<stop offset="0.7717" stop-color="#94b6ff"/>
<stop offset="0.7965" stop-color="#94b6ff"/>
<stop offset="0.8544" stop-color="#97b8ff"/>
<stop offset="0.9206" stop-color="#98b9ff"/>
<stop offset="1.0000" stop-color="#93b5fe"/>
</linearGradient>
<linearGradient id="g48" gradientUnits="userSpaceOnUse" x1="187" y1="0" x2="1396" y2="0">
<stop offset="0.0000" stop-color="#dbdcde"/>
<stop offset="0.0935" stop-color="#dbdcde"/>
<stop offset="0.1596" stop-color="#dadce0"/>
<stop offset="0.2010" stop-color="#d9dce1"/>
<stop offset="0.2423" stop-color="#d6dce4"/>
<stop offset="0.2713" stop-color="#d4dbe6"/>
<stop offset="0.2935" stop-color="#c9d7f0"/>
<stop offset="0.2993" stop-color="#c3d5f4"/>
<stop offset="0.3050" stop-color="#c5d6f2"/>
<stop offset="0.3079" stop-color="#d1dae9"/>
<stop offset="0.3108" stop-color="#dfdbd9"/>
<stop offset="0.3137" stop-color="#edd1c2"/>
<stop offset="0.3166" stop-color="#f4c5ad"/>
<stop offset="0.3199" stop-color="#f7bca1"/>
<stop offset="0.3232" stop-color="#f6bfa6"/>
<stop offset="0.3290" stop-color="#f1cdba"/>
<stop offset="0.3390" stop-color="#e7d7ce"/>
<stop offset="0.3621" stop-color="#e6d7cf"/>
<stop offset="0.4090" stop-color="#e4d9d2"/>
<stop offset="0.5000" stop-color="#dedcdb"/>
<stop offset="0.5910" stop-color="#d4dbe6"/>
<stop offset="0.6544" stop-color="#ccd9ed"/>
<stop offset="0.6834" stop-color="#b7cff9"/>
<stop offset="0.6863" stop-color="#afcafc"/>
<stop offset="0.6892" stop-color="#aac7fd"/>
<stop offset="0.6921" stop-color="#a5c3fe"/>
<stop offset="0.6950" stop-color="#a2c1ff"/>
<stop offset="0.7016" stop-color="#9bbcff"/>
<stop offset="0.7098" stop-color="#97b8ff"/>
<stop offset="0.7214" stop-color="#96b7ff"/>
<stop offset="0.7446" stop-color="#96b7ff"/>
<stop offset="0.7717" stop-color="#94b6ff"/>
<stop offset="0.7965" stop-color="#94b6ff"/>
<stop offset="0.8544" stop-color="#97b8ff"/>
<stop offset="0.9206" stop-color="#98b9ff"/>
<stop offset="1.0000" stop-color="#94b6ff"/>
</linearGradient>
<linearGradient id="g49" gradientUnits="userSpaceOnUse" x1="187" y1="0" x2="1396" y2="0">
<stop offset="0.0000" stop-color="#dbdcde"/>
<stop offset="0.1596" stop-color="#dbdcde"/>
<stop offset="0.2010" stop-color="#d9dce1"/>
<stop offset="0.2423" stop-color="#d6dce4"/>
<stop offset="0.2713" stop-color="#d4dbe6"/>
<stop offset="0.2935" stop-color="#c9d7f0"/>
<stop offset="0.2993" stop-color="#c3d5f4"/>
<stop offset="0.3050" stop-color="#c5d6f2"/>
<stop offset="0.3079" stop-color="#d1dae9"/>
<stop offset="0.3108" stop-color="#dfdbd9"/>
<stop offset="0.3137" stop-color="#eed0c0"/>
<stop offset="0.3166" stop-color="#f6bea4"/>
<stop offset="0.3199" stop-color="#f7a688"/>
<stop offset="0.3232" stop-color="#f39475"/>
<stop offset="0.3290" stop-color="#ee8669"/>
<stop offset="0.3390" stop-color="#e8765c"/>
<stop offset="0.3621" stop-color="#e9785d"/>
<stop offset="0.4090" stop-color="#ec7f63"/>
<stop offset="0.5000" stop-color="#f29072"/>
<stop offset="0.5910" stop-color="#f7a688"/>
<stop offset="0.6544" stop-color="#f7b79b"/>
<stop offset="0.6834" stop-color="#edd2c3"/>
<stop offset="0.6863" stop-color="#dedcdb"/>
<stop offset="0.6892" stop-color="#d1dae9"/>
<stop offset="0.6921" stop-color="#c5d6f2"/>
<stop offset="0.6950" stop-color="#bcd2f7"/>
<stop offset="0.7016" stop-color="#abc8fd"/>
<stop offset="0.7098" stop-color="#9fbfff"/>
<stop offset="0.7214" stop-color="#98b9ff"/>
<stop offset="0.7446" stop-color="#96b7ff"/>
<stop offset="0.7717" stop-color="#94b6ff"/>
<stop offset="0.7965" stop-color="#94b6ff"/>
<stop offset="0.8544" stop-color="#98b9ff"/>
<stop offset="0.9206" stop-color="#9abbff"/>
<stop offset="1.0000" stop-color="#94b6ff"/>
</linearGradient>
<linearGradient id="g50" gradientUnits="userSpaceOnUse" x1="187" y1="0" x2="1396" y2="0">
<stop offset="0.0000" stop-color="#dcdddd"/>
<stop offset="0.1596" stop-color="#dcdddd"/>
<stop offset="0.2010" stop-color="#dadce0"/>
<stop offset="0.2423" stop-color="#d6dce4"/>
<stop offset="0.2713" stop-color="#d4dbe6"/>
<stop offset="0.2935" stop-color="#c9d7f0"/>
<stop offset="0.2993" stop-color="#c3d5f4"/>
<stop offset="0.3050" stop-color="#c5d6f2"/>
<stop offset="0.3079" stop-color="#d1dae9"/>
<stop offset="0.3108" stop-color="#dfdbd9"/>
<stop offset="0.3137" stop-color="#eed0c0"/>
<stop offset="0.3166" stop-color="#f7bca1"/>
<stop offset="0.3199" stop-color="#f49a7b"/>
<stop offset="0.3232" stop-color="#eb7d62"/>
<stop offset="0.3290" stop-color="#da5a49"/>
<stop offset="0.3390" stop-color="#c53334"/>
<stop offset="0.3621" stop-color="#c73635"/>
<stop offset="0.4090" stop-color="#cc403a"/>
<stop offset="0.5000" stop-color="#d95847"/>
<stop offset="0.5910" stop-color="#e9785d"/>
<stop offset="0.6544" stop-color="#f29072"/>
<stop offset="0.6834" stop-color="#f7bca1"/>
<stop offset="0.6863" stop-color="#edd1c2"/>
<stop offset="0.6892" stop-color="#dfdbd9"/>
<stop offset="0.6921" stop-color="#d2dbe8"/>
<stop offset="0.6950" stop-color="#c6d6f1"/>
<stop offset="0.7016" stop-color="#b2ccfb"/>
<stop offset="0.7098" stop-color="#a3c2fe"/>
<stop offset="0.7214" stop-color="#9abbff"/>
<stop offset="0.7446" stop-color="#96b7ff"/>
<stop offset="0.7717" stop-color="#94b6ff"/>
<stop offset="0.7965" stop-color="#94b6ff"/>
<stop offset="0.8544" stop-color="#98b9ff"/>
<stop offset="0.9206" stop-color="#9abbff"/>
<stop offset="1.0000" stop-color="#94b6ff"/>
</linearGradient>
<linearGradient id="g51" gradientUnits="userSpaceOnUse" x1="187" y1="0" x2="1396" y2="0">
<stop offset="0.0000" stop-color="#dcdddd"/>
<stop offset="0.1596" stop-color="#dcdddd"/>
<stop offset="0.2010" stop-color="#dadce0"/>
<stop offset="0.2423" stop-color="#d6dce4"/>
<stop offset="0.2713" stop-color="#d4dbe6"/>
<stop offset="0.2935" stop-color="#c9d7f0"/>
<stop offset="0.2993" stop-color="#c3d5f4"/>
<stop offset="0.3050" stop-color="#c5d6f2"/>
<stop offset="0.3079" stop-color="#d1dae9"/>
<stop offset="0.3108" stop-color="#dfdbd9"/>
<stop offset="0.3137" stop-color="#eed0c0"/>
<stop offset="0.3166" stop-color="#f7ba9f"/>
<stop offset="0.3199" stop-color="#f39778"/>
<stop offset="0.3232" stop-color="#e8765c"/>
<stop offset="0.3290" stop-color="#d24b40"/>
<stop offset="0.3390" stop-color="#b70d28"/>
<stop offset="0.3621" stop-color="#ba162b"/>
<stop offset="0.4090" stop-color="#c0282f"/>
<stop offset="0.5000" stop-color="#cf453c"/>
<stop offset="0.5910" stop-color="#e26952"/>
<stop offset="0.6544" stop-color="#ee8468"/>
<stop offset="0.6834" stop-color="#f7b396"/>
<stop offset="0.6863" stop-color="#f1cdba"/>
<stop offset="0.6892" stop-color="#e3d9d3"/>
<stop offset="0.6921" stop-color="#d5dbe5"/>
<stop offset="0.6950" stop-color="#cad8ef"/>
<stop offset="0.7016" stop-color="#b3cdfb"/>
<stop offset="0.7098" stop-color="#a5c3fe"/>
<stop offset="0.7214" stop-color="#9bbcff"/>
<stop offset="0.7446" stop-color="#96b7ff"/>
<stop offset="0.7717" stop-color="#94b6ff"/>
<stop offset="0.7965" stop-color="#94b6ff"/>
<stop offset="0.8544" stop-color="#98b9ff"/>
<stop offset="0.9206" stop-color="#9abbff"/>
<stop offset="1.0000" stop-color="#96b7ff"/>
</linearGradient>
<linearGradient id="g52" gradientUnits="userSpaceOnUse" x1="187" y1="0" x2="1396" y2="0">
<stop offset="0.0000" stop-color="#dddcdc"/>
<stop offset="0.1596" stop-color="#dddcdc"/>
<stop offset="0.2010" stop-color="#dbdcde"/>
<stop offset="0.2423" stop-color="#d7dce3"/>
<stop offset="0.2713" stop-color="#d4dbe6"/>
<stop offset="0.2935" stop-color="#c9d7f0"/>
<stop offset="0.2993" stop-color="#c3d5f4"/>
<stop offset="0.3050" stop-color="#c5d6f2"/>
<stop offset="0.3079" stop-color="#d1dae9"/>
<stop offset="0.3108" stop-color="#dfdbd9"/>
<stop offset="0.3137" stop-color="#eed0c0"/>
<stop offset="0.3166" stop-color="#f7bca1"/>
<stop offset="0.3199" stop-color="#f49a7b"/>
<stop offset="0.3232" stop-color="#eb7d62"/>
<stop offset="0.3290" stop-color="#da5a49"/>
<stop offset="0.3390" stop-color="#c53334"/>
<stop offset="0.3621" stop-color="#c73635"/>
<stop offset="0.4090" stop-color="#cc403a"/>
<stop offset="0.5000" stop-color="#d95847"/>
<stop offset="0.5910" stop-color="#e9785d"/>
<stop offset="0.6544" stop-color="#f29072"/>
<stop offset="0.6834" stop-color="#f7bca1"/>
<stop offset="0.6863" stop-color="#edd1c2"/>
<stop offset="0.6892" stop-color="#dfdbd9"/>
<stop offset="0.6921" stop-color="#d2dbe8"/>
<stop offset="0.6950" stop-color="#c6d6f1"/>
<stop offset="0.7016" stop-color="#b2ccfb"/>
<stop offset="0.7098" stop-color="#a3c2fe"/>
<stop offset="0.7214" stop-color="#9abbff"/>
<stop offset="0.7446" stop-color="#96b7ff"/>
<stop offset="0.7717" stop-color="#94b6ff"/>
<stop offset="0.7965" stop-color="#94b6ff"/>
<stop offset="0.8544" stop-color="#98b9ff"/>
<stop offset="0.9206" stop-color="#9abbff"/>
<stop offset="1.0000" stop-color="#96b7ff"/>
</linearGradient>
<linearGradient id="g53" gradientUnits="userSpaceOnUse" x1="187" y1="0" x2="1396" y2="0">
<stop offset="0.0000" stop-color="#dddcdc"/>
<stop offset="0.1596" stop-color="#dddcdc"/>
<stop offset="0.2010" stop-color="#dbdcde"/>
<stop offset="0.2423" stop-color="#d7dce3"/>
<stop offset="0.2713" stop-color="#d4dbe6"/>
<stop offset="0.2935" stop-color="#c9d7f0"/>
<stop offset="0.2993" stop-color="#c3d5f4"/>
<stop offset="0.3050" stop-color="#c5d6f2"/>
<stop offset="0.3079" stop-color="#d1dae9"/>
<stop offset="0.3108" stop-color="#dfdbd9"/>
<stop offset="0.3137" stop-color="#eed0c0"/>
<stop offset="0.3166" stop-color="#f6bea4"/>
<stop offset="0.3199" stop-color="#f7a688"/>
<stop offset="0.3232" stop-color="#f39475"/>
<stop offset="0.3290" stop-color="#ee8669"/>
<stop offset="0.3390" stop-color="#e8765c"/>
<stop offset="0.3621" stop-color="#e9785d"/>
<stop offset="0.4090" stop-color="#ec7f63"/>
<stop offset="0.5000" stop-color="#f29072"/>
<stop offset="0.5910" stop-color="#f7a688"/>
<stop offset="0.6544" stop-color="#f7b79b"/>
<stop offset="0.6834" stop-color="#edd2c3"/>
<stop offset="0.6863" stop-color="#dedcdb"/>
<stop offset="0.6892" stop-color="#d1dae9"/>
<stop offset="0.6921" stop-color="#c5d6f2"/>
<stop offset="0.6950" stop-color="#bcd2f7"/>
<stop offset="0.7016" stop-color="#abc8fd"/>
<stop offset="0.7098" stop-color="#9fbfff"/>
<stop offset="0.7214" stop-color="#98b9ff"/>
<stop offset="0.7446" stop-color="#96b7ff"/>
<stop offset="0.7717" stop-color="#94b6ff"/>
<stop offset="0.7965" stop-color="#94b6ff"/>
<stop offset="0.8544" stop-color="#98b9ff"/>
<stop offset="0.9206" stop-color="#9bbcff"/>
<stop offset="1.0000" stop-color="#96b7ff"/>
</linearGradient>
<linearGradient id="g54" gradientUnits="userSpaceOnUse" x1="187" y1="0" x2="1396" y2="0">
<stop offset="0.0000" stop-color="#dddcdc"/>
<stop offset="0.1596" stop-color="#dddcdc"/>
<stop offset="0.2010" stop-color="#dbdcde"/>
<stop offset="0.2423" stop-color="#d7dce3"/>
<stop offset="0.2713" stop-color="#d4dbe6"/>
<stop offset="0.2935" stop-color="#c9d7f0"/>
<stop offset="0.2993" stop-color="#c3d5f4"/>
<stop offset="0.3050" stop-color="#c5d6f2"/>
<stop offset="0.3079" stop-color="#d1dae9"/>
<stop offset="0.3108" stop-color="#dfdbd9"/>
<stop offset="0.3137" stop-color="#edd1c2"/>
<stop offset="0.3166" stop-color="#f4c5ad"/>
<stop offset="0.3199" stop-color="#f7bca1"/>
<stop offset="0.3232" stop-color="#f6bfa6"/>
<stop offset="0.3290" stop-color="#f1cdba"/>
<stop offset="0.3390" stop-color="#e7d7ce"/>
<stop offset="0.3621" stop-color="#e6d7cf"/>
<stop offset="0.4090" stop-color="#e4d9d2"/>
<stop offset="0.5000" stop-color="#dedcdb"/>
<stop offset="0.5910" stop-color="#d4dbe6"/>
<stop offset="0.6544" stop-color="#ccd9ed"/>
<stop offset="0.6834" stop-color="#b7cff9"/>
<stop offset="0.6863" stop-color="#afcafc"/>
<stop offset="0.6892" stop-color="#aac7fd"/>
<stop offset="0.6921" stop-color="#a5c3fe"/>
<stop offset="0.6950" stop-color="#a2c1ff"/>
<stop offset="0.7016" stop-color="#9bbcff"/>
<stop offset="0.7098" stop-color="#97b8ff"/>
<stop offset="0.7214" stop-color="#96b7ff"/>
<stop offset="0.7446" stop-color="#96b7ff"/>
<stop offset="0.7717" stop-color="#94b6ff"/>
<stop offset="0.7965" stop-color="#94b6ff"/>
<stop offset="0.8544" stop-color="#98b9ff"/>
<stop offset="0.9206" stop-color="#9bbcff"/>
<stop offset="1.0000" stop-color="#96b7ff"/>
</linearGradient>
<linearGradient id="g55" gradientUnits="userSpaceOnUse" x1="187" y1="0" x2="1396" y2="0">
<stop offset="0.0000" stop-color="#dedcdb"/>
<stop offset="0.0935" stop-color="#dedcdb"/>
<stop offset="0.1596" stop-color="#dddcdc"/>
<stop offset="0.2010" stop-color="#dbdcde"/>
<stop offset="0.2423" stop-color="#d7dce3"/>
<stop offset="0.2713" stop-color="#d4dbe6"/>
<stop offset="0.2935" stop-color="#c9d7f0"/>
<stop offset="0.2993" stop-color="#c3d5f4"/>
<stop offset="0.3050" stop-color="#c5d6f2"/>
<stop offset="0.3079" stop-color="#d1dae9"/>
<stop offset="0.3108" stop-color="#dfdbd9"/>
<stop offset="0.3137" stop-color="#edd1c2"/>
<stop offset="0.3166" stop-color="#f5c4ac"/>
<stop offset="0.3199" stop-color="#f7b99e"/>
<stop offset="0.3232" stop-color="#f7ba9f"/>
<stop offset="0.3290" stop-color="#f4c6af"/>
<stop offset="0.3390" stop-color="#eed0c0"/>
<stop offset="0.3621" stop-color="#eed0c0"/>
<stop offset="0.4090" stop-color="#ecd3c5"/>
<stop offset="0.5000" stop-color="#e6d7cf"/>
<stop offset="0.5910" stop-color="#dddcdc"/>
<stop offset="0.6544" stop-color="#d4dbe6"/>
<stop offset="0.6834" stop-color="#bfd3f6"/>
<stop offset="0.6863" stop-color="#b6cefa"/>
<stop offset="0.6892" stop-color="#afcafc"/>
<stop offset="0.6921" stop-color="#aac7fd"/>
<stop offset="0.6950" stop-color="#a5c3fe"/>
<stop offset="0.7016" stop-color="#9ebeff"/>
<stop offset="0.7098" stop-color="#98b9ff"/>
<stop offset="0.7214" stop-color="#96b7ff"/>
<stop offset="0.7446" stop-color="#96b7ff"/>
<stop offset="0.7717" stop-color="#94b6ff"/>
<stop offset="0.7965" stop-color="#94b6ff"/>
<stop offset="0.8544" stop-color="#98b9ff"/>
<stop offset="0.9206" stop-color="#9bbcff"/>
<stop offset="1.0000" stop-color="#96b7ff"/>
</linearGradient>
<linearGradient id="g56" gradientUnits="userSpaceOnUse" x1="187" y1="0" x2="1396" y2="0">
<stop offset="0.0000" stop-color="#dedcdb"/>
<stop offset="0.1596" stop-color="#dedcdb"/>
<stop offset="0.2010" stop-color="#dbdcde"/>
<stop offset="0.2423" stop-color="#d7dce3"/>
<stop offset="0.2713" stop-color="#d4dbe6"/>
<stop offset="0.2935" stop-color="#c9d7f0"/>
<stop offset="0.2993" stop-color="#c3d5f4"/>
<stop offset="0.3050" stop-color="#c5d6f2"/>
<stop offset="0.3079" stop-color="#d1dae9"/>
<stop offset="0.3108" stop-color="#dfdbd9"/>
<stop offset="0.3137" stop-color="#eed0c0"/>
<stop offset="0.3166" stop-color="#f6bda2"/>
<stop offset="0.3199" stop-color="#f6a283"/>
<stop offset="0.3232" stop-color="#f18d6f"/>
<stop offset="0.3290" stop-color="#e9785d"/>
<stop offset="0.3390" stop-color="#df634e"/>
<stop offset="0.3621" stop-color="#e0654f"/>
<stop offset="0.4090" stop-color="#e36c55"/>
<stop offset="0.5000" stop-color="#ec7f63"/>
<stop offset="0.5910" stop-color="#f4987a"/>
<stop offset="0.6544" stop-color="#f7aa8c"/>
<stop offset="0.6834" stop-color="#f2cbb7"/>
<stop offset="0.6863" stop-color="#e4d9d2"/>
<stop offset="0.6892" stop-color="#d6dce4"/>
<stop offset="0.6921" stop-color="#cad8ef"/>
<stop offset="0.6950" stop-color="#bfd3f6"/>
<stop offset="0.7016" stop-color="#aec9fc"/>
<stop offset="0.7098" stop-color="#a1c0ff"/>
<stop offset="0.7214" stop-color="#9abbff"/>
<stop offset="0.7446" stop-color="#96b7ff"/>
<stop offset="0.7717" stop-color="#94b6ff"/>
<stop offset="0.7965" stop-color="#94b6ff"/>
<stop offset="0.8544" stop-color="#9abbff"/>
<stop offset="0.9206" stop-color="#9bbcff"/>
<stop offset="1.0000" stop-color="#96b7ff"/>
</linearGradient>
<linearGradient id="g57" gradientUnits="userSpaceOnUse" x1="187" y1="0" x2="1396" y2="0">
<stop offset="0.0000" stop-color="#dedcdb"/>
<stop offset="0.1596" stop-color="#dedcdb"/>
<stop offset="0.2010" stop-color="#dbdcde"/>
<stop offset="0.2423" stop-color="#d7dce3"/>
<stop offset="0.2713" stop-color="#d5dbe5"/>
<stop offset="0.2935" stop-color="#c9d7f0"/>
<stop offset="0.2993" stop-color="#c3d5f4"/>
<stop offset="0.3050" stop-color="#c5d6f2"/>
<stop offset="0.3079" stop-color="#d1dae9"/>
<stop offset="0.3108" stop-color="#dfdbd9"/>
<stop offset="0.3137" stop-color="#eed0c0"/>
<stop offset="0.3166" stop-color="#f7ba9f"/>
<stop offset="0.3199" stop-color="#f4987a"/>
<stop offset="0.3232" stop-color="#e97a5f"/>
<stop offset="0.3290" stop-color="#d55042"/>
<stop offset="0.3390" stop-color="#bb1b2c"/>
<stop offset="0.3621" stop-color="#be242e"/>
<stop offset="0.4090" stop-color="#c43032"/>
<stop offset="0.5000" stop-color="#d24b40"/>
<stop offset="0.5910" stop-color="#e46e56"/>
<stop offset="0.6544" stop-color="#ef886b"/>
<stop offset="0.6834" stop-color="#f7b599"/>
<stop offset="0.6863" stop-color="#efcebd"/>
<stop offset="0.6892" stop-color="#e1dad6"/>
<stop offset="0.6921" stop-color="#d4dbe6"/>
<stop offset="0.6950" stop-color="#c9d7f0"/>
<stop offset="0.7016" stop-color="#b3cdfb"/>
<stop offset="0.7098" stop-color="#a3c2fe"/>
<stop offset="0.7214" stop-color="#9bbcff"/>
<stop offset="0.7446" stop-color="#96b7ff"/>
<stop offset="0.7717" stop-color="#94b6ff"/>
<stop offset="0.7965" stop-color="#94b6ff"/>
<stop offset="0.8544" stop-color="#9abbff"/>
<stop offset="0.9206" stop-color="#9bbcff"/>
<stop offset="1.0000" stop-color="#96b7ff"/>
</linearGradient>
</defs>
<g fill="none" stroke-width="1.85" stroke-linejoin="round">
<path d="M187 83 300 83 496 82.4 531 81.8 555.8 81 569.8 81.2 1027.2 81 1069.2 82 1130 82.6 1250 83 1300 83 1396 83" stroke="url(#g0)" stroke-width="2.7"/>
<path d="M187 87.6 300 87.6 385 87.4 475 86.7 503 86.2 524 85.4 538 84.6 552 83.6 555.8 83.2 569.8 82.8 1017.7 82.8 1027.2 83.2 1041.2 84.1 1062.2 85.1 1097.2 86.2 1130 86.7 1160 87 1220 87.4 1300 87.6 1396 87.6" stroke="url(#g1)" stroke-width="2.3"/>
<path d="M187 92.2 300 92.2 355 92.1 415 91.7 468 91 496 90.3 510 89.7 524 88.9 531 88.4 538 87.7 545 87 555.8 85.5 566.3 84.1 569.8 83.9 1014.7 83.9 1019.2 84.4 1025.2 85.3 1041.2 86.9 1055.2 88 1076.2 89.2 1104.2 90.2 1130 90.9 1160 91.4 1220 91.9 1300 92.2 1396 92.2" stroke="url(#g2)" stroke-width="2.15"/>
<path d="M187 96.8 300 96.8 355 96.6 415 96.2 461 95.4 489 94.6 503 93.9 517 93 524 92.4 531 91.7 538 90.9 545 89.9 552 88.7 557.3 87.7 564.8 85.6 567.8 85 569.8 84.8 1013.2 84.8 1014.7 84.9 1016.2 85.1 1019.2 85.8 1025.2 87.6 1027.2 87.9 1034.2 88.9 1041.2 89.8 1055.2 91.2 1069.2 92.3 1090.2 93.6 1118.2 94.7 1130 95 1160 95.7 1190 96.1 1250 96.6 1300 96.8 1396 96.8" stroke="url(#g3)" stroke-width="2.05"/>
<path d="M187 101.4 300 101.4 355 101.2 385 101 415 100.6 461 99.7 482 99 496 98.3 510 97.3 517 96.7 524 96 531 95.1 538 94.1 545 92.9 552 91.4 557.3 90.1 564.8 86.8 566.3 86.3 567.8 85.9 569.8 85.7 1013.2 85.7 1014.7 85.9 1016.2 86.2 1017.7 86.6 1020.7 87.9 1025.2 89.9 1026.7 90.4 1034.2 91.7 1041.2 92.8 1048.2 93.7 1062.2 95.3 1076.2 96.5 1090.2 97.4 1111.2 98.5 1130 99.2 1160 100 1190 100.6 1220 100.9 1250 101.2 1300 101.4 1396 101.4" stroke="url(#g4)" stroke-width="1.95"/>
<path d="M187 105 300 105 355 104.8 385 104.5 415 104.1 454 103.3 475 102.6 489 101.9 503 100.9 510 100.4 517 99.7 524 98.8 531 97.8 538 96.7 545 95.3 552 93.6 557.3 92.1 558.8 91.3 563.3 88.7 564.8 87.9 566.3 87.3 567.8 86.8 569.8 86.6 1013.2 86.6 1014.7 86.7 1016.2 87.1 1017.7 87.7 1019.2 88.4 1023.7 91.1 1025.2 91.9 1026.7 92.5 1034.2 93.9 1041.2 95.2 1048.2 96.2 1055.2 97.2 1069.2 98.7 1083.2 100 1097.2 100.9 1118.2 102 1130 102.5 1160 103.4 1190 104 1220 104.5 1250 104.8 1300 105 1396 105" stroke="url(#g5)"/>
<path d="M187 108 300 108 325 107.9 355 107.8 385 107.5 415 107 454 106.1 475 105.3 489 104.6 503 103.6 510 102.9 517 102.1 524 101.2 531 100.1 538 98.9 545 97.3 552 95.5 557.3 93.8 558.8 92.9 563.3 89.9 564.8 89 566.3 88.2 567.8 87.7 569.3 87.4 1013.2 87.4 1014.7 87.6 1016.2 88 1017.7 88.7 1019.2 89.6 1023.7 92.6 1025.2 93.5 1026.7 94.2 1034.2 95.9 1041.2 97.2 1048.2 98.4 1055.2 99.4 1062.2 100.3 1076.2 101.8 1090.2 103 1111.2 104.4 1130 105.3 1160 106.3 1190 106.9 1220 107.4 1250 107.8 1300 108 1396 108" stroke="url(#g6)"/>
<path d="M187 111 300 111 325 110.9 355 110.7 385 110.4 415 109.9 454 109 475 108.1 489 107.3 503 106.2 510 105.5 517 104.6 524 103.6 531 102.5 538 101.1 545 99.4 552 97.4 555.8 96.2 557.3 95.6 558.8 94.6 563.3 91.1 564.8 90 566.3 89.2 567.8 88.5 569.3 88.2 1013.2 88.2 1014.7 88.4 1016.2 88.9 1017.7 89.7 1019.2 90.7 1023.7 94.2 1025.2 95.3 1026.7 96 1034.2 97.8 1041.2 99.3 1048.2 100.6 1055.2 101.7 1062.2 102.7 1069.2 103.5 1083.2 105 1097.2 106.2 1118.2 107.5 1130 108 1160 109.1 1190 109.9 1220 110.4 1250 110.7 1300 111 1396 111" stroke="url(#g7)"/>
<path d="M187 114 300 114 325 113.9 355 113.7 385 113.4 415 112.9 454 111.8 475 110.9 489 110 503 108.8 510 108.1 517 107.2 524 106.1 531 104.8 538 103.3 545 101.5 552 99.4 555.8 98 557.3 97.4 558.8 96.2 563.3 92.3 564.8 91.1 566.3 90.1 567.8 89.4 569.3 89 1013.2 89 1014.7 89.2 1016.2 89.8 1017.7 90.7 1019.2 91.9 1023.7 95.8 1025.2 97 1026.7 97.9 1034.2 99.8 1041.2 101.4 1048.2 102.8 1055.2 104 1062.2 105 1069.2 106 1083.2 107.6 1097.2 108.8 1111.2 109.8 1130 110.8 1160 112 1190 112.8 1220 113.3 1250 113.7 1280 113.9 1300 114 1396 114" stroke="url(#g8)"/>
<path d="M187 117 300 117 325 116.9 355 116.7 385 116.3 415 115.8 447 114.9 468 114 482 113.2 496 112.2 503 111.5 510 110.7 517 109.7 524 108.6 531 107.2 538 105.6 545 103.7 552 101.4 555.8 100 557.3 99.2 558.8 98 563.3 93.5 564.8 92.2 566.3 91.1 567.8 90.3 569.3 89.9 1013.2 89.9 1014.7 90.1 1016.2 90.8 1017.7 91.8 1019.2 93 1023.7 97.5 1025.2 98.8 1026.7 99.8 1034.2 101.9 1041.2 103.6 1048.2 105 1055.2 106.3 1062.2 107.5 1069.2 108.5 1076.2 109.3 1090.2 110.8 1104.2 112 1130 113.6 1160 114.8 1190 115.7 1220 116.3 1250 116.7 1280 116.9 1300 117 1396 117" stroke="url(#g9)"/>
<path d="M187 120 300 120 325 119.9 355 119.7 385 119.3 415 118.7 447 117.8 468 116.9 482 116 496 114.9 503 114.1 510 113.3 517 112.3 524 111.1 531 109.7 538 108 545 105.9 552 103.5 555.8 102 557.3 101.2 558.8 99.7 563.3 94.8 564.8 93.3 566.3 92.1 567.8 91.2 569.3 90.8 1013.2 90.8 1014.7 91 1016.2 91.8 1017.7 92.9 1019.2 94.3 1023.7 99.2 1025.2 100.7 1026.7 101.8 1034.2 104 1041.2 105.8 1048.2 107.3 1055.2 108.7 1062.2 109.9 1069.2 111 1076.2 111.9 1090.2 113.5 1104.2 114.7 1130 116.4 1160 117.7 1190 118.6 1220 119.2 1250 119.7 1280 119.9 1300 120 1396 120" stroke="url(#g10)"/>
<path d="M187 123 300 123 325 122.9 355 122.7 385 122.2 415 121.6 447 120.7 468 119.7 482 118.8 496 117.6 503 116.8 510 115.9 517 114.9 524 113.6 531 112.1 538 110.3 545 108.2 552 105.7 555.8 104.1 557.3 103.1 558.8 101.6 563.3 96.2 564.8 94.5 566.3 93.2 567.8 92.2 569.3 91.8 1013.2 91.7 1014.7 92 1016.2 92.8 1017.7 94.1 1019.2 95.6 1020.7 97.3 1023.7 101 1025.2 102.7 1026.7 103.9 1034.2 106.2 1041.2 108 1048.2 109.7 1055.2 111.1 1062.2 112.4 1069.2 113.5 1076.2 114.5 1090.2 116.1 1104.2 117.4 1118.2 118.5 1130 119.2 1160 120.6 1190 121.5 1220 122.2 1250 122.7 1280 122.9 1300 123 1396 123" stroke="url(#g11)"/>
<path d="M187 126 300 126 325 125.9 355 125.6 385 125.2 415 124.6 447 123.6 468 122.6 482 121.6 496 120.4 503 119.6 510 118.6 517 117.5 524 116.2 531 114.6 538 112.8 545 110.5 552 107.9 555.8 106.2 557.3 105.2 558.8 103.5 563.3 97.6 564.8 95.9 566.3 94.5 567.8 93.4 569.3 92.9 1013.2 92.8 1014.7 93.2 1016.2 94.1 1017.7 95.4 1019.2 97 1020.7 98.9 1023.7 102.9 1025.2 104.7 1026.7 106 1034.2 108.4 1041.2 110.3 1048.2 112.1 1055.2 113.6 1062.2 114.9 1069.2 116.1 1076.2 117.1 1083.2 118 1097.2 119.5 1111.2 120.8 1130 122 1160 123.5 1190 124.5 1220 125.2 1250 125.6 1280 125.9 1300 126 1396 126" stroke="url(#g12)"/>
<path d="M187 129 300 129 325 128.9 355 128.6 385 128.2 415 127.5 447 126.5 468 125.4 482 124.4 489 123.8 496 123.1 503 122.3 510 121.3 517 120.2 524 118.8 531 117.2 538 115.2 545 112.9 552 110.1 555.8 108.4 557.3 107.3 558.8 105.6 563.3 99.4 564.8 97.6 566.3 96.1 567.8 95 569.3 94.4 1013.2 94.4 1014.7 94.7 1016.2 95.6 1017.7 97 1019.2 98.8 1020.7 100.7 1023.7 104.9 1025.2 106.8 1026.7 108.2 1034.2 110.7 1041.2 112.7 1048.2 114.5 1055.2 116 1062.2 117.4 1069.2 118.6 1076.2 119.7 1083.2 120.7 1097.2 122.3 1111.2 123.6 1130 124.9 1160 126.4 1190 127.4 1220 128.1 1250 128.6 1280 128.9 1300 129 1396 129" stroke="url(#g13)"/>
<path d="M187 132 300 132 325 131.9 355 131.6 385 131.2 415 130.5 447 129.4 468 128.3 482 127.3 489 126.6 496 125.9 503 125.1 510 124 517 122.8 524 121.4 531 119.7 538 117.7 545 115.3 552 112.4 555.8 110.6 557.3 110.4 564.8 108.6 567.8 108.1 569.8 108 1013.2 108 1014.7 108.1 1017.7 108.5 1025.2 110.3 1027.2 110.6 1034.2 113 1041.2 115.1 1048.2 117 1055.2 118.6 1062.2 120 1069.2 121.3 1076.2 122.4 1083.2 123.4 1097.2 125 1111.2 126.4 1130 127.7 1160 129.3 1190 130.4 1220 131.1 1250 131.6 1280 131.9 1300 132 1396 132" stroke="url(#g14)"/>
<path d="M187 135 300 135 325 134.9 355 134.6 385 134.1 415 133.4 447 132.3 468 131.2 482 130.1 489 129.5 496 128.7 503 127.8 510 126.8 517 125.5 524 124.1 531 122.3 538 120.3 545 117.8 552 114.8 555.8 113 557.3 112.8 564.8 110.9 567.8 110.4 569.8 110.3 1013.2 110.3 1014.7 110.4 1017.7 110.8 1025.2 112.6 1027.2 113 1034.2 115.4 1041.2 117.6 1048.2 119.5 1055.2 121.2 1062.2 122.6 1069.2 123.9 1076.2 125.1 1083.2 126.1 1097.2 127.8 1111.2 129.2 1130 130.6 1160 132.2 1190 133.3 1220 134.1 1250 134.6 1280 134.9 1300 135 1396 135" stroke="url(#g15)"/>
<path d="M187 138 300 138 325 137.9 355 137.6 385 137.1 415 136.4 447 135.2 468 134.1 482 133 489 132.3 496 131.5 503 130.6 510 129.6 517 128.3 524 126.8 531 125 538 122.8 545 120.3 552 117.2 555.8 115.3 557.3 115.1 564.8 112.8 566.3 112.4 567.8 112.1 569.8 112 1013.2 112 1014.7 112.1 1016.2 112.3 1019.2 113 1025.2 115 1027.2 115.3 1034.2 117.9 1041.2 120.1 1048.2 122 1055.2 123.8 1062.2 125.3 1069.2 126.6 1076.2 127.8 1083.2 128.9 1090.2 129.8 1104.2 131.4 1118.2 132.6 1130 133.5 1160 135.1 1190 136.3 1220 137 1250 137.6 1280 137.9 1300 138 1396 138" stroke="url(#g16)"/>
<path d="M187 141 300 141 325 140.9 355 140.6 385 140.1 415 139.3 447 138.2 461 137.4 475 136.5 489 135.2 496 134.4 503 133.5 510 132.3 517 131 524 129.5 531 127.7 538 125.5 545 122.9 552 119.7 555.8 117.8 557.3 117.5 564.8 114.5 566.3 114 567.8 113.7 569.8 113.5 1013.2 113.5 1014.7 113.6 1016.2 113.9 1017.7 114.3 1025.2 117.3 1026.7 117.7 1027.2 117.8 1034.2 120.4 1041.2 122.7 1048.2 124.7 1055.2 126.4 1062.2 128 1069.2 129.3 1076.2 130.6 1083.2 131.6 1090.2 132.6 1104.2 134.2 1118.2 135.5 1130 136.4 1160 138.1 1190 139.2 1220 140 1250 140.6 1280 140.9 1300 141 1396 141" stroke="url(#g17)"/>
<path d="M187 144 300 144 325 143.9 355 143.6 385 143.1 415 142.3 440 141.4 461 140.3 475 139.4 489 138.1 496 137.2 503 136.3 510 135.2 517 133.8 524 132.3 531 130.4 538 128.2 545 125.5 552 122.3 555.8 120.3 557.3 119.9 558.8 119.2 563.3 116.8 564.8 116.1 566.3 115.5 567.8 115.1 569.8 114.9 1013.2 114.9 1014.7 115 1016.2 115.4 1017.7 115.9 1020.7 117.3 1023.7 119 1025.2 119.7 1026.7 120.2 1027.2 120.3 1034.2 123 1041.2 125.3 1048.2 127.3 1055.2 129.1 1062.2 130.7 1069.2 132.1 1076.2 133.3 1083.2 134.4 1090.2 135.4 1104.2 137.1 1118.2 138.4 1130 139.3 1160 141 1190 142.2 1220 143 1250 143.6 1280 143.9 1300 144 1396 144" stroke="url(#g18)"/>
<path d="M187 147 300 147 325 146.9 355 146.6 385 146 415 145.3 440 144.4 461 143.3 475 142.3 489 141 496 140.1 503 139.2 510 138 517 136.7 524 135.1 531 133.2 538 130.9 545 128.2 552 124.9 555.8 122.9 557.3 122.4 558.8 121.5 563.3 118.6 564.8 117.7 566.3 117 567.8 116.5 569.3 116.2 1013.2 116.2 1014.7 116.4 1016.2 116.8 1017.7 117.5 1019.2 118.3 1023.7 121.2 1025.2 122.1 1026.7 122.8 1027.2 122.9 1034.2 125.6 1041.2 127.9 1048.2 130 1055.2 131.9 1062.2 133.5 1069.2 134.9 1076.2 136.2 1083.2 137.3 1090.2 138.3 1104.2 139.9 1118.2 141.3 1130 142.2 1160 143.9 1190 145.1 1220 146 1250 146.6 1280 146.9 1300 147 1396 147" stroke="url(#g19)"/>
<path d="M187 150 300 150 325 149.9 355 149.6 385 149 415 148.2 440 147.3 461 146.2 475 145.2 489 143.9 496 143 503 142 510 140.9 517 139.5 524 137.9 531 136 538 133.6 545 130.9 552 127.6 555.8 125.5 557.3 124.9 558.8 123.9 563.3 120.4 564.8 119.4 566.3 118.5 567.8 117.9 569.3 117.6 1013.2 117.5 1014.7 117.7 1016.2 118.3 1017.7 119.1 1019.2 120.1 1023.7 123.6 1025.2 124.6 1026.7 125.4 1027.2 125.5 1034.2 128.3 1041.2 130.7 1048.2 132.8 1055.2 134.6 1062.2 136.3 1069.2 137.7 1076.2 139 1083.2 140.1 1090.2 141.1 1104.2 142.8 1118.2 144.2 1130 145.1 1160 146.9 1190 148.1 1220 149 1250 149.6 1280 149.9 1300 150 1396 150" stroke="url(#g20)"/>
<path d="M187 153 300 153 325 152.9 355 152.6 385 152 415 151.2 440 150.3 461 149.2 475 148.2 482 147.5 489 146.8 496 146 503 145 510 143.8 517 142.4 524 140.7 531 138.8 538 136.5 545 133.7 552 130.3 555.8 128.3 557.3 127.6 558.8 126.4 563.3 122.3 564.8 121.1 566.3 120 567.8 119.3 569.3 118.9 1013.2 118.9 1014.7 119.2 1016.2 119.8 1017.7 120.7 1019.2 121.9 1023.7 126 1025.2 127.2 1026.7 128.1 1027.2 128.3 1034.2 131 1041.2 133.5 1048.2 135.6 1055.2 137.5 1062.2 139.1 1069.2 140.6 1076.2 141.9 1083.2 143 1090.2 144 1104.2 145.7 1118.2 147.1 1130 148.1 1160 149.9 1190 151.1 1220 152 1250 152.6 1280 152.9 1300 153 1396 153" stroke="url(#g21)"/>
<path d="M187 156 300 156 325 155.9 355 155.6 385 155 415 154.2 440 153.3 461 152.1 475 151.1 482 150.5 489 149.8 496 148.9 503 147.9 510 146.7 517 145.3 524 143.6 531 141.7 538 139.3 545 136.5 552 133.2 557.3 130.3 558.8 128.9 563.3 124.2 564.8 122.8 566.3 121.7 567.8 120.9 569.3 120.4 1013.2 120.4 1014.7 120.7 1016.2 121.4 1017.7 122.4 1019.2 123.7 1023.7 128.4 1025.2 129.8 1026.7 130.9 1034.2 133.8 1041.2 136.3 1048.2 138.4 1055.2 140.3 1062.2 142 1069.2 143.5 1076.2 144.8 1083.2 145.9 1090.2 147 1104.2 148.7 1118.2 150.1 1130 151 1160 152.8 1190 154.1 1220 155 1250 155.5 1280 155.9 1300 156 1396 156" stroke="url(#g22)"/>
<path d="M187 159 300 159 325 158.9 355 158.6 385 158 415 157.2 440 156.3 461 155.1 475 154.1 482 153.5 489 152.7 496 151.9 503 150.8 510 149.6 517 148.2 524 146.6 531 144.6 538 142.2 545 139.4 552 136 557.3 133 558.8 131.5 563.3 126.3 564.8 124.8 566.3 123.5 567.8 122.6 569.3 122.1 1013.2 122.1 1014.7 122.4 1016.2 123.2 1017.7 124.3 1019.2 125.8 1023.7 131 1025.2 132.6 1026.7 133.7 1034.2 136.7 1041.2 139.2 1048.2 141.3 1055.2 143.2 1062.2 144.9 1069.2 146.4 1076.2 147.7 1083.2 148.9 1090.2 149.9 1104.2 151.6 1118.2 153 1130 154 1160 155.8 1190 157.1 1220 157.9 1250 158.5 1280 158.9 1300 159 1396 159" stroke="url(#g23)"/>
<path d="M187 162 300 162 325 161.9 355 161.6 385 161 415 160.2 440 159.3 461 158.1 475 157.1 482 156.4 489 155.7 496 154.8 503 153.8 510 152.6 517 151.2 524 149.5 531 147.5 538 145.2 545 142.3 552 139 555.8 136.8 557.3 135.9 558.8 134.3 563.3 128.8 564.8 127.2 566.3 125.9 567.8 124.9 569.3 124.4 1013.2 124.4 1014.7 124.7 1016.2 125.5 1017.7 126.7 1019.2 128.3 1020.7 130 1023.7 133.8 1025.2 135.4 1026.7 136.7 1034.2 139.6 1041.2 142.1 1048.2 144.3 1055.2 146.2 1062.2 147.9 1069.2 149.4 1076.2 150.7 1083.2 151.8 1090.2 152.9 1104.2 154.6 1118.2 156 1130 157 1160 158.8 1190 160.1 1220 160.9 1250 161.5 1280 161.9 1300 162 1396 162" stroke="url(#g24)"/>
<path d="M187 165 300 165 325 164.9 355 164.6 385 164 415 163.2 440 162.2 461 161.1 475 160.1 482 159.4 489 158.7 496 157.8 503 156.8 510 155.6 517 154.2 524 152.5 531 150.5 538 148.2 545 145.3 552 141.9 555.8 139.8 558.8 139.5 564.8 138.4 567.8 138.1 569.8 138 1014.7 138 1017.7 138.3 1025.2 139.6 1027.2 139.8 1034.2 142.6 1041.2 145.1 1048.2 147.3 1055.2 149.2 1062.2 150.9 1069.2 152.4 1076.2 153.7 1083.2 154.8 1090.2 155.9 1104.2 157.6 1118.2 159 1130 160 1160 161.8 1190 163.1 1220 163.9 1250 164.5 1280 164.9 1300 165 1396 165" stroke="url(#g25)"/>
<path d="M187 168 300 168 325 167.9 355 167.6 385 167 415 166.2 440 165.3 461 164.1 475 163.1 482 162.4 489 161.7 496 160.8 503 159.8 510 158.6 517 157.2 524 155.6 531 153.6 538 151.2 545 148.4 552 145 555.8 142.9 557.3 142.7 564.8 141.2 567.8 140.8 569.8 140.7 1013.2 140.7 1016.2 140.9 1025.2 142.6 1027.2 142.9 1034.2 145.7 1041.2 148.2 1048.2 150.3 1055.2 152.2 1062.2 153.9 1069.2 155.4 1076.2 156.7 1083.2 157.9 1090.2 158.9 1104.2 160.6 1118.2 162 1130 163 1160 164.8 1190 166.1 1220 166.9 1250 167.5 1280 167.9 1300 168 1396 168" stroke="url(#g26)"/>
<path d="M187 171 300 171 325 170.9 355 170.6 385 170 415 169.2 440 168.3 461 167.1 475 166.1 482 165.5 489 164.7 496 163.9 503 162.9 510 161.7 517 160.3 524 158.6 531 156.6 538 154.3 545 151.5 552 148.1 555.8 146 557.3 145.8 564.8 143.6 567.8 143 569.8 142.8 1013.2 142.8 1014.7 142.9 1016.2 143.1 1019.2 143.8 1025.2 145.6 1027.2 146 1034.2 148.8 1041.2 151.2 1048.2 153.4 1055.2 155.3 1062.2 157 1069.2 158.4 1076.2 159.8 1083.2 160.9 1090.2 161.9 1104.2 163.7 1118.2 165.1 1130 166 1160 167.8 1190 169.1 1220 170 1250 170.5 1280 170.9 1300 171 1396 171" stroke="url(#g27)"/>
<path d="M187 174 300 174 325 173.9 355 173.6 385 173 415 172.2 440 171.3 461 170.2 475 169.1 482 168.5 489 167.8 496 166.9 503 165.9 510 164.8 517 163.4 524 161.7 531 159.7 538 157.4 545 154.6 552 151.3 555.8 149.2 557.3 148.8 564.8 145.7 566.3 145.3 567.8 144.9 569.8 144.7 1013.2 144.7 1014.7 144.8 1016.2 145.1 1017.7 145.6 1020.7 146.8 1025.2 148.7 1026.7 149.1 1027.2 149.2 1034.2 152 1041.2 154.4 1048.2 156.5 1055.2 158.4 1062.2 160.1 1069.2 161.5 1076.2 162.8 1083.2 164 1090.2 165 1104.2 166.7 1118.2 168.1 1130 169 1160 170.9 1190 172.1 1220 173 1250 173.5 1280 173.9 1300 174 1396 174" stroke="url(#g28)"/>
<path d="M187 177 300 177 325 176.9 355 176.6 385 176 415 175.2 440 174.3 461 173.2 475 172.2 482 171.6 489 170.8 496 170 503 169 510 167.8 517 166.5 524 164.8 531 162.9 538 160.6 545 157.8 552 154.5 555.8 152.4 557.3 152 558.8 151.2 563.3 148.7 564.8 147.9 566.3 147.3 567.8 146.8 569.8 146.6 1013.2 146.6 1014.7 146.7 1016.2 147.1 1017.7 147.7 1020.7 149.2 1023.7 151 1025.2 151.8 1026.7 152.3 1027.2 152.4 1034.2 155.2 1041.2 157.6 1048.2 159.7 1055.2 161.6 1062.2 163.2 1069.2 164.7 1076.2 165.9 1083.2 167.1 1090.2 168.1 1104.2 169.8 1118.2 171.2 1130 172.1 1160 173.9 1190 175.1 1220 176 1250 176.6 1280 176.9 1300 177 1396 177" stroke="url(#g29)"/>
<path d="M187 180 300 180 325 179.9 355 179.6 385 179 415 178.3 440 177.3 461 176.3 475 175.3 489 173.9 496 173.1 503 172.1 510 171 517 169.6 524 168 531 166.1 538 163.8 545 161 552 157.8 555.8 155.7 557.3 155.2 558.8 154.3 563.3 151.1 564.8 150.1 566.3 149.3 567.8 148.8 569.3 148.5 1013.2 148.5 1014.7 148.6 1016.2 149.1 1017.7 149.8 1019.2 150.7 1023.7 153.9 1025.2 154.9 1026.7 155.6 1027.2 155.7 1034.2 158.4 1041.2 160.8 1048.2 162.9 1055.2 164.8 1062.2 166.4 1069.2 167.8 1076.2 169.1 1083.2 170.2 1090.2 171.2 1104.2 172.9 1118.2 174.2 1130 175.2 1160 176.9 1190 178.1 1220 179 1250 179.6 1280 179.9 1300 180 1396 180" stroke="url(#g30)"/>
<path d="M187 183 300 183 325 182.9 355 182.6 385 182.1 415 181.3 440 180.4 461 179.3 475 178.3 489 177 496 176.2 503 175.2 510 174.1 517 172.7 524 171.2 531 169.3 538 167 545 164.3 552 161.1 555.8 159.1 557.3 158.5 558.8 157.4 563.3 153.6 564.8 152.5 566.3 151.6 567.8 150.9 569.3 150.6 1013.2 150.5 1014.7 150.8 1016.2 151.3 1017.7 152.2 1019.2 153.2 1023.7 157 1025.2 158.1 1026.7 159 1027.2 159.1 1034.2 161.8 1041.2 164.1 1048.2 166.2 1055.2 168 1062.2 169.6 1069.2 171 1076.2 172.2 1083.2 173.4 1090.2 174.3 1104.2 176 1118.2 177.3 1130 178.2 1160 180 1190 181.2 1220 182 1250 182.6 1280 182.9 1300 183 1396 183" stroke="url(#g31)"/>
<path d="M187 186 300 186 325 185.9 355 185.6 385 185.1 415 184.3 440 183.4 461 182.4 475 181.4 489 180.1 496 179.3 503 178.4 510 177.2 517 175.9 524 174.4 531 172.5 538 170.3 545 167.6 552 164.5 555.8 162.5 557.3 161.8 558.8 160.7 563.3 156.6 564.8 155.4 566.3 154.4 567.8 153.7 569.3 153.3 1013.2 153.3 1014.7 153.5 1016.2 154.1 1017.7 155 1019.2 156.2 1023.7 160.2 1025.2 161.5 1026.7 162.4 1034.2 165.1 1041.2 167.4 1048.2 169.5 1055.2 171.2 1062.2 172.8 1069.2 174.2 1076.2 175.4 1083.2 176.5 1090.2 177.5 1104.2 179.1 1118.2 180.4 1130 181.3 1160 183 1190 184.2 1220 185 1250 185.6 1280 185.9 1300 186 1396 186" stroke="url(#g32)"/>
<path d="M187 189 300 189 325 188.9 355 188.6 385 188.1 415 187.4 447 186.2 461 185.4 475 184.5 489 183.2 496 182.4 503 181.5 510 180.4 517 179.1 524 177.6 531 175.8 538 173.6 545 171 552 167.9 555.8 166 566.3 167.3 569.8 167.4 1014.7 167.4 1027.2 166 1034.2 168.6 1041.2 170.8 1048.2 172.8 1055.2 174.5 1062.2 176.1 1069.2 177.4 1076.2 178.6 1083.2 179.7 1090.2 180.7 1104.2 182.3 1118.2 183.5 1130 184.4 1160 186.1 1190 187.2 1220 188 1250 188.6 1280 188.9 1300 189 1396 189" stroke="url(#g33)"/>
<path d="M187 192 300 192 325 191.9 355 191.6 385 191.1 415 190.4 447 189.2 468 188.1 482 187 489 186.4 496 185.6 503 184.7 510 183.6 517 182.4 524 180.9 531 179.1 538 177 545 174.4 552 171.4 555.8 169.5 569.8 170.2 1016.2 170.1 1027.2 169.5 1034.2 172 1041.2 174.2 1048.2 176.2 1055.2 177.9 1062.2 179.4 1069.2 180.7 1076.2 181.9 1083.2 182.9 1090.2 183.8 1104.2 185.4 1118.2 186.6 1130 187.5 1160 189.2 1190 190.3 1220 191.1 1250 191.6 1280 191.9 1300 192 1396 192" stroke="url(#g34)"/>
<path d="M187 195 300 195 325 194.9 355 194.6 385 194.1 415 193.4 447 192.3 468 191.2 482 190.2 489 189.5 496 188.8 503 187.9 510 186.8 517 185.6 524 184.1 531 182.4 538 180.3 545 177.9 552 174.9 555.8 173.1 567.8 172.3 1014.7 172.3 1027.2 173.1 1034.2 175.5 1041.2 177.7 1048.2 179.6 1055.2 181.2 1062.2 182.7 1069.2 184 1076.2 185.1 1083.2 186.2 1097.2 187.9 1111.2 189.2 1130 190.6 1160 192.2 1190 193.3 1220 194.1 1250 194.6 1280 194.9 1300 195 1396 195" stroke="url(#g35)"/>
<path d="M187 198 300 198 325 197.9 355 197.6 385 197.2 415 196.5 447 195.4 468 194.3 482 193.3 489 192.7 496 191.9 503 191.1 510 190.1 517 188.9 524 187.5 531 185.8 538 183.8 545 181.4 552 178.5 555.8 176.7 557.3 176.5 564.8 174.7 567.8 174.3 569.8 174.2 1013.2 174.2 1014.7 174.2 1017.7 174.6 1025.2 176.4 1027.2 176.7 1034.2 179.1 1041.2 181.2 1048.2 183 1055.2 184.6 1062.2 186.1 1069.2 187.3 1076.2 188.4 1083.2 189.4 1097.2 191.1 1111.2 192.4 1130 193.8 1160 195.3 1190 196.4 1220 197.1 1250 197.6 1280 197.9 1300 198 1396 198" stroke="url(#g36)"/>
<path d="M187 201 300 201 325 200.9 355 200.6 385 200.2 415 199.5 447 198.5 468 197.4 482 196.4 489 195.8 496 195.1 503 194.3 510 193.3 517 192.2 524 190.8 531 189.2 538 187.2 545 184.9 552 182.1 555.8 180.4 557.3 180.1 564.8 177 566.3 176.5 567.8 176.2 569.8 176 1013.2 176 1014.7 176.1 1016.2 176.4 1017.7 176.8 1025.2 179.9 1026.7 180.3 1027.2 180.4 1034.2 182.7 1041.2 184.7 1048.2 186.5 1055.2 188.1 1062.2 189.4 1069.2 190.7 1076.2 191.7 1083.2 192.7 1097.2 194.3 1111.2 195.6 1130 196.9 1160 198.4 1190 199.4 1220 200.1 1250 200.6 1280 200.9 1300 201 1396 201" stroke="url(#g37)"/>
<path d="M187 204 300 204 325 203.9 355 203.6 385 203.2 415 202.6 447 201.6 468 200.5 482 199.6 496 198.3 503 197.5 510 196.6 517 195.5 524 194.1 531 192.6 538 190.7 545 188.5 552 185.8 555.8 184.1 557.3 183.6 558.8 182.9 563.3 180.1 564.8 179.3 566.3 178.6 567.8 178.2 569.8 177.9 1013.2 177.9 1014.7 178 1016.2 178.5 1017.7 179.1 1019.2 179.8 1023.7 182.6 1025.2 183.4 1026.7 184 1027.2 184.1 1034.2 186.3 1041.2 188.3 1048.2 190 1055.2 191.5 1062.2 192.8 1069.2 194 1076.2 195.1 1083.2 196 1097.2 197.5 1111.2 198.7 1130 200 1160 201.5 1190 202.5 1220 203.2 1250 203.6 1280 203.9 1300 204 1396 204" stroke="url(#g38)"/>
<path d="M187 207 300 207 325 206.9 355 206.7 385 206.2 415 205.6 447 204.7 468 203.7 482 202.8 496 201.6 503 200.8 510 199.9 517 198.8 524 197.5 531 196 538 194.2 545 192.1 552 189.5 557.3 187.3 558.8 186.3 563.3 182.8 564.8 181.8 566.3 180.9 567.8 180.3 569.3 180 1013.2 180 1014.7 180.2 1016.2 180.7 1017.7 181.5 1019.2 182.5 1023.7 185.9 1025.2 187 1026.7 187.8 1034.2 190 1041.2 191.9 1048.2 193.5 1055.2 195 1062.2 196.3 1069.2 197.4 1076.2 198.4 1090.2 200.1 1104.2 201.4 1118.2 202.4 1130 203.2 1160 204.6 1190 205.5 1220 206.2 1250 206.7 1280 206.9 1300 207 1396 207" stroke="url(#g39)"/>
<path d="M187 210 300 210 325 209.9 355 209.7 385 209.3 415 208.7 447 207.8 468 206.8 482 205.9 496 204.8 503 204 510 203.2 517 202.1 524 200.9 531 199.5 538 197.7 545 195.7 552 193.2 557.3 191 558.8 189.9 563.3 185.9 564.8 184.8 566.3 183.8 567.8 183.1 569.3 182.8 1013.2 182.7 1014.7 182.9 1016.2 183.5 1017.7 184.4 1019.2 185.5 1023.7 189.5 1025.2 190.7 1026.7 191.5 1034.2 193.7 1041.2 195.5 1048.2 197.1 1055.2 198.5 1062.2 199.7 1069.2 200.8 1076.2 201.8 1090.2 203.4 1104.2 204.6 1118.2 205.6 1130 206.3 1160 207.7 1190 208.6 1220 209.2 1250 209.7 1280 209.9 1300 210 1396 210" stroke="url(#g40)"/>
<path d="M187 213 300 213 325 212.9 355 212.7 385 212.3 415 211.7 447 210.9 468 210 482 209.1 496 208 503 207.3 510 206.5 517 205.5 524 204.3 531 203 538 201.3 545 199.3 552 197 555.8 195.5 566.3 196.9 569.8 197.1 1014.7 197.1 1019.2 196.6 1025.2 195.7 1027.2 195.5 1034.2 197.5 1041.2 199.2 1048.2 200.7 1055.2 202 1062.2 203.2 1069.2 204.2 1076.2 205.1 1090.2 206.7 1104.2 207.9 1130 209.5 1160 210.8 1190 211.7 1220 212.3 1250 212.7 1280 212.9 1300 213 1396 213" stroke="url(#g41)"/>
<path d="M187 216 300 216 325 215.9 355 215.7 385 215.3 415 214.8 447 214 468 213.1 482 212.3 496 211.3 503 210.6 510 209.8 517 208.9 524 207.8 531 206.5 538 204.9 545 203 552 200.8 555.8 199.4 569.8 200.1 1016.2 200 1027.2 199.4 1034.2 201.3 1041.2 202.9 1048.2 204.3 1055.2 205.6 1062.2 206.7 1069.2 207.7 1083.2 209.3 1097.2 210.6 1111.2 211.6 1130 212.7 1160 213.9 1190 214.7 1220 215.3 1250 215.7 1280 215.9 1300 216 1396 216" stroke="url(#g42)"/>
<path d="M187 219 300 219 325 218.9 355 218.7 385 218.4 415 217.9 454 216.8 475 215.9 489 215.1 503 213.9 510 213.2 517 212.3 524 211.2 531 210 538 208.5 545 206.7 552 204.6 555.8 203.3 567.8 202.4 1014.7 202.4 1027.2 203.3 1034.2 205.1 1041.2 206.6 1048.2 208 1055.2 209.1 1062.2 210.2 1069.2 211.1 1083.2 212.7 1097.2 213.9 1118.2 215.3 1130 215.9 1160 217 1190 217.8 1220 218.3 1250 218.7 1280 218.9 1300 219 1396 219" stroke="url(#g43)"/>
<path d="M187 222 300 222 325 221.9 355 221.7 385 221.4 415 220.9 454 220 475 219.1 489 218.3 503 217.2 510 216.5 517 215.7 524 214.7 531 213.5 538 212.1 545 210.5 552 208.5 555.8 207.3 557.3 207 564.8 205.1 567.8 204.6 569.8 204.5 1013.2 204.5 1014.7 204.6 1017.7 205 1025.2 206.9 1027.2 207.3 1034.2 208.9 1041.2 210.3 1048.2 211.6 1055.2 212.7 1062.2 213.7 1069.2 214.6 1083.2 216 1097.2 217.2 1118.2 218.5 1130 219.1 1160 220.1 1190 220.9 1220 221.4 1250 221.7 1300 222 1396 222" stroke="url(#g44)"/>
<path d="M187 225 300 225 325 224.9 355 224.8 385 224.5 415 224 454 223.1 475 222.3 489 221.5 503 220.5 510 219.9 517 219.1 524 218.2 531 217.1 538 215.8 545 214.2 552 212.4 555.8 211.2 557.3 210.9 564.8 207.7 566.3 207.2 567.8 206.8 569.8 206.6 1013.2 206.6 1014.7 206.8 1016.2 207.1 1017.7 207.5 1020.7 208.7 1025.2 210.7 1026.7 211.2 1034.2 212.8 1041.2 214.1 1048.2 215.3 1055.2 216.4 1062.2 217.3 1076.2 218.8 1090.2 220 1111.2 221.4 1130 222.3 1160 223.3 1190 223.9 1220 224.4 1250 224.8 1300 225 1396 225" stroke="url(#g45)"/>
<path d="M187 228 300 228 355 227.8 385 227.5 415 227.1 454 226.2 475 225.5 489 224.8 503 223.8 510 223.2 517 222.5 524 221.7 531 220.7 538 219.5 545 218 552 216.3 557.3 214.8 558.8 214 563.3 211.2 564.8 210.4 566.3 209.7 567.8 209.2 569.8 208.9 1013.2 208.9 1014.7 209.1 1016.2 209.5 1017.7 210.1 1019.2 210.9 1023.7 213.7 1025.2 214.5 1026.7 215.1 1034.2 216.7 1041.2 217.9 1048.2 219 1055.2 220 1062.2 220.8 1076.2 222.3 1090.2 223.4 1111.2 224.6 1130 225.5 1160 226.4 1190 227 1220 227.5 1250 227.8 1300 228 1396 228" stroke="url(#g46)"/>
<path d="M187 231 300 231 355 230.8 385 230.5 415 230.2 454 229.4 475 228.7 489 228.1 503 227.2 510 226.6 517 226 524 225.2 531 224.3 538 223.1 545 221.8 552 220.2 555.8 219.3 557.3 218.7 558.8 217.8 563.3 214.6 564.8 213.6 566.3 212.8 567.8 212.2 569.3 211.9 1013.2 211.9 1014.7 212.1 1016.2 212.6 1017.7 213.3 1019.2 214.2 1023.7 217.4 1025.2 218.4 1026.7 219.2 1034.2 220.6 1041.2 221.7 1048.2 222.7 1055.2 223.6 1069.2 225.1 1083.2 226.3 1104.2 227.6 1130 228.7 1160 229.5 1190 230.1 1220 230.5 1250 230.8 1300 231 1396 231" stroke="url(#g47)"/>
<path d="M187 234 300 234 355 233.8 385 233.6 415 233.2 461 232.3 482 231.6 496 231 510 230 517 229.4 524 228.7 531 227.9 538 226.9 545 225.6 552 224.2 555.8 223.3 557.3 223.6 564.8 225.8 567.8 226.4 569.8 226.6 1013.2 226.6 1014.7 226.5 1016.2 226.3 1019.2 225.5 1025.2 223.7 1027.2 223.3 1034.2 224.5 1041.2 225.6 1048.2 226.5 1062.2 228 1076.2 229.2 1090.2 230.1 1111.2 231.2 1130 231.9 1160 232.6 1190 233.2 1220 233.6 1250 233.8 1300 234 1396 234" stroke="url(#g48)"/>
<path d="M187 237 300 237 355 236.8 415 236.3 461 235.5 482 234.9 496 234.3 510 233.4 517 232.9 524 232.2 531 231.5 538 230.6 545 229.5 552 228.2 555.8 227.4 557.3 227.5 564.8 229 567.8 229.4 569.8 229.5 1013.2 229.5 1016.2 229.3 1025.2 227.6 1027.2 227.4 1034.2 228.5 1041.2 229.4 1055.2 231 1069.2 232.2 1083.2 233.1 1104.2 234.2 1130 235.1 1160 235.8 1190 236.3 1220 236.6 1280 237 1300 237 1396 237" stroke="url(#g49)"/>
<path d="M187 240 300 240 355 239.8 415 239.4 468 238.5 489 237.9 503 237.2 517 236.3 524 235.8 531 235.1 538 234.3 545 233.3 552 232.2 555.8 231.5 569.8 231.8 1019.2 231.7 1027.2 231.5 1034.2 232.4 1041.2 233.3 1055.2 234.6 1069.2 235.7 1090.2 236.9 1118.2 238 1130 238.3 1160 238.9 1190 239.3 1250 239.8 1300 240 1396 240" stroke="url(#g50)"/>
<path d="M187 243 300 243 355 242.9 415 242.5 468 241.7 496 240.9 510 240.2 524 239.3 531 238.7 538 238 545 237.2 552 236.2 555.8 235.6 566.3 234.2 569.8 234 1014.7 234 1019.2 234.5 1025.2 235.4 1041.2 237.1 1055.2 238.3 1069.2 239.3 1090.2 240.3 1130 241.5 1160 242.1 1190 242.4 1250 242.9 1300 243 1396 243" stroke="url(#g51)"/>
<path d="M187 246 300 246 355 245.9 415 245.5 475 244.8 503 244 517 243.3 531 242.4 538 241.8 545 241.1 555.8 239.7 557.3 239.4 564.8 236.9 566.3 236.5 567.8 236.2 569.8 236.1 1013.2 236.1 1014.7 236.2 1016.2 236.4 1019.2 237.2 1025.2 239.3 1027.2 239.7 1041.2 241 1055.2 242 1076.2 243.2 1104.2 244.2 1130 244.7 1160 245.2 1220 245.7 1300 246 1396 246" stroke="url(#g52)"/>
<path d="M187 249 300 249 385 248.8 468 248.1 496 247.5 517 246.8 531 246 545 245 555.8 243.8 557.3 243.4 558.8 242.7 563.3 240.3 564.8 239.6 566.3 239 567.8 238.6 569.8 238.4 1013.2 238.4 1014.7 238.5 1016.2 238.9 1017.7 239.4 1020.7 240.9 1023.7 242.5 1025.2 243.2 1026.7 243.8 1034.2 244.4 1048.2 245.4 1069.2 246.4 1104.2 247.5 1130 248 1160 248.3 1220 248.8 1300 249 1396 249" stroke="url(#g53)"/>
<path d="M187 252 300 252 385 251.8 482 251.1 510 250.5 531 249.7 545 248.9 555.8 248 557.3 247.5 558.8 246.7 563.3 243.7 564.8 242.9 566.3 242.2 567.8 241.6 569.3 241.4 1013.2 241.4 1014.7 241.5 1016.2 242 1017.7 242.6 1019.2 243.4 1023.7 246.3 1025.2 247.2 1026.7 247.9 1027.2 248 1048.2 249.2 1076.2 250.2 1130 251.2 1190 251.7 1300 252 1396 252" stroke="url(#g54)"/>
<path d="M187 255 300 255 415 254.8 496 254.2 524 253.6 545 252.8 555.8 252.1 557.3 252.4 564.8 255.4 566.3 255.8 567.8 256.1 569.8 256.3 1013.2 256.3 1014.7 256.2 1016.2 255.9 1017.7 255.5 1025.2 252.6 1026.7 252.2 1027.2 252.1 1055.2 253.2 1118.2 254.3 1160 254.6 1300 255 1396 255" stroke="url(#g55)"/>
<path d="M187 258 300 258 503 257.4 538 256.9 555.8 256.3 557.3 256.5 564.8 258.8 567.8 259.4 569.8 259.6 1013.2 259.6 1014.7 259.5 1016.2 259.3 1019.2 258.5 1025.2 256.7 1027.2 256.3 1083.2 257.3 1130 257.7 1300 258 1396 258" stroke="url(#g56)"/>
<path d="M187 261 300 261 545 260.6 555.8 260.5 558.8 260.8 566.3 262 569.8 262.2 1014.7 262.1 1019.2 261.6 1025.2 260.7 1027.2 260.5 1130 260.9 1300 261 1396 261" stroke="url(#g57)"/>
<path d="M187 264 300 264 538 264.4 569.8 264.6 1027.2 264.6 1130 264.1 1300 264 1396 264" stroke="url(#g57)"/>
<path d="M187 267 300 267 496 267.5 531 268 555.8 268.8 566.3 267.4 569.8 267.2 1014.7 267.3 1019.2 267.7 1025.2 268.6 1027.2 268.8 1076.2 267.8 1130 267.4 1300 267 1396 267" stroke="url(#g56)"/>
<path d="M187 270 300 270 415 270.2 496 270.8 524 271.5 538 272 555.8 272.9 557.3 272.8 564.8 271.1 567.8 270.6 569.8 270.5 1013.2 270.5 1014.7 270.6 1017.7 271 1025.2 272.7 1027.2 272.9 1048.2 272.1 1090.2 271.1 1130 270.6 1190 270.2 1300 270 1396 270" stroke="url(#g55)"/>
<path d="M187 273 300 273 385 273.2 475 273.8 510 274.5 531 275.3 545 276.2 555.8 277.1 557.3 277.7 558.8 278.8 563.3 282.4 564.8 283.5 566.3 284.4 567.8 285.1 569.3 285.4 1013.2 285.4 1014.7 285.2 1016.2 284.7 1017.7 283.9 1019.2 282.8 1023.7 279.2 1025.2 278 1026.7 277.2 1027.2 277.1 1041.2 276.2 1062.2 275.3 1104.2 274.2 1130 273.8 1190 273.3 1300 273 1396 273" stroke="url(#g54)"/>
<path d="M187 276 300 276 385 276.2 468 276.9 496 277.5 517 278.2 531 279 545 280.1 555.8 281.2 557.3 281.8 558.8 282.7 563.3 285.8 564.8 286.8 566.3 287.5 567.8 288.1 569.3 288.4 1013.2 288.4 1014.7 288.2 1016.2 287.8 1017.7 287 1019.2 286.2 1023.7 283 1025.2 282 1026.7 281.3 1027.2 281.2 1041.2 280.1 1062.2 278.9 1090.2 277.9 1130 277 1160 276.7 1220 276.2 1300 276 1396 276" stroke="url(#g53)"/>
<path d="M187 279 300 279 355 279.1 415 279.5 475 280.2 496 280.8 510 281.4 524 282.2 538 283.3 545 284 555.8 285.4 557.3 285.8 558.8 286.4 563.3 288.8 564.8 289.5 566.3 290.1 567.8 290.5 569.8 290.7 1013.2 290.7 1014.7 290.6 1016.2 290.2 1017.7 289.7 1020.7 288.3 1023.7 286.7 1025.2 286 1026.7 285.4 1034.2 284.7 1048.2 283.5 1062.2 282.6 1083.2 281.6 1118.2 280.5 1160 279.8 1220 279.3 1300 279 1396 279" stroke="url(#g52)"/>
<path d="M187 282 300 282 355 282.1 415 282.5 468 283.3 496 284.1 510 284.8 524 285.7 531 286.3 538 287 545 287.9 552 288.9 557.3 289.7 564.8 292.1 566.3 292.4 567.8 292.7 569.8 292.8 1013.2 292.8 1014.7 292.8 1016.2 292.5 1019.2 291.8 1025.2 289.9 1027.2 289.5 1034.2 288.7 1048.2 287.3 1062.2 286.2 1083.2 285 1111.2 284 1130 283.5 1160 282.9 1190 282.6 1250 282.1 1300 282 1396 282" stroke="url(#g51)"/>
<path d="M187 285 300 285 355 285.2 415 285.6 468 286.5 489 287.2 503 287.8 517 288.7 524 289.3 531 289.9 538 290.7 545 291.7 552 292.9 555.8 293.6 566.3 294.8 569.8 295 1014.7 294.9 1027.2 293.6 1034.2 292.6 1041.2 291.8 1055.2 290.4 1069.2 289.3 1090.2 288.1 1118.2 287 1130 286.7 1160 286.1 1190 285.7 1250 285.2 1300 285 1396 285" stroke="url(#g50)"/>
<path d="M187 288 300 288 355 288.2 415 288.7 461 289.5 482 290.1 496 290.8 510 291.6 517 292.2 524 292.8 531 293.6 538 294.5 545 295.6 552 296.9 555.8 297.7 569.8 297.3 1017.7 297.3 1027.2 297.7 1034.2 296.6 1041.2 295.7 1055.2 294.1 1069.2 292.9 1083.2 291.9 1104.2 290.8 1130 289.9 1160 289.2 1190 288.7 1220 288.4 1280 288 1300 288 1396 288" stroke="url(#g49)"/>
<path d="M187 291 300 291 355 291.2 385 291.4 415 291.8 461 292.7 482 293.4 496 294.1 510 295 517 295.6 524 296.3 531 297.2 538 298.2 545 299.4 552 300.9 555.8 301.8 566.3 300.4 569.8 300.2 1014.7 300.3 1019.2 300.7 1025.2 301.6 1027.2 301.8 1034.2 300.6 1041.2 299.5 1048.2 298.6 1062.2 297 1076.2 295.8 1090.2 294.9 1111.2 293.8 1130 293.1 1160 292.4 1190 291.8 1220 291.5 1250 291.2 1300 291 1396 291" stroke="url(#g48)"/>
<path d="M187 294 300 294 355 294.2 385 294.5 415 294.8 454 295.6 475 296.3 489 297 503 297.8 510 298.4 517 299.1 524 299.8 531 300.8 538 301.9 545 303.2 552 304.8 555.8 305.8 557.3 306.5 558.8 307.6 563.3 311.6 564.8 312.8 566.3 313.8 567.8 314.5 569.3 314.8 1013.2 314.9 1014.7 314.7 1016.2 314.1 1017.7 313.2 1019.2 312 1023.7 308.1 1025.2 306.8 1026.7 305.9 1034.2 304.5 1041.2 303.3 1048.2 302.3 1055.2 301.4 1069.2 299.9 1083.2 298.8 1104.2 297.5 1130 296.4 1160 295.5 1190 294.9 1220 294.5 1250 294.2 1300 294 1396 294" stroke="url(#g47)"/>
<path d="M187 297 300 297 355 297.2 385 297.5 415 297.9 454 298.8 475 299.5 489 300.2 503 301.2 510 301.8 517 302.5 524 303.4 531 304.4 538 305.6 545 307 552 308.8 555.8 309.8 557.3 310.4 558.8 311.4 563.3 315 564.8 316 566.3 316.9 567.8 317.5 569.3 317.8 1013.2 317.9 1014.7 317.7 1016.2 317.1 1017.7 316.3 1019.2 315.3 1023.7 311.8 1025.2 310.7 1026.7 310 1034.2 308.4 1041.2 307.1 1048.2 306 1055.2 305.1 1062.2 304.2 1076.2 302.8 1090.2 301.7 1111.2 300.4 1130 299.6 1160 298.6 1190 298 1220 297.5 1250 297.2 1300 297 1396 297" stroke="url(#g46)"/>
<path d="M187 300 300 300 325 300.1 355 300.2 385 300.5 415 301 454 301.9 475 302.7 489 303.5 503 304.5 510 305.2 517 305.9 524 306.9 531 307.9 538 309.3 545 310.8 552 312.7 557.3 314.3 558.8 315.1 563.3 317.9 564.8 318.7 566.3 319.4 567.8 319.9 569.8 320.2 1013.2 320.2 1014.7 320 1016.2 319.6 1017.7 319 1019.2 318.2 1023.7 315.4 1025.2 314.6 1026.7 313.9 1034.2 312.3 1041.2 310.9 1048.2 309.7 1055.2 308.7 1062.2 307.8 1076.2 306.2 1090.2 305 1111.2 303.7 1130 302.8 1160 301.8 1190 301.1 1220 300.6 1250 300.3 1300 300 1396 300" stroke="url(#g45)"/>
<path d="M187 303 300 303 325 303.1 355 303.3 385 303.6 415 304.1 454 305 475 305.9 489 306.7 503 307.8 510 308.5 517 309.4 524 310.3 531 311.5 538 312.9 545 314.6 552 316.6 555.8 317.8 557.3 318.1 564.8 321.3 566.3 321.7 567.8 322.1 569.8 322.3 1013.2 322.3 1014.7 322.2 1016.2 321.9 1017.7 321.4 1020.7 320.2 1025.2 318.3 1026.7 317.9 1034.2 316.2 1041.2 314.7 1048.2 313.4 1055.2 312.3 1062.2 311.3 1069.2 310.4 1083.2 309 1097.2 307.8 1118.2 306.5 1130 306 1160 304.9 1190 304.1 1220 303.6 1250 303.3 1300 303 1396 303" stroke="url(#g44)"/>
<path d="M187 306 300 306 325 306.1 355 306.3 385 306.6 415 307.1 454 308.2 475 309.1 489 309.9 503 311.1 510 311.9 517 312.8 524 313.8 531 315 538 316.5 545 318.3 552 320.4 555.8 321.7 557.3 322 564.8 323.8 567.8 324.3 569.8 324.4 1013.2 324.4 1014.7 324.3 1017.7 323.9 1025.2 322.1 1027.2 321.8 1034.2 320 1041.2 318.4 1048.2 317.1 1055.2 315.9 1062.2 314.8 1069.2 313.9 1083.2 312.4 1097.2 311.1 1118.2 309.7 1130 309.1 1160 308 1190 307.2 1220 306.7 1250 306.3 1280 306.1 1300 306 1396 306" stroke="url(#g43)"/>
<path d="M187 309 300 309 325 309.1 355 309.3 385 309.7 415 310.2 447 311 468 311.9 482 312.7 496 313.7 503 314.4 510 315.2 517 316.1 524 317.3 531 318.6 538 320.1 545 322 552 324.3 555.8 325.7 567.8 326.7 1014.7 326.7 1027.2 325.7 1034.2 323.8 1041.2 322.2 1048.2 320.7 1055.2 319.5 1062.2 318.4 1069.2 317.4 1083.2 315.7 1097.2 314.4 1111.2 313.4 1130 312.3 1160 311.1 1190 310.3 1220 309.7 1250 309.3 1280 309.1 1300 309 1396 309" stroke="url(#g42)"/>
<path d="M187 312 300 312 325 312.1 355 312.3 385 312.7 415 313.3 447 314.1 468 315 482 315.9 496 317 503 317.7 510 318.5 517 319.5 524 320.7 531 322.1 538 323.7 545 325.7 552 328.1 555.8 329.5 569.8 329.7 1027.2 329.5 1034.2 327.6 1041.2 325.9 1048.2 324.3 1055.2 323 1062.2 321.8 1069.2 320.8 1076.2 319.9 1090.2 318.4 1104.2 317.1 1130 315.5 1160 314.2 1190 313.3 1220 312.7 1250 312.3 1280 312.1 1300 312 1396 312" stroke="url(#g41)"/>
<path d="M187 315 300 315 325 315.1 355 315.3 385 315.7 415 316.3 447 317.3 468 318.2 482 319.1 496 320.2 503 321 510 321.8 517 322.9 524 324.1 531 325.6 538 327.3 545 329.4 552 331.8 555.8 333.4 557.3 334.2 558.8 335.5 563.3 340.2 564.8 341.6 566.3 342.8 567.8 343.6 569.3 344 1013.2 344.1 1014.7 343.8 1016.2 343.1 1017.7 342 1019.2 340.7 1023.7 336 1025.2 334.6 1026.7 333.5 1034.2 331.3 1041.2 329.5 1048.2 327.9 1055.2 326.5 1062.2 325.3 1069.2 324.2 1076.2 323.3 1090.2 321.7 1104.2 320.4 1118.2 319.4 1130 318.7 1160 317.3 1190 316.4 1220 315.8 1250 315.3 1280 315.1 1300 315 1396 315" stroke="url(#g40)"/>
<path d="M187 318 300 318 325 318.1 355 318.3 385 318.8 415 319.4 447 320.4 468 321.3 482 322.2 496 323.5 503 324.2 510 325.1 517 326.2 524 327.5 531 329 538 330.8 545 333 552 335.6 555.8 337.2 557.3 337.9 558.8 339.1 563.3 343.3 564.8 344.6 566.3 345.7 567.8 346.4 569.3 346.8 1013.2 346.8 1014.7 346.6 1016.2 345.9 1017.7 345 1019.2 343.8 1023.7 339.6 1025.2 338.3 1026.7 337.3 1034.2 335 1041.2 333.2 1048.2 331.5 1055.2 330 1062.2 328.8 1069.2 327.6 1076.2 326.6 1090.2 325 1104.2 323.6 1118.2 322.6 1130 321.8 1160 320.4 1190 319.5 1220 318.8 1250 318.3 1280 318.1 1300 318 1396 318" stroke="url(#g39)"/>
<path d="M187 321 300 321 325 321.1 355 321.4 385 321.8 415 322.4 447 323.4 468 324.5 482 325.4 496 326.7 503 327.5 510 328.4 517 329.6 524 330.9 531 332.5 538 334.3 545 336.6 552 339.3 557.3 341.5 558.8 342.5 563.3 346 564.8 347.1 566.3 347.9 567.8 348.6 569.3 348.9 1013.2 348.9 1014.7 348.7 1016.2 348.2 1017.7 347.4 1019.2 346.4 1023.7 342.9 1025.2 341.8 1026.7 341.1 1034.2 338.7 1041.2 336.8 1048.2 335 1055.2 333.5 1062.2 332.2 1069.2 331 1076.2 330 1083.2 329 1097.2 327.5 1111.2 326.3 1130 325 1160 323.5 1190 322.5 1220 321.8 1250 321.4 1280 321.1 1300 321 1396 321" stroke="url(#g38)"/>
<path d="M187 324 300 324 325 324.1 355 324.4 385 324.8 415 325.5 447 326.5 468 327.6 482 328.6 489 329.2 496 329.9 503 330.7 510 331.7 517 332.9 524 334.2 531 335.9 538 337.8 545 340.1 552 342.9 555.8 344.7 557.3 345.1 558.8 345.9 563.3 348.6 564.8 349.4 566.3 350.1 567.8 350.5 569.8 350.8 1013.2 350.8 1014.7 350.7 1016.2 350.2 1017.7 349.6 1019.2 348.9 1023.7 346.2 1025.2 345.4 1026.7 344.7 1027.2 344.7 1034.2 342.3 1041.2 340.3 1048.2 338.5 1055.2 337 1062.2 335.6 1069.2 334.4 1076.2 333.3 1083.2 332.3 1097.2 330.7 1111.2 329.5 1130 328.1 1160 326.6 1190 325.6 1220 324.9 1250 324.4 1280 324.1 1300 324 1396 324" stroke="url(#g37)"/>
<path d="M187 327 300 327 325 327.1 355 327.4 385 327.8 415 328.5 447 329.6 468 330.7 482 331.7 489 332.3 496 333.1 503 333.9 510 334.9 517 336.1 524 337.6 531 339.3 538 341.3 545 343.7 552 346.5 555.8 348.3 557.3 348.7 564.8 351.7 566.3 352.1 567.8 352.5 569.8 352.6 1013.2 352.6 1014.7 352.5 1016.2 352.2 1017.7 351.8 1025.2 348.8 1026.7 348.4 1027.2 348.3 1034.2 345.9 1041.2 343.9 1048.2 342 1055.2 340.4 1062.2 339 1069.2 337.7 1076.2 336.6 1083.2 335.6 1097.2 334 1111.2 332.6 1130 331.3 1160 329.7 1190 328.6 1220 327.9 1250 327.4 1280 327.1 1300 327 1396 327" stroke="url(#g36)"/>
<path d="M187 330 300 330 325 330.1 355 330.4 385 330.9 415 331.6 447 332.7 468 333.8 482 334.9 489 335.5 496 336.3 503 337.1 510 338.2 517 339.4 524 340.9 531 342.6 538 344.7 545 347.1 552 350.1 555.8 351.9 557.3 352.1 564.8 353.9 567.8 354.4 569.8 354.5 1013.2 354.5 1014.7 354.5 1017.7 354 1025.2 352.2 1027.2 351.9 1034.2 349.5 1041.2 347.3 1048.2 345.5 1055.2 343.8 1062.2 342.3 1069.2 341 1076.2 339.9 1083.2 338.9 1097.2 337.2 1111.2 335.8 1130 334.4 1160 332.8 1190 331.7 1220 330.9 1250 330.4 1280 330.1 1300 330 1396 330" stroke="url(#g35)"/>
<path d="M187 333 300 333 325 333.1 355 333.4 385 333.9 415 334.6 447 335.8 468 336.9 482 338 489 338.6 496 339.4 503 340.3 510 341.4 517 342.7 524 344.2 531 345.9 538 348.1 545 350.6 552 353.6 555.8 355.5 567.8 356.6 1014.7 356.6 1027.2 355.5 1034.2 353 1041.2 350.8 1048.2 348.9 1055.2 347.1 1062.2 345.6 1069.2 344.3 1076.2 343.1 1083.2 342.1 1090.2 341.2 1104.2 339.6 1118.2 338.4 1130 337.5 1160 335.8 1190 334.7 1220 333.9 1250 333.4 1280 333.1 1300 333 1396 333" stroke="url(#g34)"/>
<path d="M187 336 300 336 325 336.1 355 336.4 385 336.9 415 337.6 447 338.8 461 339.6 475 340.5 489 341.8 496 342.6 503 343.5 510 344.6 517 345.9 524 347.4 531 349.2 538 351.4 545 354 552 357.1 555.8 359 569.8 359.4 1027.2 359 1034.2 356.5 1041.2 354.2 1048.2 352.2 1055.2 350.5 1062.2 348.9 1069.2 347.6 1076.2 346.4 1083.2 345.3 1090.2 344.4 1104.2 342.8 1118.2 341.5 1130 340.6 1160 338.9 1190 337.8 1220 337 1250 336.4 1280 336.1 1300 336 1396 336" stroke="url(#g33)"/>
<path d="M187 339 300 339 325 339.1 355 339.4 385 339.9 415 340.7 440 341.6 461 342.6 475 343.6 489 344.9 496 345.7 503 346.6 510 347.8 517 349.1 524 350.6 531 352.5 538 354.7 545 357.4 552 360.5 557.3 363.3 558.8 364.7 563.3 369.6 564.8 371 566.3 372.2 567.8 373 569.3 373.5 1013.2 373.5 1014.7 373.2 1016.2 372.5 1017.7 371.4 1019.2 370.1 1023.7 365.2 1025.2 363.8 1026.7 362.7 1034.2 359.9 1041.2 357.6 1048.2 355.6 1055.2 353.8 1062.2 352.2 1069.2 350.8 1076.2 349.6 1083.2 348.5 1090.2 347.5 1104.2 345.9 1118.2 344.6 1130 343.7 1160 342 1190 340.8 1220 340 1250 339.4 1280 339.1 1300 339 1396 339" stroke="url(#g32)"/>
<path d="M187 342 300 342 325 342.1 355 342.4 385 343 415 343.7 440 344.6 461 345.7 475 346.7 489 348 496 348.8 503 349.8 510 350.9 517 352.3 524 353.9 531 355.7 538 358 545 360.7 552 363.9 557.3 366.7 558.8 368 563.3 372.5 564.8 373.9 566.3 375 567.8 375.8 569.3 376.2 1013.2 376.3 1014.7 376 1016.2 375.3 1017.7 374.3 1019.2 373 1023.7 368.5 1025.2 367.1 1026.7 366.1 1034.2 363.3 1041.2 360.9 1048.2 358.8 1055.2 357 1062.2 355.4 1069.2 354 1076.2 352.8 1083.2 351.7 1090.2 350.7 1104.2 349 1118.2 347.7 1130 346.8 1160 345 1190 343.8 1220 343 1250 342.4 1280 342.1 1300 342 1396 342" stroke="url(#g31)"/>
<path d="M187 345 300 345 325 345.1 355 345.4 385 346 415 346.7 440 347.7 461 348.8 475 349.8 489 351.1 496 351.9 503 352.9 510 354.1 517 355.4 524 357 531 359 538 361.2 545 364 552 367.2 555.8 369.3 557.3 370 558.8 371.1 563.3 375.1 564.8 376.3 566.3 377.3 567.8 378 569.3 378.3 1013.2 378.3 1014.7 378.1 1016.2 377.5 1017.7 376.6 1019.2 375.5 1023.7 371.5 1025.2 370.3 1026.7 369.4 1027.2 369.3 1034.2 366.6 1041.2 364.2 1048.2 362.1 1055.2 360.3 1062.2 358.6 1069.2 357.2 1076.2 355.9 1083.2 354.8 1090.2 353.8 1104.2 352.1 1118.2 350.8 1130 349.8 1160 348.1 1190 346.9 1220 346 1250 345.4 1280 345.1 1300 345 1396 345" stroke="url(#g30)"/>
<path d="M187 348 300 348 325 348.1 355 348.4 385 349 415 349.8 440 350.7 461 351.8 475 352.8 482 353.4 489 354.2 496 355 503 356 510 357.2 517 358.5 524 360.2 531 362.1 538 364.4 545 367.2 552 370.5 555.8 372.6 557.3 373.2 558.8 374.1 563.3 377.5 564.8 378.5 566.3 379.3 567.8 379.9 569.3 380.2 1013.2 380.2 1014.7 380.1 1016.2 379.5 1017.7 378.8 1019.2 377.8 1023.7 374.5 1025.2 373.5 1026.7 372.7 1027.2 372.6 1034.2 369.8 1041.2 367.4 1048.2 365.3 1055.2 363.4 1062.2 361.8 1069.2 360.3 1076.2 359.1 1083.2 357.9 1090.2 356.9 1104.2 355.2 1118.2 353.9 1130 352.9 1160 351.1 1190 349.9 1220 349 1250 348.4 1280 348.1 1300 348 1396 348" stroke="url(#g29)"/>
<path d="M187 351 300 351 325 351.1 355 351.4 385 352 415 352.8 440 353.7 461 354.8 475 355.9 482 356.5 489 357.2 496 358.1 503 359.1 510 360.3 517 361.6 524 363.3 531 365.3 538 367.6 545 370.4 552 373.7 555.8 375.8 557.3 376.3 558.8 377.1 563.3 379.8 564.8 380.6 566.3 381.3 567.8 381.8 569.8 382.1 1013.2 382.1 1014.7 381.9 1016.2 381.5 1017.7 380.9 1019.2 380.1 1023.7 377.4 1025.2 376.5 1026.7 375.9 1027.2 375.8 1034.2 373.1 1041.2 370.6 1048.2 368.5 1055.2 366.6 1062.2 364.9 1069.2 363.5 1076.2 362.2 1083.2 361 1090.2 360 1104.2 358.3 1118.2 356.9 1130 356 1160 354.1 1190 352.9 1220 352 1250 351.5 1280 351.1 1300 351 1396 351" stroke="url(#g28)"/>
<path d="M187 354 300 354 325 354.1 355 354.4 385 355 415 355.8 440 356.7 461 357.9 475 358.9 482 359.5 489 360.3 496 361.1 503 362.1 510 363.3 517 364.7 524 366.4 531 368.4 538 370.7 545 373.5 552 376.9 555.8 379 557.3 379.4 564.8 382.8 566.3 383.4 567.8 383.8 569.8 384 1013.2 384 1014.7 383.8 1016.2 383.5 1017.7 383 1020.7 381.7 1025.2 379.6 1026.7 379.1 1027.2 379 1034.2 376.2 1041.2 373.8 1048.2 371.6 1055.2 369.7 1062.2 368 1069.2 366.6 1076.2 365.3 1083.2 364.1 1090.2 363.1 1104.2 361.3 1118.2 359.9 1130 359 1160 357.2 1190 355.9 1220 355 1250 354.5 1280 354.1 1300 354 1396 354" stroke="url(#g27)"/>
<path d="M187 357 300 357 325 357.1 355 357.4 385 358 415 358.8 440 359.7 461 360.9 475 361.9 482 362.6 489 363.3 496 364.2 503 365.2 510 366.4 517 367.8 524 369.4 531 371.4 538 373.8 545 376.6 552 380 555.8 382.1 557.3 382.4 564.8 385.2 566.3 385.6 567.8 385.9 569.8 386.1 1013.2 386.1 1014.7 386 1016.2 385.7 1019.2 384.8 1025.2 382.6 1026.7 382.2 1027.2 382.1 1034.2 379.3 1041.2 376.9 1048.2 374.7 1055.2 372.8 1062.2 371.1 1069.2 369.6 1076.2 368.3 1083.2 367.1 1090.2 366.1 1104.2 364.4 1118.2 363 1130 362 1160 360.2 1190 358.9 1220 358.1 1250 357.5 1280 357.1 1300 357 1396 357" stroke="url(#g26)"/>
<path d="M187 360 300 360 325 360.1 355 360.4 385 361 415 361.8 440 362.8 461 363.9 475 364.9 482 365.6 489 366.3 496 367.2 503 368.2 510 369.4 517 370.8 524 372.5 531 374.5 538 376.8 545 379.7 552 383.1 555.8 385.2 557.3 385.4 564.8 388 566.3 388.4 567.8 388.7 569.8 388.8 1013.2 388.8 1014.7 388.7 1016.2 388.5 1019.2 387.7 1025.2 385.6 1027.2 385.2 1034.2 382.4 1041.2 379.9 1048.2 377.7 1055.2 375.8 1062.2 374.1 1069.2 372.6 1076.2 371.3 1083.2 370.2 1090.2 369.1 1104.2 367.4 1118.2 366 1130 365 1160 363.2 1190 361.9 1220 361.1 1250 360.5 1280 360.1 1300 360 1396 360" stroke="url(#g25)"/>
<path d="M187 363 300 363 325 363.1 355 363.4 385 364 415 364.8 440 365.7 461 366.9 475 367.9 482 368.6 489 369.3 496 370.2 503 371.2 510 372.4 517 373.8 524 375.5 531 377.5 538 379.8 545 382.7 552 386 555.8 388.2 557.3 389.2 558.8 391 563.3 397.3 564.8 399.2 566.3 400.7 567.8 401.8 569.3 402.4 1013.2 402.4 1014.7 402.1 1016.2 401.1 1017.7 399.7 1019.2 398 1020.7 395.9 1023.7 391.7 1025.2 389.8 1026.7 388.4 1034.2 385.3 1041.2 382.9 1048.2 380.7 1055.2 378.8 1062.2 377.1 1069.2 375.6 1076.2 374.3 1083.2 373.2 1090.2 372.1 1104.2 370.4 1118.2 369 1130 368 1160 366.2 1190 364.9 1220 364.1 1250 363.5 1280 363.1 1300 363 1396 363" stroke="url(#g24)"/>
<path d="M187 366 300 366 325 366.1 355 366.4 385 367 415 367.8 440 368.7 461 369.9 475 370.9 482 371.5 489 372.3 496 373.1 503 374.2 510 375.3 517 376.8 524 378.4 531 380.4 538 382.8 545 385.6 552 389 555.8 391.1 557.3 392.1 558.8 393.8 563.3 399.8 564.8 401.6 566.3 403.1 567.8 404.1 569.3 404.7 1013.2 404.7 1014.7 404.4 1016.2 403.5 1017.7 402.1 1019.2 400.4 1020.7 398.5 1023.7 394.5 1025.2 392.6 1026.7 391.3 1034.2 388.3 1041.2 385.8 1048.2 383.7 1055.2 381.8 1062.2 380.1 1069.2 378.6 1076.2 377.3 1083.2 376.1 1090.2 375.1 1104.2 373.4 1118.2 372 1130 371 1160 369.2 1190 367.9 1220 367.1 1250 366.5 1280 366.1 1300 366 1396 366" stroke="url(#g23)"/>
<path d="M187 369 300 369 325 369.1 355 369.4 385 370 415 370.8 440 371.7 461 372.8 475 373.9 482 374.5 489 375.2 496 376.1 503 377.1 510 378.3 517 379.7 524 381.3 531 383.3 538 385.7 545 388.5 552 391.8 555.8 393.9 557.3 394.9 558.8 396.4 563.3 401.9 564.8 403.5 566.3 404.9 567.8 405.9 569.3 406.4 1013.2 406.4 1014.7 406.1 1016.2 405.3 1017.7 404 1019.2 402.5 1020.7 400.7 1023.7 397 1025.2 395.3 1026.7 394.1 1034.2 391.1 1041.2 388.7 1048.2 386.6 1055.2 384.7 1062.2 383 1069.2 381.5 1076.2 380.2 1083.2 379.1 1090.2 378 1104.2 376.3 1118.2 374.9 1130 374 1160 372.2 1190 370.9 1220 370 1250 369.5 1280 369.1 1300 369 1396 369" stroke="url(#g22)"/>
<path d="M187 372 300 372 325 372.1 355 372.4 385 373 415 373.8 440 374.7 461 375.8 475 376.8 482 377.5 489 378.2 496 379 503 380 510 381.2 517 382.6 524 384.2 531 386.2 538 388.5 545 391.3 552 394.6 557.3 397.6 558.8 399 563.3 403.9 564.8 405.3 566.3 406.5 567.8 407.4 569.3 407.8 1013.2 407.9 1014.7 407.6 1016.2 406.9 1017.7 405.8 1019.2 404.4 1023.7 399.5 1025.2 398 1026.7 396.9 1034.2 394 1041.2 391.5 1048.2 389.4 1055.2 387.5 1062.2 385.9 1069.2 384.4 1076.2 383.1 1083.2 382 1090.2 381 1104.2 379.2 1118.2 377.9 1130 376.9 1160 375.1 1190 373.9 1220 373 1250 372.4 1280 372.1 1300 372 1396 372" stroke="url(#g21)"/>
<path d="M187 375 300 375 325 375.1 355 375.4 385 376 415 376.7 440 377.7 461 378.8 475 379.8 489 381.1 496 382 503 382.9 510 384.1 517 385.5 524 387.1 531 389 538 391.3 545 394.1 552 397.4 557.3 400.2 558.8 401.4 563.3 405.7 564.8 407 566.3 408.1 567.8 408.8 569.3 409.2 1013.2 409.3 1014.7 409 1016.2 408.4 1017.7 407.4 1019.2 406.2 1023.7 401.9 1025.2 400.5 1026.7 399.6 1034.2 396.7 1041.2 394.3 1048.2 392.2 1055.2 390.3 1062.2 388.7 1069.2 387.3 1076.2 386 1083.2 384.9 1090.2 383.9 1104.2 382.2 1118.2 380.8 1130 379.9 1160 378.1 1190 376.9 1220 376 1250 375.4 1280 375.1 1300 375 1396 375" stroke="url(#g20)"/>
<path d="M187 378 300 378 325 378.1 355 378.4 385 379 415 379.7 440 380.6 461 381.7 475 382.7 489 384 496 384.9 503 385.8 510 387 517 388.3 524 389.9 531 391.8 538 394.1 545 396.8 552 400.1 555.8 402.1 557.3 402.7 558.8 403.8 563.3 407.5 564.8 408.7 566.3 409.6 567.8 410.2 569.3 410.6 1013.2 410.6 1014.7 410.4 1016.2 409.8 1017.7 409 1019.2 407.9 1023.7 404.2 1025.2 403 1026.7 402.2 1027.2 402.1 1034.2 399.4 1041.2 397 1048.2 395 1055.2 393.1 1062.2 391.5 1069.2 390.1 1076.2 388.8 1083.2 387.7 1090.2 386.7 1104.2 385.1 1118.2 383.7 1130 382.8 1160 381 1190 379.8 1220 379 1250 378.4 1280 378.1 1300 378 1396 378" stroke="url(#g19)"/>
<path d="M187 381 300 381 325 381.1 355 381.4 385 381.9 415 382.7 440 383.6 461 384.7 475 385.6 489 386.9 496 387.7 503 388.7 510 389.8 517 391.1 524 392.7 531 394.6 538 396.8 545 399.5 552 402.7 555.8 404.7 557.3 405.2 558.8 406.1 563.3 409.3 564.8 410.3 566.3 411.1 567.8 411.6 569.3 411.9 1013.2 411.9 1014.7 411.8 1016.2 411.3 1017.7 410.6 1019.2 409.7 1023.7 406.5 1025.2 405.5 1026.7 404.8 1027.2 404.7 1034.2 402 1041.2 399.7 1048.2 397.7 1055.2 395.9 1062.2 394.3 1069.2 392.9 1076.2 391.6 1083.2 390.6 1090.2 389.6 1104.2 387.9 1118.2 386.6 1130 385.7 1160 384 1190 382.8 1220 382 1250 381.4 1280 381.1 1300 381 1396 381" stroke="url(#g18)"/>
<path d="M187 384 300 384 325 384.1 355 384.4 385 384.9 415 385.7 447 386.8 461 387.6 475 388.5 489 389.8 496 390.6 503 391.5 510 392.6 517 393.9 524 395.5 531 397.3 538 399.5 545 402.1 552 405.2 555.8 407.2 557.3 407.6 558.8 408.4 563.3 411.1 564.8 411.9 566.3 412.6 567.8 413.1 569.8 413.3 1013.2 413.3 1014.7 413.2 1016.2 412.8 1017.7 412.2 1019.2 411.4 1023.7 408.7 1025.2 407.9 1026.7 407.3 1027.2 407.2 1034.2 404.6 1041.2 402.3 1048.2 400.3 1055.2 398.6 1062.2 397 1069.2 395.6 1076.2 394.4 1083.2 393.4 1090.2 392.4 1104.2 390.8 1118.2 389.5 1130 388.6 1160 386.9 1190 385.8 1220 385 1250 384.4 1280 384.1 1300 384 1396 384" stroke="url(#g17)"/>
<path d="M187 387 300 387 325 387.1 355 387.4 385 387.9 415 388.6 447 389.8 468 390.9 482 392 489 392.7 496 393.4 503 394.4 510 395.4 517 396.7 524 398.2 531 400 538 402.1 545 404.7 552 407.7 555.8 409.6 557.3 410 558.8 410.7 563.3 412.9 564.8 413.6 566.3 414.2 567.8 414.6 569.8 414.8 1013.2 414.8 1014.7 414.7 1016.2 414.3 1017.7 413.8 1020.7 412.4 1023.7 410.9 1025.2 410.2 1026.7 409.7 1027.2 409.6 1034.2 407.1 1041.2 404.9 1048.2 402.9 1055.2 401.2 1062.2 399.7 1069.2 398.4 1076.2 397.2 1083.2 396.1 1090.2 395.2 1104.2 393.6 1118.2 392.4 1130 391.5 1160 389.9 1190 388.7 1220 387.9 1250 387.4 1280 387.1 1300 387 1396 387" stroke="url(#g16)"/>
<path d="M187 390 300 390 325 390.1 355 390.4 385 390.9 415 391.6 447 392.7 468 393.8 482 394.9 489 395.5 496 396.3 503 397.2 510 398.2 517 399.4 524 400.9 531 402.6 538 404.7 545 407.2 552 410.2 555.8 412 557.3 412.3 564.8 415.5 566.3 416 567.8 416.3 569.8 416.5 1013.2 416.5 1014.7 416.4 1016.2 416.1 1017.7 415.6 1020.7 414.5 1025.2 412.5 1026.7 412.1 1027.2 412 1034.2 409.5 1041.2 407.4 1048.2 405.5 1055.2 403.8 1062.2 402.3 1069.2 401 1076.2 399.9 1083.2 398.9 1097.2 397.2 1111.2 395.8 1130 394.4 1160 392.8 1190 391.7 1220 390.9 1250 390.4 1280 390.1 1300 390 1396 390" stroke="url(#g15)"/>
<path d="M187 393 300 393 325 393.1 355 393.4 385 393.8 415 394.5 447 395.6 468 396.7 482 397.7 489 398.3 496 399.1 503 399.9 510 400.9 517 402.1 524 403.6 531 405.2 538 407.3 545 409.7 552 412.5 555.8 414.3 557.3 414.7 564.8 417.8 566.3 418.2 567.8 418.6 569.8 418.8 1013.2 418.8 1014.7 418.7 1016.2 418.4 1017.7 417.9 1020.7 416.7 1025.2 414.8 1026.7 414.4 1027.2 414.3 1034.2 411.9 1041.2 409.8 1048.2 408 1055.2 406.4 1062.2 405 1069.2 403.7 1076.2 402.6 1083.2 401.6 1097.2 399.9 1111.2 398.6 1130 397.3 1160 395.7 1190 394.6 1220 393.9 1250 393.4 1280 393.1 1300 393 1396 393" stroke="url(#g14)"/>
<path d="M187 396 300 396 325 396.1 355 396.4 385 396.8 415 397.5 447 398.5 468 399.6 482 400.5 489 401.2 496 401.9 503 402.7 510 403.7 517 404.8 524 406.2 531 407.8 538 409.8 545 412.1 552 414.8 555.8 416.6 557.3 417.6 558.8 419.3 563.3 425.4 564.8 427.3 566.3 428.8 567.8 429.8 569.3 430.4 1013.2 430.4 1014.7 430.1 1016.2 429.2 1017.7 427.8 1019.2 426.1 1020.7 424.1 1023.7 420 1025.2 418.1 1026.7 416.8 1034.2 414.3 1041.2 412.3 1048.2 410.5 1055.2 408.9 1062.2 407.5 1069.2 406.3 1076.2 405.3 1083.2 404.3 1097.2 402.7 1111.2 401.4 1130 400.1 1160 398.6 1190 397.6 1220 396.9 1250 396.4 1280 396.1 1300 396 1396 396" stroke="url(#g13)"/>
<path d="M187 399 300 399 325 399.1 355 399.3 385 399.8 415 400.4 447 401.4 468 402.4 482 403.4 496 404.6 503 405.4 510 406.4 517 407.5 524 408.8 531 410.3 538 412.2 545 414.4 552 417.1 555.8 418.7 557.3 419.7 558.8 421.4 563.3 427.2 564.8 428.9 566.3 430.4 567.8 431.4 569.3 431.9 1013.2 432 1014.7 431.6 1016.2 430.8 1017.7 429.4 1019.2 427.8 1020.7 425.9 1023.7 422 1025.2 420.2 1026.7 418.9 1034.2 416.5 1041.2 414.6 1048.2 412.9 1055.2 411.4 1062.2 410.1 1069.2 408.9 1076.2 407.9 1083.2 407 1097.2 405.4 1111.2 404.2 1130 402.9 1160 401.5 1190 400.5 1220 399.8 1250 399.4 1280 399.1 1300 399 1396 399" stroke="url(#g12)"/>
<path d="M187 402 300 402 325 402.1 355 402.3 385 402.7 415 403.4 447 404.3 468 405.3 482 406.2 496 407.4 503 408.1 510 409 517 410.1 524 411.3 531 412.8 538 414.6 545 416.7 552 419.3 555.8 420.9 557.3 421.8 558.8 423.3 563.3 428.7 564.8 430.3 566.3 431.6 567.8 432.6 569.3 433 1013.2 433.1 1014.7 432.8 1016.2 432 1017.7 430.8 1019.2 429.2 1020.7 427.5 1023.7 423.9 1025.2 422.3 1026.7 421.1 1034.2 418.8 1041.2 416.9 1048.2 415.3 1055.2 413.9 1062.2 412.6 1069.2 411.5 1076.2 410.5 1090.2 408.8 1104.2 407.5 1118.2 406.5 1130 405.8 1160 404.4 1190 403.4 1220 402.8 1250 402.3 1280 402.1 1300 402 1396 402" stroke="url(#g11)"/>
<path d="M187 405 300 405 325 405.1 355 405.3 385 405.7 415 406.3 447 407.2 468 408.1 482 409 496 410.1 503 410.8 510 411.7 517 412.7 524 413.9 531 415.3 538 417 545 419 552 421.4 555.8 422.9 557.3 423.8 558.8 425.2 563.3 430.1 564.8 431.5 566.3 432.7 567.8 433.6 569.3 434 1013.2 434 1014.7 433.8 1016.2 433 1017.7 431.9 1019.2 430.6 1023.7 425.7 1025.2 424.2 1026.7 423.1 1034.2 420.9 1041.2 419.2 1048.2 417.6 1055.2 416.3 1062.2 415.1 1069.2 414 1076.2 413.1 1090.2 411.5 1104.2 410.3 1130 408.6 1160 407.3 1190 406.4 1220 405.8 1250 405.3 1280 405.1 1300 405 1396 405" stroke="url(#g10)"/>
<path d="M187 408 300 408 325 408.1 355 408.3 385 408.7 415 409.2 447 410.1 468 410.9 482 411.7 496 412.8 503 413.5 510 414.3 517 415.3 524 416.4 531 417.7 538 419.3 545 421.2 552 423.5 555.8 424.9 557.3 425.7 558.8 426.9 563.3 431.3 564.8 432.6 566.3 433.7 567.8 434.5 569.3 434.9 1013.2 434.9 1014.7 434.7 1016.2 434 1017.7 433 1019.2 431.8 1023.7 427.4 1025.2 426.1 1026.7 425.1 1034.2 423 1041.2 421.4 1048.2 419.9 1055.2 418.6 1062.2 417.5 1069.2 416.5 1076.2 415.6 1090.2 414.1 1104.2 413 1130 411.4 1160 410.1 1190 409.3 1220 408.7 1250 408.3 1280 408.1 1300 408 1396 408" stroke="url(#g9)"/>
<path d="M187 411 300 411 325 411.1 355 411.3 385 411.6 415 412.1 454 413.2 475 414.1 489 415 503 416.2 510 416.9 517 417.8 524 418.9 531 420.1 538 421.6 545 423.4 552 425.5 555.8 426.9 557.3 427.5 558.8 428.7 563.3 432.6 564.8 433.7 566.3 434.7 567.8 435.4 569.3 435.8 1013.2 435.8 1014.7 435.6 1016.2 435 1017.7 434.1 1019.2 433 1023.7 429.1 1025.2 427.9 1026.7 427 1034.2 425.1 1041.2 423.5 1048.2 422.2 1055.2 421 1062.2 419.9 1069.2 419 1083.2 417.4 1097.2 416.2 1111.2 415.2 1130 414.2 1160 413 1190 412.2 1220 411.7 1250 411.3 1280 411.1 1300 411 1396 411" stroke="url(#g8)"/>
<path d="M187 414 300 414 325 414.1 355 414.3 385 414.6 415 415.1 454 416 475 416.9 489 417.7 503 418.8 510 419.5 517 420.3 524 421.3 531 422.5 538 423.9 545 425.5 552 427.5 555.8 428.8 557.3 429.4 558.8 430.3 563.3 433.8 564.8 434.8 566.3 435.7 567.8 436.3 569.3 436.6 1013.2 436.6 1014.7 436.4 1016.2 435.9 1017.7 435.1 1019.2 434.1 1023.7 430.7 1025.2 429.7 1026.7 428.9 1034.2 427.1 1041.2 425.7 1048.2 424.4 1055.2 423.3 1062.2 422.3 1069.2 421.4 1083.2 420 1097.2 418.8 1118.2 417.5 1130 416.9 1160 415.9 1190 415.1 1220 414.6 1250 414.3 1300 414 1396 414" stroke="url(#g7)"/>
<path d="M187 417 300 417 325 417.1 355 417.2 385 417.5 415 418 454 418.9 475 419.7 489 420.4 503 421.4 510 422.1 517 422.8 524 423.7 531 424.8 538 426.1 545 427.6 552 429.5 557.3 431.1 558.8 432 563.3 435 564.8 435.8 566.3 436.6 567.8 437.1 569.3 437.4 1013.2 437.4 1014.7 437.2 1016.2 436.8 1017.7 436.1 1019.2 435.3 1023.7 432.3 1025.2 431.4 1026.7 430.7 1034.2 429.1 1041.2 427.7 1048.2 426.6 1055.2 425.5 1062.2 424.6 1076.2 423.1 1090.2 421.9 1111.2 420.6 1130 419.7 1160 418.7 1190 418 1220 417.6 1250 417.2 1300 417 1396 417" stroke="url(#g6)"/>
<path d="M187 420 300 420 355 420.2 385 420.5 415 420.9 454 421.7 475 422.4 489 423.1 503 424 510 424.6 517 425.3 524 426.1 531 427.1 538 428.3 545 429.7 552 431.3 557.3 432.8 558.8 433.5 563.3 436.1 564.8 436.9 566.3 437.5 567.8 438 569.8 438.2 1013.2 438.2 1014.7 438.1 1016.2 437.7 1017.7 437.1 1020.7 435.6 1023.7 433.8 1025.2 433 1026.7 432.5 1034.2 431 1041.2 429.8 1048.2 428.7 1055.2 427.8 1069.2 426.2 1083.2 425 1097.2 424 1118.2 422.9 1130 422.5 1160 421.6 1190 421 1220 420.5 1250 420.2 1300 420 1396 420" stroke="url(#g5)"/>
<path d="M187 423.4 300 423.4 355 423.6 385 423.8 415 424.2 461 425.1 482 425.8 496 426.5 510 427.5 517 428.1 524 428.8 531 429.7 538 430.7 545 431.9 552 433.4 557.3 434.7 564.8 438 566.3 438.5 567.8 438.9 569.8 439.1 1013.2 439.1 1014.7 438.9 1016.2 438.6 1017.7 438.2 1020.7 436.9 1025.2 434.9 1026.7 434.4 1034.2 433.1 1041.2 432 1048.2 431.1 1062.2 429.5 1076.2 428.3 1090.2 427.4 1111.2 426.3 1130 425.6 1160 424.8 1190 424.2 1220 423.9 1250 423.6 1300 423.4 1396 423.4" stroke="url(#g4)" stroke-width="1.95"/>
<path d="M187 428 300 428 355 428.2 415 428.6 461 429.4 489 430.2 503 430.9 517 431.8 524 432.4 531 433.1 538 433.9 545 434.9 552 436.1 557.3 437.1 564.8 439.2 567.8 439.8 569.8 440 1013.2 440 1014.7 439.9 1016.2 439.7 1019.2 439 1025.2 437.2 1027.2 436.9 1034.2 435.9 1041.2 435 1055.2 433.6 1069.2 432.5 1090.2 431.2 1118.2 430.1 1130 429.8 1160 429.1 1190 428.7 1250 428.2 1300 428 1396 428" stroke="url(#g3)" stroke-width="2.05"/>
<path d="M187 432.6 300 432.6 355 432.7 415 433.1 468 433.8 496 434.5 510 435.1 524 435.9 531 436.4 538 437.1 545 437.8 555.8 439.3 566.3 440.7 569.8 440.9 1014.7 440.9 1019.2 440.4 1025.2 439.5 1041.2 437.9 1055.2 436.8 1076.2 435.6 1104.2 434.6 1130 433.9 1160 433.4 1220 432.9 1300 432.6 1396 432.6" stroke="url(#g2)" stroke-width="2.15"/>
<path d="M187 437.2 300 437.2 385 437.4 475 438.1 503 438.6 524 439.4 538 440.2 552 441.2 555.8 441.6 569.8 442 1017.7 442 1027.2 441.6 1041.2 440.7 1062.2 439.7 1097.2 438.6 1130 438.1 1160 437.8 1220 437.4 1300 437.2 1396 437.2" stroke="url(#g1)" stroke-width="2.3"/>
<path d="M187 441.8 300 441.8 496 442.4 531 443 555.8 443.8 569.8 443.6 1027.2 443.8 1069.2 442.8 1130 442.2 1250 441.8 1300 441.8 1396 441.8" stroke="url(#g0)" stroke-width="2.7"/>
</g>
<rect x="567.3" y="96.4" width="448.4" height="10.8" rx="4.8" fill="#545a73"/>
<rect x="567.3" y="125.2" width="448.4" height="11.4" rx="4.8" fill="#545a73"/>
<rect x="567.3" y="154.6" width="448.4" height="11.4" rx="4.8" fill="#545a73"/>
<rect x="567.3" y="184.1" width="448.4" height="11.4" rx="4.8" fill="#545a73"/>
<rect x="567.3" y="213.5" width="448.4" height="11.4" rx="4.8" fill="#545a73"/>
<rect x="567.3" y="243" width="448.4" height="11.4" rx="4.8" fill="#545a73"/>
<rect x="567.3" y="272.4" width="448.4" height="11.4" rx="4.8" fill="#545a73"/>
<rect x="567.3" y="301.8" width="448.4" height="11.4" rx="4.8" fill="#545a73"/>
<rect x="567.3" y="331.3" width="448.4" height="11.4" rx="4.8" fill="#545a73"/>
<rect x="567.3" y="360.7" width="448.4" height="11.4" rx="4.8" fill="#545a73"/>
<rect x="567.3" y="390.2" width="448.4" height="11.4" rx="4.8" fill="#545a73"/>
<rect x="567.3" y="419.6" width="448.4" height="8.8" rx="4.8" fill="#545a73"/>
<path d="M307.7 79.2V445.6" stroke="#e8eefa" stroke-width="1" stroke-opacity="0.65" fill="none"/>
<path d="M486 79.2V445.6" stroke="#e8eefa" stroke-width="1" stroke-opacity="0.65" fill="none"/>
<path d="M791.7 92V432" stroke="#e8eefa" stroke-width="1" stroke-opacity="0.65" fill="none"/>
<path d="M1098.2 79.2V445.6" stroke="#e8eefa" stroke-width="1" stroke-opacity="0.65" fill="none"/>
<path d="M1275.6 79.2V445.6" stroke="#e8eefa" stroke-width="1" stroke-opacity="0.65" fill="none"/>
<defs><linearGradient id="cb" x1="0" y1="1" x2="0" y2="0">
<stop offset="0.00" stop-color="#3b4cc0"/>
<stop offset="0.05" stop-color="#4961d2"/>
<stop offset="0.10" stop-color="#5977e3"/>
<stop offset="0.15" stop-color="#6a8bef"/>
<stop offset="0.20" stop-color="#7b9ff9"/>
<stop offset="0.25" stop-color="#8db0fe"/>
<stop offset="0.30" stop-color="#9ebeff"/>
<stop offset="0.35" stop-color="#afcafc"/>
<stop offset="0.40" stop-color="#c0d4f5"/>
<stop offset="0.45" stop-color="#cfdaea"/>
<stop offset="0.50" stop-color="#dddcdc"/>
<stop offset="0.55" stop-color="#e9d5cb"/>
<stop offset="0.60" stop-color="#f2cbb7"/>
<stop offset="0.65" stop-color="#f6bda2"/>
<stop offset="0.70" stop-color="#f7ac8e"/>
<stop offset="0.75" stop-color="#f4987a"/>
<stop offset="0.80" stop-color="#ee8468"/>
<stop offset="0.85" stop-color="#e36c55"/>
<stop offset="0.90" stop-color="#d65244"/>
<stop offset="0.95" stop-color="#c53334"/>
<stop offset="1.00" stop-color="#b40426"/>
</linearGradient></defs>
<rect x="123.8" y="70.5" width="15" height="220.3" fill="url(#cb)"/>
<path d="M115.5 70.5H124" stroke="#9a9a9a" stroke-width="1.2"/>
<text x="111" y="80.7" font-size="28.5" font-weight="bold" text-anchor="end">180</text>
<path d="M115.5 110H124" stroke="#9a9a9a" stroke-width="1.2"/>
<text x="111" y="120.2" font-size="28.5" font-weight="bold" text-anchor="end">150</text>
<path d="M115.5 171H124" stroke="#9a9a9a" stroke-width="1.2"/>
<text x="111" y="181.2" font-size="28.5" font-weight="bold" text-anchor="end">100</text>
<path d="M115.5 232H124" stroke="#9a9a9a" stroke-width="1.2"/>
<text x="111" y="242.2" font-size="28.5" font-weight="bold" text-anchor="end">50</text>
<path d="M115.5 290.5H124" stroke="#9a9a9a" stroke-width="1.2"/>
<text x="111" y="300.7" font-size="28.5" font-weight="bold" text-anchor="end">0</text>
<text transform="translate(34.8,297) rotate(-90)" font-size="29" font-weight="bold">z-velocity (cm s<tspan font-size="17.5" dy="-13">-1</tspan><tspan dy="13">)</tspan></text>
<text x="6" y="38" font-size="46" font-weight="bold">(a)</text>
<text x="783" y="31.3" font-size="41.3" text-anchor="middle">gas rectifier</text>
<path d="M588.3 47.5H991.2" stroke="#000" stroke-width="3.2" fill="none"/>
<path d="M562.5 47.5L605.5 40.7L599.5 47.5L605.5 54.3Z" fill="#000"/>
<path d="M1017 47.5L974 40.7L980 47.5L974 54.3Z" fill="#000"/>
<path d="M45.3 376V418.7H88" stroke="#000" stroke-width="3.6" fill="none" stroke-linejoin="miter"/>
<path d="M45.3 352L51.2 378.5L45.3 375L39.4 378.5Z" fill="#000"/>
<path d="M110.5 418.7L84.5 424.2L88 418.7L84.5 413.2Z" fill="#000"/>
<text x="45.5" y="344" font-size="38.5" text-anchor="middle">x</text>
<text x="126" y="428.7" font-size="38.5" text-anchor="middle">z</text>
<text x="307.7" y="498.5" font-size="36" text-anchor="middle">i</text>
<text x="486" y="498.3" font-size="36" text-anchor="middle">ii</text>
<text x="791.7" y="499.5" font-size="36" text-anchor="middle">iii</text>
<text x="1101.5" y="496.8" font-size="36" text-anchor="middle">iv</text>
<text x="1275.6" y="495.5" font-size="36" text-anchor="middle">v</text>
<rect x="187.0" y="518.5" width="1208.5" height="182.5" fill="#fff" stroke="#000" stroke-width="2.4"/>
<path d="M202.1 518.5v4.3M202.1 701v-4.3M217.2 518.5v4.3M217.2 701v-4.3M232.3 518.5v4.3M232.3 701v-4.3M247.4 518.5v4.3M247.4 701v-4.3M262.6 518.5v6.6M262.6 701v-6.6M277.7 518.5v4.3M277.7 701v-4.3M292.8 518.5v4.3M292.8 701v-4.3M307.9 518.5v4.3M307.9 701v-4.3M323 518.5v4.3M323 701v-4.3M338.1 518.5v8.8M338.1 701v-8.8M353.2 518.5v4.3M353.2 701v-4.3M368.3 518.5v4.3M368.3 701v-4.3M383.5 518.5v4.3M383.5 701v-4.3M398.6 518.5v4.3M398.6 701v-4.3M413.7 518.5v6.6M413.7 701v-6.6M428.8 518.5v4.3M428.8 701v-4.3M443.9 518.5v4.3M443.9 701v-4.3M459 518.5v4.3M459 701v-4.3M474.1 518.5v4.3M474.1 701v-4.3M489.2 518.5v8.8M489.2 701v-8.8M504.4 518.5v4.3M504.4 701v-4.3M519.5 518.5v4.3M519.5 701v-4.3M534.6 518.5v4.3M534.6 701v-4.3M549.7 518.5v4.3M549.7 701v-4.3M564.8 518.5v6.6M564.8 701v-6.6M579.9 518.5v4.3M579.9 701v-4.3M595 518.5v4.3M595 701v-4.3M610.1 518.5v4.3M610.1 701v-4.3M625.3 518.5v4.3M625.3 701v-4.3M640.4 518.5v8.8M640.4 701v-8.8M655.5 518.5v4.3M655.5 701v-4.3M670.6 518.5v4.3M670.6 701v-4.3M685.7 518.5v4.3M685.7 701v-4.3M700.8 518.5v4.3M700.8 701v-4.3M715.9 518.5v6.6M715.9 701v-6.6M731 518.5v4.3M731 701v-4.3M746.2 518.5v4.3M746.2 701v-4.3M761.3 518.5v4.3M761.3 701v-4.3M776.4 518.5v4.3M776.4 701v-4.3M791.5 518.5v8.8M791.5 701v-8.8M806.6 518.5v4.3M806.6 701v-4.3M821.7 518.5v4.3M821.7 701v-4.3M836.8 518.5v4.3M836.8 701v-4.3M852 518.5v4.3M852 701v-4.3M867.1 518.5v6.6M867.1 701v-6.6M882.2 518.5v4.3M882.2 701v-4.3M897.3 518.5v4.3M897.3 701v-4.3M912.4 518.5v4.3M912.4 701v-4.3M927.5 518.5v4.3M927.5 701v-4.3M942.6 518.5v8.8M942.6 701v-8.8M957.7 518.5v4.3M957.7 701v-4.3M972.9 518.5v4.3M972.9 701v-4.3M988 518.5v4.3M988 701v-4.3M1003.1 518.5v4.3M1003.1 701v-4.3M1018.2 518.5v6.6M1018.2 701v-6.6M1033.3 518.5v4.3M1033.3 701v-4.3M1048.4 518.5v4.3M1048.4 701v-4.3M1063.5 518.5v4.3M1063.5 701v-4.3M1078.6 518.5v4.3M1078.6 701v-4.3M1093.8 518.5v8.8M1093.8 701v-8.8M1108.9 518.5v4.3M1108.9 701v-4.3M1124 518.5v4.3M1124 701v-4.3M1139.1 518.5v4.3M1139.1 701v-4.3M1154.2 518.5v4.3M1154.2 701v-4.3M1169.3 518.5v6.6M1169.3 701v-6.6M1184.4 518.5v4.3M1184.4 701v-4.3M1199.5 518.5v4.3M1199.5 701v-4.3M1214.7 518.5v4.3M1214.7 701v-4.3M1229.8 518.5v4.3M1229.8 701v-4.3M1244.9 518.5v8.8M1244.9 701v-8.8M1260 518.5v4.3M1260 701v-4.3M1275.1 518.5v4.3M1275.1 701v-4.3M1290.2 518.5v4.3M1290.2 701v-4.3M1305.3 518.5v4.3M1305.3 701v-4.3M1320.4 518.5v6.6M1320.4 701v-6.6M1335.6 518.5v4.3M1335.6 701v-4.3M1350.7 518.5v4.3M1350.7 701v-4.3M1365.8 518.5v4.3M1365.8 701v-4.3M1380.9 518.5v4.3M1380.9 701v-4.3M187 684.4h6.5M1395.5 684.4h-6.5M187 667.7h6.5M1395.5 667.7h-6.5M187 651.1h6.5M1395.5 651.1h-6.5M187 634.4h6.5M1395.5 634.4h-6.5M187 617.8h12M1395.5 617.8h-12M187 601.2h6.5M1395.5 601.2h-6.5M187 584.5h6.5M1395.5 584.5h-6.5M187 567.9h6.5M1395.5 567.9h-6.5M187 551.2h6.5M1395.5 551.2h-6.5M187 534.6h12M1395.5 534.6h-12M187 518h6.5M1395.5 518h-6.5" stroke="#000" stroke-width="2.3" fill="none"/>
<path d="M307.7 518.5V701" stroke="#222" stroke-width="1" stroke-dasharray="1.2 1" fill="none"/>
<path d="M486 518.5V701" stroke="#222" stroke-width="1" stroke-dasharray="1.2 1" fill="none"/>
<path d="M791.7 518.5V701" stroke="#222" stroke-width="1" stroke-dasharray="1.2 1" fill="none"/>
<path d="M1098.2 518.5V701" stroke="#222" stroke-width="1" stroke-dasharray="1.2 1" fill="none"/>
<path d="M1275.6 518.5V701" stroke="#222" stroke-width="1" stroke-dasharray="1.2 1" fill="none"/>
<path d="M187 540.9 194.6 540.9 202.1 540.9 209.7 540.9 217.2 540.9 224.8 540.9 232.3 540.9 239.9 540.9 247.4 540.9 255 540.9 262.6 540.9 270.1 540.9 277.7 540.9 285.2 540.9 292.8 540.9 300.3 540.9 307.9 540.9 315.5 540.9 323 541 330.6 541 338.1 541 345.7 541 353.2 541 360.8 541 368.4 541 375.9 541 383.5 541.1 391 541.1 398.6 541.1 406.1 541.1 413.7 541.1 421.2 541.1 428.8 541.1 436.4 541.2 443.9 541.2 451.5 541.2 459 541.2 466.6 541.2 474.1 541.2 481.7 541.2 489.2 541.3 496.8 541.3 504.4 541.4 511.9 541.5 519.5 541.5 527 541.6 534.6 541.7 542.1 541.7 549.7 541.8 557.3 541.9 564.8 541.9 572.4 542.1 579.9 542.3 587.5 542.5 595 542.7 602.6 542.9 610.2 543.4 617.7 543.8 625.3 544.2 632.8 544.7 640.4 545.1 647.9 545.7 655.5 546.3 663 547 670.6 547.6 678.2 548.2 685.7 548.9 693.3 549.6 700.8 550.2 708.4 550.9 715.9 551.6 723.5 552.3 731 553.1 738.6 553.9 746.2 554.6 753.7 555.4 761.3 556.2 768.8 556.9 776.4 557.7 783.9 558.5 791.5 559.2 799.1 560.3 806.6 561.3 814.2 562.3 821.7 563.4 829.3 564.4 836.8 565.4 844.4 566.4 852 567.5 859.5 568.5 867.1 569.5 874.6 570.8 882.2 572 889.7 573.2 897.3 574.5 904.8 575.7 912.4 576.9 920 578.2 927.5 579.4 935.1 580.6 942.6 581.9 950.2 583.4 957.7 584.9 965.3 586.5 972.9 588 980.4 589.5 988 591.8 995.5 594.2 1003.1 596.5 1010.6 598.8 1018.2 601.2 1025.7 602.7 1033.3 604.2 1040.9 605.7 1048.4 607.2 1056 608.6 1063.5 609.9 1071.1 611.1 1078.6 612.3 1086.2 613.6 1093.8 614.8 1101.3 615.9 1108.9 617 1116.4 618.1 1124 619.2 1131.5 620.3 1139.1 621.5 1146.6 622.8 1154.2 624 1161.8 625.3 1169.3 625.8 1176.9 626.4 1184.4 626.9 1192 627.5 1199.5 628.6 1207.1 629.7 1214.7 630.8 1222.2 631.9 1229.8 633.2 1237.3 634.4 1244.9 635.6 1252.4 636.5 1260 637.4 1267.5 638.2 1275.1 639.1 1282.7 639.9 1290.2 640.8 1297.8 641.6 1305.3 642.4 1312.9 643.3 1320.4 644.1 1328 644.8 1335.6 645.5 1343.1 646.1 1350.7 646.8 1358.2 647.5 1365.8 648.2 1373.3 648.9 1380.9 649.5 1388.4 650.2 1396 650.9" stroke="#e3000f" stroke-width="3.3" fill="none" stroke-linejoin="round"/>
<text transform="translate(180,542.6) scale(1.29,1)" font-size="23.5" font-weight="bold" text-anchor="end">1500</text>
<text transform="translate(180,625.8) scale(1.29,1)" font-size="23.5" font-weight="bold" text-anchor="end">1000</text>
<text transform="translate(180,709) scale(1.29,1)" font-size="23.5" font-weight="bold" text-anchor="end">500</text>
<text transform="translate(186.5,727.8) scale(1.29,1)" font-size="23.5" font-weight="bold" text-anchor="middle">-8</text>
<text transform="translate(337.6,727.8) scale(1.29,1)" font-size="23.5" font-weight="bold" text-anchor="middle">-6</text>
<text transform="translate(488.8,727.8) scale(1.29,1)" font-size="23.5" font-weight="bold" text-anchor="middle">-4</text>
<text transform="translate(639.9,727.8) scale(1.29,1)" font-size="23.5" font-weight="bold" text-anchor="middle">-2</text>
<text transform="translate(791.5,727.8) scale(1.29,1)" font-size="23.5" font-weight="bold" text-anchor="middle">0</text>
<text transform="translate(942.6,727.8) scale(1.29,1)" font-size="23.5" font-weight="bold" text-anchor="middle">2</text>
<text transform="translate(1093.8,727.8) scale(1.29,1)" font-size="23.5" font-weight="bold" text-anchor="middle">4</text>
<text transform="translate(1244.9,727.8) scale(1.29,1)" font-size="23.5" font-weight="bold" text-anchor="middle">6</text>
<text transform="translate(1396,727.8) scale(1.29,1)" font-size="23.5" font-weight="bold" text-anchor="middle">8</text>
<text transform="translate(791,765.8) scale(1.29,1)" font-size="23.5" font-weight="bold" text-anchor="middle">Position (cm)</text>
<text transform="translate(78,609.5) rotate(-90) scale(1,1.29)" font-size="23.7" stroke="#000" stroke-width="0.45" text-anchor="middle">Temperature (K)</text>
<text x="10" y="832" font-size="47" font-weight="bold">(b)</text>
<text x="731" y="832" font-size="47" font-weight="bold">(c)</text>
<path d="M152.8 992.7V858.1H669.2V992.7M204.4 858.1v15.5M307.7 858.1v15.5M411 858.1v15.5M514.3 858.1v15.5M617.6 858.1v15.5M152.8 925.4h15.5M669.2 925.4h-15.5M152.8 992.7h15.5M669.2 992.7h-15.5" stroke="#000" stroke-width="3" fill="none" stroke-linecap="butt"/>
<text x="144" y="869.5" font-size="33.5" font-weight="bold" text-anchor="end">200</text>
<text x="144" y="936.8" font-size="33.5" font-weight="bold" text-anchor="end">100</text>
<text x="144" y="1004.1" font-size="33.5" font-weight="bold" text-anchor="end">0</text>
<text x="179" y="908.7" font-size="38" font-weight="bold">v</text>
<path d="M152.8 992.7 157.1 991.4 161.4 990.1 165.7 988.8 170 987.6 174.3 986.4 178.6 985.2 182.9 984 187.2 982.8 191.5 981.7 195.8 980.6 200.1 979.5 204.4 978.4 208.7 977.4 213 976.3 217.3 975.3 221.6 974.3 225.9 973.4 230.2 972.4 234.5 971.5 238.8 970.6 243.1 969.8 247.4 968.9 251.7 968.1 256.1 967.3 260.4 966.5 264.7 965.7 269 965 273.3 964.3 277.6 963.6 281.9 962.9 286.2 962.3 290.5 961.6 294.8 961 299.1 960.4 303.4 959.9 307.7 959.3 312 958.8 316.3 958.3 320.6 957.9 324.9 957.4 329.2 957 333.5 956.6 337.8 956.2 342.1 955.8 346.4 955.5 350.7 955.2 355 954.9 359.4 954.6 363.7 954.3 368 954.1 372.3 953.9 376.6 953.7 380.9 953.5 385.2 953.4 389.5 953.3 393.8 953.2 398.1 953.1 402.4 953 406.7 953 411 953 415.3 953 419.6 953 423.9 953.1 428.2 953.2 432.5 953.3 436.8 953.4 441.1 953.5 445.4 953.7 449.7 953.9 454 954.1 458.3 954.3 462.6 954.6 467 954.9 471.3 955.2 475.6 955.5 479.9 955.8 484.2 956.2 488.5 956.6 492.8 957 497.1 957.4 501.4 957.9 505.7 958.3 510 958.8 514.3 959.3 518.6 959.9 522.9 960.4 527.2 961 531.5 961.6 535.8 962.3 540.1 962.9 544.4 963.6 548.7 964.3 553 965 557.3 965.7 561.6 966.5 566 967.3 570.3 968.1 574.6 968.9 578.9 969.8 583.2 970.6 587.5 971.5 591.8 972.4 596.1 973.4 600.4 974.3 604.7 975.3 609 976.3 613.3 977.4 617.6 978.4 621.9 979.5 626.2 980.6 630.5 981.7 634.8 982.8 639.1 984 643.4 985.2 647.7 986.4 652 987.6 656.3 988.8 660.6 990.1 664.9 991.4 669.2 992.7" stroke="#f08389" stroke-width="3.3" fill="none" stroke-linejoin="round"/>
<path d="M152.8 1170.5V1035.9h15.5M669.2 1170.5V1035.9h-15.5M152.8 1103.2h15.5M669.2 1103.2h-15.5M152.8 1170.5h15.5M669.2 1170.5h-15.5" stroke="#000" stroke-width="3" fill="none" stroke-linecap="butt"/>
<text x="144" y="1047.3" font-size="33.5" font-weight="bold" text-anchor="end">200</text>
<text x="144" y="1114.6" font-size="33.5" font-weight="bold" text-anchor="end">100</text>
<text x="144" y="1181.9" font-size="33.5" font-weight="bold" text-anchor="end">0</text>
<text x="181" y="1062.6" font-size="38" font-weight="bold">iv</text>
<path d="M152.8 1170.5 157.1 1169.1 161.4 1167.2 165.7 1165.1 170 1162.9 174.3 1160.8 178.6 1158.7 182.9 1156.8 187.2 1154.9 191.5 1153.2 195.8 1151.6 200.1 1150.1 204.4 1148.8 208.7 1147.6 213 1146.5 217.3 1145.5 221.6 1144.6 225.9 1143.8 230.2 1143.1 234.5 1142.5 238.8 1141.9 243.1 1141.4 247.4 1141 251.7 1140.6 256.1 1140.3 260.4 1140 264.7 1139.7 269 1139.5 273.3 1139.3 277.6 1139.2 281.9 1139 286.2 1138.9 290.5 1138.8 294.8 1138.7 299.1 1138.6 303.4 1138.6 307.7 1138.5 312 1138.5 316.3 1138.4 320.6 1138.4 324.9 1138.4 329.2 1138.3 333.5 1138.3 337.8 1138.3 342.1 1138.3 346.4 1138.3 350.7 1138.3 355 1138.2 359.4 1138.2 363.7 1138.2 368 1138.2 372.3 1138.2 376.6 1138.2 380.9 1138.2 385.2 1138.2 389.5 1138.2 393.8 1138.2 398.1 1138.2 402.4 1138.2 406.7 1138.2 411 1138.2 415.3 1138.2 419.6 1138.2 423.9 1138.2 428.2 1138.2 432.5 1138.2 436.8 1138.2 441.1 1138.2 445.4 1138.2 449.7 1138.2 454 1138.2 458.3 1138.2 462.6 1138.2 467 1138.2 471.3 1138.3 475.6 1138.3 479.9 1138.3 484.2 1138.3 488.5 1138.3 492.8 1138.3 497.1 1138.4 501.4 1138.4 505.7 1138.4 510 1138.5 514.3 1138.5 518.6 1138.6 522.9 1138.6 527.2 1138.7 531.5 1138.8 535.8 1138.9 540.1 1139 544.4 1139.2 548.7 1139.3 553 1139.5 557.3 1139.7 561.6 1140 566 1140.3 570.3 1140.6 574.6 1141 578.9 1141.4 583.2 1141.9 587.5 1142.5 591.8 1143.1 596.1 1143.8 600.4 1144.6 604.7 1145.5 609 1146.5 613.3 1147.6 617.6 1148.8 621.9 1150.1 626.2 1151.6 630.5 1153.2 634.8 1154.9 639.1 1156.8 643.4 1158.7 647.7 1160.8 652 1162.9 656.3 1165.1 660.6 1167.2 664.9 1169.1 669.2 1170.5" stroke="#f5a988" stroke-width="3.3" fill="none" stroke-linejoin="round"/>
<path d="M152.8 1348.6V1214h15.5M669.2 1348.6V1214h-15.5M152.8 1281.3h15.5M669.2 1281.3h-15.5M152.8 1348.6h15.5M669.2 1348.6h-15.5" stroke="#000" stroke-width="3" fill="none" stroke-linecap="butt"/>
<text x="144" y="1225.4" font-size="33.5" font-weight="bold" text-anchor="end">200</text>
<text x="144" y="1292.7" font-size="33.5" font-weight="bold" text-anchor="end">100</text>
<text x="144" y="1360" font-size="33.5" font-weight="bold" text-anchor="end">0</text>
<text x="182" y="1212.5" font-size="38" font-weight="bold">iii</text>
<path d="M152.8 1348.6 153.5 1338 154.2 1328.1 155 1318.9 155.7 1310.4 156.4 1302.6 157.2 1295.4 157.9 1289 158.7 1283.2 159.4 1278 160.1 1273.5 160.9 1269.6 161.6 1266.2 162.3 1263.5 163.1 1261.4 163.8 1259.7 164.6 1258.6 165.3 1258 166 1257.7 166.8 1257.9 167.5 1258.4 168.2 1259.5 169 1261.2 169.7 1263.5 170.5 1266.5 171.2 1270.2 171.9 1274.5 172.7 1279.6 173.4 1285.5 174.1 1292.1 174.9 1299.5 175.6 1307.7 176.4 1316.7 177.1 1326.5 177.8 1337.1 178.6 1348.6 179.3 1348.6 180.1 1348.6 180.8 1348.6 181.5 1348.6 182.3 1348.6 183 1348.6 183.7 1348.6 184.5 1348.6 185.2 1348.6 186 1348.6 186.7 1348.6 187.4 1348.6 188.2 1348.6 188.9 1348.6 189.6 1336.5 190.4 1325.1 191.1 1314.4 191.9 1304.6 192.6 1295.4 193.3 1287 194.1 1279.2 194.8 1272.2 195.5 1265.8 196.3 1260 197 1255 197.8 1250.5 198.5 1246.6 199.2 1243.3 200 1240.6 200.7 1238.4 201.4 1236.7 202.2 1235.5 202.9 1234.7 203.7 1234.3 204.4 1234.2 205.1 1234.3 205.9 1234.7 206.6 1235.5 207.4 1236.7 208.1 1238.4 208.8 1240.6 209.6 1243.3 210.3 1246.6 211 1250.5 211.8 1255 212.5 1260 213.3 1265.8 214 1272.2 214.7 1279.2 215.5 1287 216.2 1295.4 216.9 1304.6 217.7 1314.4 218.4 1325.1 219.2 1336.5 219.9 1348.6 220.6 1348.6 221.4 1348.6 222.1 1348.6 222.8 1348.6 223.6 1348.6 224.3 1348.6 225.1 1348.6 225.8 1348.6 226.5 1348.6 227.3 1348.6 228 1348.6 228.7 1348.6 229.5 1348.6 230.2 1348.6 231 1336.5 231.7 1325.1 232.4 1314.4 233.2 1304.6 233.9 1295.4 234.7 1287 235.4 1279.2 236.1 1272.2 236.9 1265.8 237.6 1260 238.3 1255 239.1 1250.5 239.8 1246.6 240.6 1243.3 241.3 1240.6 242 1238.4 242.8 1236.7 243.5 1235.5 244.2 1234.7 245 1234.3 245.7 1234.2 246.5 1234.3 247.2 1234.7 247.9 1235.5 248.7 1236.7 249.4 1238.4 250.1 1240.6 250.9 1243.3 251.6 1246.6 252.4 1250.5 253.1 1255 253.8 1260 254.6 1265.8 255.3 1272.2 256.1 1279.2 256.8 1287 257.5 1295.4 258.3 1304.6 259 1314.4 259.7 1325.1 260.5 1336.5 261.2 1348.6 262 1348.6 262.7 1348.6 263.4 1348.6 264.2 1348.6 264.9 1348.6 265.6 1348.6 266.4 1348.6 267.1 1348.6 267.9 1348.6 268.6 1348.6 269.3 1348.6 270.1 1348.6 270.8 1348.6 271.5 1348.6 272.3 1336.5 273 1325.1 273.8 1314.4 274.5 1304.6 275.2 1295.4 276 1287 276.7 1279.2 277.4 1272.2 278.2 1265.8 278.9 1260 279.7 1255 280.4 1250.5 281.1 1246.6 281.9 1243.3 282.6 1240.6 283.4 1238.4 284.1 1236.7 284.8 1235.5 285.6 1234.7 286.3 1234.3 287 1234.2 287.8 1234.3 288.5 1234.7 289.3 1235.5 290 1236.7 290.7 1238.4 291.5 1240.6 292.2 1243.3 292.9 1246.6 293.7 1250.5 294.4 1255 295.2 1260 295.9 1265.8 296.6 1272.2 297.4 1279.2 298.1 1287 298.8 1295.4 299.6 1304.6 300.3 1314.4 301.1 1325.1 301.8 1336.5 302.5 1348.6 303.3 1348.6 304 1348.6 304.7 1348.6 305.5 1348.6 306.2 1348.6 307 1348.6 307.7 1348.6 308.4 1348.6 309.2 1348.6 309.9 1348.6 310.7 1348.6 311.4 1348.6 312.1 1348.6 312.9 1348.6 313.6 1336.5 314.3 1325.1 315.1 1314.4 315.8 1304.6 316.6 1295.4 317.3 1287 318 1279.2 318.8 1272.2 319.5 1265.8 320.2 1260 321 1255 321.7 1250.5 322.5 1246.6 323.2 1243.3 323.9 1240.6 324.7 1238.4 325.4 1236.7 326.1 1235.5 326.9 1234.7 327.6 1234.3 328.4 1234.2 329.1 1234.3 329.8 1234.7 330.6 1235.5 331.3 1236.7 332 1238.4 332.8 1240.6 333.5 1243.3 334.3 1246.6 335 1250.5 335.7 1255 336.5 1260 337.2 1265.8 338 1272.2 338.7 1279.2 339.4 1287 340.2 1295.4 340.9 1304.6 341.6 1314.4 342.4 1325.1 343.1 1336.5 343.9 1348.6 344.6 1348.6 345.3 1348.6 346.1 1348.6 346.8 1348.6 347.5 1348.6 348.3 1348.6 349 1348.6 349.8 1348.6 350.5 1348.6 351.2 1348.6 352 1348.6 352.7 1348.6 353.4 1348.6 354.2 1348.6 354.9 1336.5 355.7 1325.1 356.4 1314.4 357.1 1304.6 357.9 1295.4 358.6 1287 359.4 1279.2 360.1 1272.2 360.8 1265.8 361.6 1260 362.3 1255 363 1250.5 363.8 1246.6 364.5 1243.3 365.3 1240.6 366 1238.4 366.7 1236.7 367.5 1235.5 368.2 1234.7 368.9 1234.3 369.7 1234.2 370.4 1234.3 371.2 1234.7 371.9 1235.5 372.6 1236.7 373.4 1238.4 374.1 1240.6 374.8 1243.3 375.6 1246.6 376.3 1250.5 377.1 1255 377.8 1260 378.5 1265.8 379.3 1272.2 380 1279.2 380.7 1287 381.5 1295.4 382.2 1304.6 383 1314.4 383.7 1325.1 384.4 1336.5 385.2 1348.6 385.9 1348.6 386.7 1348.6 387.4 1348.6 388.1 1348.6 388.9 1348.6 389.6 1348.6 390.3 1348.6 391.1 1348.6 391.8 1348.6 392.6 1348.6 393.3 1348.6 394 1348.6 394.8 1348.6 395.5 1348.6 396.2 1336.5 397 1325.1 397.7 1314.4 398.5 1304.6 399.2 1295.4 399.9 1287 400.7 1279.2 401.4 1272.2 402.1 1265.8 402.9 1260 403.6 1255 404.4 1250.5 405.1 1246.6 405.8 1243.3 406.6 1240.6 407.3 1238.4 408 1236.7 408.8 1235.5 409.5 1234.7 410.3 1234.3 411 1234.2 411.7 1234.3 412.5 1234.7 413.2 1235.5 414 1236.7 414.7 1238.4 415.4 1240.6 416.2 1243.3 416.9 1246.6 417.6 1250.5 418.4 1255 419.1 1260 419.9 1265.8 420.6 1272.2 421.3 1279.2 422.1 1287 422.8 1295.4 423.5 1304.6 424.3 1314.4 425 1325.1 425.8 1336.5 426.5 1348.6 427.2 1348.6 428 1348.6 428.7 1348.6 429.4 1348.6 430.2 1348.6 430.9 1348.6 431.7 1348.6 432.4 1348.6 433.1 1348.6 433.9 1348.6 434.6 1348.6 435.3 1348.6 436.1 1348.6 436.8 1348.6 437.6 1336.5 438.3 1325.1 439 1314.4 439.8 1304.6 440.5 1295.4 441.3 1287 442 1279.2 442.7 1272.2 443.5 1265.8 444.2 1260 444.9 1255 445.7 1250.5 446.4 1246.6 447.2 1243.3 447.9 1240.6 448.6 1238.4 449.4 1236.7 450.1 1235.5 450.8 1234.7 451.6 1234.3 452.3 1234.2 453.1 1234.3 453.8 1234.7 454.5 1235.5 455.3 1236.7 456 1238.4 456.7 1240.6 457.5 1243.3 458.2 1246.6 459 1250.5 459.7 1255 460.4 1260 461.2 1265.8 461.9 1272.2 462.6 1279.2 463.4 1287 464.1 1295.4 464.9 1304.6 465.6 1314.4 466.3 1325.1 467.1 1336.5 467.8 1348.6 468.6 1348.6 469.3 1348.6 470 1348.6 470.8 1348.6 471.5 1348.6 472.2 1348.6 473 1348.6 473.7 1348.6 474.5 1348.6 475.2 1348.6 475.9 1348.6 476.7 1348.6 477.4 1348.6 478.1 1348.6 478.9 1336.5 479.6 1325.1 480.4 1314.4 481.1 1304.6 481.8 1295.4 482.6 1287 483.3 1279.2 484 1272.2 484.8 1265.8 485.5 1260 486.3 1255 487 1250.5 487.7 1246.6 488.5 1243.3 489.2 1240.6 490 1238.4 490.7 1236.7 491.4 1235.5 492.2 1234.7 492.9 1234.3 493.6 1234.2 494.4 1234.3 495.1 1234.7 495.9 1235.5 496.6 1236.7 497.3 1238.4 498.1 1240.6 498.8 1243.3 499.5 1246.6 500.3 1250.5 501 1255 501.8 1260 502.5 1265.8 503.2 1272.2 504 1279.2 504.7 1287 505.4 1295.4 506.2 1304.6 506.9 1314.4 507.7 1325.1 508.4 1336.5 509.1 1348.6 509.9 1348.6 510.6 1348.6 511.3 1348.6 512.1 1348.6 512.8 1348.6 513.6 1348.6 514.3 1348.6 515 1348.6 515.8 1348.6 516.5 1348.6 517.3 1348.6 518 1348.6 518.7 1348.6 519.5 1348.6 520.2 1336.5 520.9 1325.1 521.7 1314.4 522.4 1304.6 523.2 1295.4 523.9 1287 524.6 1279.2 525.4 1272.2 526.1 1265.8 526.8 1260 527.6 1255 528.3 1250.5 529.1 1246.6 529.8 1243.3 530.5 1240.6 531.3 1238.4 532 1236.7 532.7 1235.5 533.5 1234.7 534.2 1234.3 535 1234.2 535.7 1234.3 536.4 1234.7 537.2 1235.5 537.9 1236.7 538.6 1238.4 539.4 1240.6 540.1 1243.3 540.9 1246.6 541.6 1250.5 542.3 1255 543.1 1260 543.8 1265.8 544.6 1272.2 545.3 1279.2 546 1287 546.8 1295.4 547.5 1304.6 548.2 1314.4 549 1325.1 549.7 1336.5 550.5 1348.6 551.2 1348.6 551.9 1348.6 552.7 1348.6 553.4 1348.6 554.1 1348.6 554.9 1348.6 555.6 1348.6 556.4 1348.6 557.1 1348.6 557.8 1348.6 558.6 1348.6 559.3 1348.6 560 1348.6 560.8 1348.6 561.5 1336.5 562.3 1325.1 563 1314.4 563.7 1304.6 564.5 1295.4 565.2 1287 566 1279.2 566.7 1272.2 567.4 1265.8 568.2 1260 568.9 1255 569.6 1250.5 570.4 1246.6 571.1 1243.3 571.9 1240.6 572.6 1238.4 573.3 1236.7 574.1 1235.5 574.8 1234.7 575.5 1234.3 576.3 1234.2 577 1234.3 577.8 1234.7 578.5 1235.5 579.2 1236.7 580 1238.4 580.7 1240.6 581.4 1243.3 582.2 1246.6 582.9 1250.5 583.7 1255 584.4 1260 585.1 1265.8 585.9 1272.2 586.6 1279.2 587.3 1287 588.1 1295.4 588.8 1304.6 589.6 1314.4 590.3 1325.1 591 1336.5 591.8 1348.6 592.5 1348.6 593.3 1348.6 594 1348.6 594.7 1348.6 595.5 1348.6 596.2 1348.6 596.9 1348.6 597.7 1348.6 598.4 1348.6 599.2 1348.6 599.9 1348.6 600.6 1348.6 601.4 1348.6 602.1 1348.6 602.8 1336.5 603.6 1325.1 604.3 1314.4 605.1 1304.6 605.8 1295.4 606.5 1287 607.3 1279.2 608 1272.2 608.7 1265.8 609.5 1260 610.2 1255 611 1250.5 611.7 1246.6 612.4 1243.3 613.2 1240.6 613.9 1238.4 614.6 1236.7 615.4 1235.5 616.1 1234.7 616.9 1234.3 617.6 1234.2 618.3 1234.3 619.1 1234.7 619.8 1235.5 620.6 1236.7 621.3 1238.4 622 1240.6 622.8 1243.3 623.5 1246.6 624.2 1250.5 625 1255 625.7 1260 626.5 1265.8 627.2 1272.2 627.9 1279.2 628.7 1287 629.4 1295.4 630.1 1304.6 630.9 1314.4 631.6 1325.1 632.4 1336.5 633.1 1348.6 633.8 1348.6 634.6 1348.6 635.3 1348.6 636 1348.6 636.8 1348.6 637.5 1348.6 638.3 1348.6 639 1348.6 639.7 1348.6 640.5 1348.6 641.2 1348.6 641.9 1348.6 642.7 1348.6 643.4 1348.6 644.2 1337.1 644.9 1326.5 645.6 1316.7 646.4 1307.7 647.1 1299.5 647.9 1292.1 648.6 1285.5 649.3 1279.6 650.1 1274.5 650.8 1270.2 651.5 1266.5 652.3 1263.5 653 1261.2 653.8 1259.5 654.5 1258.4 655.2 1257.9 656 1257.7 656.7 1258 657.4 1258.6 658.2 1259.7 658.9 1261.4 659.7 1263.5 660.4 1266.2 661.1 1269.6 661.9 1273.5 662.6 1278 663.3 1283.2 664.1 1289 664.8 1295.4 665.6 1302.6 666.3 1310.4 667 1318.9 667.8 1328.1 668.5 1338 669.2 1348.6" stroke="#ee1111" stroke-width="3.3" fill="none" stroke-linejoin="round"/>
<path d="M152.8 1526.5V1391.9h15.5M669.2 1526.5V1391.9h-15.5M152.8 1459.2h15.5M669.2 1459.2h-15.5M152.8 1526.5h15.5M669.2 1526.5h-15.5" stroke="#000" stroke-width="3" fill="none" stroke-linecap="butt"/>
<text x="144" y="1403.3" font-size="33.5" font-weight="bold" text-anchor="end">200</text>
<text x="144" y="1470.6" font-size="33.5" font-weight="bold" text-anchor="end">100</text>
<text x="144" y="1537.9" font-size="33.5" font-weight="bold" text-anchor="end">0</text>
<text x="181" y="1417.5" font-size="38" font-weight="bold">ii</text>
<path d="M152.8 1526.5 157.1 1524.5 161.4 1521.8 165.7 1518.9 170 1515.8 174.3 1512.8 178.6 1509.9 182.9 1507 187.2 1504.4 191.5 1501.8 195.8 1499.5 200.1 1497.4 204.4 1495.4 208.7 1493.5 213 1491.9 217.3 1490.4 221.6 1489 225.9 1487.8 230.2 1486.7 234.5 1485.7 238.8 1484.9 243.1 1484.1 247.4 1483.4 251.7 1482.8 256.1 1482.3 260.4 1481.8 264.7 1481.4 269 1481 273.3 1480.7 277.6 1480.4 281.9 1480.2 286.2 1480 290.5 1479.8 294.8 1479.7 299.1 1479.5 303.4 1479.4 307.7 1479.3 312 1479.2 316.3 1479.1 320.6 1479.1 324.9 1479 329.2 1479 333.5 1478.9 337.8 1478.9 342.1 1478.9 346.4 1478.9 350.7 1478.8 355 1478.8 359.4 1478.8 363.7 1478.8 368 1478.8 372.3 1478.8 376.6 1478.8 380.9 1478.8 385.2 1478.7 389.5 1478.7 393.8 1478.7 398.1 1478.7 402.4 1478.7 406.7 1478.7 411 1478.7 415.3 1478.7 419.6 1478.7 423.9 1478.7 428.2 1478.7 432.5 1478.7 436.8 1478.7 441.1 1478.8 445.4 1478.8 449.7 1478.8 454 1478.8 458.3 1478.8 462.6 1478.8 467 1478.8 471.3 1478.8 475.6 1478.9 479.9 1478.9 484.2 1478.9 488.5 1478.9 492.8 1479 497.1 1479 501.4 1479.1 505.7 1479.1 510 1479.2 514.3 1479.3 518.6 1479.4 522.9 1479.5 527.2 1479.7 531.5 1479.8 535.8 1480 540.1 1480.2 544.4 1480.4 548.7 1480.7 553 1481 557.3 1481.4 561.6 1481.8 566 1482.3 570.3 1482.8 574.6 1483.4 578.9 1484.1 583.2 1484.9 587.5 1485.7 591.8 1486.7 596.1 1487.8 600.4 1489 604.7 1490.4 609 1491.9 613.3 1493.5 617.6 1495.4 621.9 1497.4 626.2 1499.5 630.5 1501.8 634.8 1504.4 639.1 1507 643.4 1509.9 647.7 1512.8 652 1515.8 656.3 1518.9 660.6 1521.8 664.9 1524.5 669.2 1526.5" stroke="#0c0ce4" stroke-width="3.3" fill="none" stroke-linejoin="round"/>
<path d="M152.8 1704.1V1569.5h15.5M669.2 1704.1V1569.5h-15.5M152.8 1636.8h15.5M669.2 1636.8h-15.5M152.8 1704.1h15.5M669.2 1704.1h-15.5M151.7 1704.1H670.4M204.4 1704.1v-15.5M307.7 1704.1v-15.5M411 1704.1v-15.5M514.3 1704.1v-15.5M617.6 1704.1v-15.5" stroke="#000" stroke-width="3" fill="none" stroke-linecap="butt"/>
<text x="144" y="1580.9" font-size="33.5" font-weight="bold" text-anchor="end">200</text>
<text x="144" y="1648.2" font-size="33.5" font-weight="bold" text-anchor="end">100</text>
<text x="144" y="1715.5" font-size="33.5" font-weight="bold" text-anchor="end">0</text>
<text x="181" y="1595" font-size="38" font-weight="bold">i</text>
<path d="M152.8 1704.1 157.1 1702 161.4 1699.9 165.7 1697.9 170 1695.9 174.3 1693.9 178.6 1692 182.9 1690.1 187.2 1688.2 191.5 1686.4 195.8 1684.6 200.1 1682.8 204.4 1681.1 208.7 1679.4 213 1677.7 217.3 1676.1 221.6 1674.5 225.9 1673 230.2 1671.5 234.5 1670 238.8 1668.6 243.1 1667.2 247.4 1665.8 251.7 1664.5 256.1 1663.2 260.4 1661.9 264.7 1660.7 269 1659.5 273.3 1658.4 277.6 1657.2 281.9 1656.1 286.2 1655.1 290.5 1654.1 294.8 1653.1 299.1 1652.2 303.4 1651.3 307.7 1650.4 312 1649.6 316.3 1648.8 320.6 1648 324.9 1647.3 329.2 1646.6 333.5 1645.9 337.8 1645.3 342.1 1644.7 346.4 1644.2 350.7 1643.6 355 1643.2 359.4 1642.7 363.7 1642.3 368 1641.9 372.3 1641.6 376.6 1641.3 380.9 1641 385.2 1640.8 389.5 1640.6 393.8 1640.4 398.1 1640.3 402.4 1640.2 406.7 1640.2 411 1640.2 415.3 1640.2 419.6 1640.2 423.9 1640.3 428.2 1640.4 432.5 1640.6 436.8 1640.8 441.1 1641 445.4 1641.3 449.7 1641.6 454 1641.9 458.3 1642.3 462.6 1642.7 467 1643.2 471.3 1643.6 475.6 1644.2 479.9 1644.7 484.2 1645.3 488.5 1645.9 492.8 1646.6 497.1 1647.3 501.4 1648 505.7 1648.8 510 1649.6 514.3 1650.4 518.6 1651.3 522.9 1652.2 527.2 1653.1 531.5 1654.1 535.8 1655.1 540.1 1656.1 544.4 1657.2 548.7 1658.4 553 1659.5 557.3 1660.7 561.6 1661.9 566 1663.2 570.3 1664.5 574.6 1665.8 578.9 1667.2 583.2 1668.6 587.5 1670 591.8 1671.5 596.1 1673 600.4 1674.5 604.7 1676.1 609 1677.7 613.3 1679.4 617.6 1681.1 621.9 1682.8 626.2 1684.6 630.5 1686.4 634.8 1688.2 639.1 1690.1 643.4 1692 647.7 1693.9 652 1695.9 656.3 1697.9 660.6 1699.9 664.9 1702 669.2 1704.1" stroke="#6a16d6" stroke-width="3.3" fill="none" stroke-linejoin="round"/>
<text x="203.9" y="1745.8" font-size="33.5" font-weight="bold" text-anchor="middle">-2</text>
<text x="307.2" y="1745.8" font-size="33.5" font-weight="bold" text-anchor="middle">-1</text>
<text x="411" y="1745.8" font-size="33.5" font-weight="bold" text-anchor="middle">0</text>
<text x="514.3" y="1745.8" font-size="33.5" font-weight="bold" text-anchor="middle">1</text>
<text x="617.6" y="1745.8" font-size="33.5" font-weight="bold" text-anchor="middle">2</text>
<text x="411" y="1805.3" font-size="33" font-weight="bold" text-anchor="middle">x-distance (cm)</text>
<text transform="translate(47.5,1316.5) rotate(-90)" font-size="33" font-weight="bold" text-anchor="middle">z-velocity (cm s<tspan font-size="22" dy="-26" dx="1.5">-1</tspan><tspan dy="26" dx="2">)</tspan></text>
<path d="M880.2 997.2 L880.2 986.7 882.2 986.8 884.2 986.9 886.2 986.9 888.1 985.8 890.1 981.8 892.1 982.2 894.1 986.3 896 987.3 898 987.4 900 987.5 902 987.5 903.9 987.8 905.9 987.8 907.9 987.8 909.9 987.8 911.8 988.1 913.8 988.1 915.8 988.1 917.8 988.4 919.7 988.4 921.7 988.4 923.7 988.6 925.7 988.6 927.6 988.6 929.6 988.6 931.6 988.9 933.6 988.9 935.6 988.9 937.5 989.2 939.5 989.2 941.5 989.2 943.5 989.2 945.4 989.5 947.4 989.5 949.4 989.5 951.4 989.7 953.3 989.7 955.3 989.7 957.3 989.7 959.3 990 961.2 990 963.2 990 965.2 990.3 967.2 990.3 969.1 990.3 971.1 990.6 973.1 990.6 975.1 990.6 977 990.6 979 990.8 981 990.8 983 990.8 985 991.1 986.9 991.1 988.9 991.1 990.9 991.1 992.9 991.4 994.8 991.4 996.8 991.4 998.8 991.7 1000.8 991.7 1002.7 991.7 1004.7 991.7 1006.7 991.9 1008.7 991.9 1010.6 991.9 1012.6 992.2 1014.6 992.2 1016.6 992.2 1018.5 992.5 1020.5 992.5 1022.5 992.5 1024.5 992.5 1026.4 992.8 1028.4 992.8 1030.4 992.8 1032.4 993.1 1034.3 993.1 1036.3 993.1 1038.3 993.1 1040.3 993.3 1042.3 993.3 1044.2 993.3 1046.2 993.6 1048.2 993.6 1050.2 993.6 1052.1 993.6 1054.1 993.9 1056.1 993.9 1058.1 993.9 1060 994.2 1062 994.2 1064 994.2 1066 994.4 1067.9 994.4 1069.9 994.4 1071.9 994.4 1073.9 994.7 1075.8 994.7 1077.8 994.7 1079.8 995 1081.8 995 1083.7 995 1085.7 995 1087.7 995.3 1089.7 995.3 1091.7 995.3 1093.6 995.5 1095.6 995.5 1097.6 995.5 1099.6 995.5 1101.5 995.8 1103.5 995.8 1105.5 995.8 1107.5 996.1 1109.4 996.1 1111.4 996.1 1113.4 996.4 1115.4 996.4 1117.3 996.4 1119.3 996.4 1121.3 996.6 1123.3 996.6 1125.2 996.6 1127.2 996.8 1129.2 996.8 1131.2 996.8 1133.1 996.8 1135.1 996.8 1137.1 996.8 1139.1 996.8 1141.1 996.8 1143 996.8 1145 996.8 1147 996.8 1149 996.6 1150.9 996.6 1152.9 996.6 1154.9 996.4 1156.9 996.4 1158.8 996.4 1160.8 996.4 1162.8 996.1 1164.8 996.1 1166.7 996.1 1168.7 995.8 1170.7 995.8 1172.7 995.8 1174.6 995.5 1176.6 995.5 1178.6 995.5 1180.6 995.5 1182.5 995.3 1184.5 995.3 1186.5 995.3 1188.5 995 1190.5 995 1192.4 995 1194.4 995 1196.4 994.7 1198.4 994.7 1200.3 994.7 1202.3 994.4 1204.3 994.4 1206.3 994.4 1208.2 994.4 1210.2 994.2 1212.2 994.2 1214.2 994.2 1216.1 993.9 1218.1 993.9 1220.1 993.9 1222.1 993.6 1224 993.6 1226 993.6 1228 993.6 1230 993.3 1231.9 993.3 1233.9 993.3 1235.9 993.1 1237.9 993.1 1239.8 993.1 1241.8 993.1 1243.8 992.8 1245.8 992.8 1247.8 992.8 1249.7 992.5 1251.7 992.5 1253.7 992.5 1255.7 992.5 1257.6 992.2 1259.6 992.2 1261.6 992.2 1263.6 991.9 1265.5 991.9 1267.5 991.9 1269.5 991.7 1271.5 991.7 1273.4 991.7 1275.4 991.7 1277.4 991.4 1279.4 991.4 1281.3 991.4 1283.3 991.1 1285.3 991.1 1287.3 991.1 1289.2 991.1 1291.2 990.8 1293.2 990.8 1295.2 990.8 1297.2 990.6 1299.1 990.6 1301.1 990.6 1303.1 990.6 1305.1 990.3 1307 990.3 1309 990.3 1311 990 1313 990 1314.9 990 1316.9 989.7 1318.9 989.7 1320.9 989.7 1322.8 989.7 1324.8 989.5 1326.8 989.5 1328.8 989.5 1330.7 989.2 1332.7 989.2 1334.7 989.2 1336.7 989.2 1338.6 988.9 1340.6 988.9 1342.6 988.9 1344.6 988.6 1346.6 988.6 1348.5 988.6 1350.5 988.6 1352.5 988.4 1354.5 988.4 1356.4 988.4 1358.4 988.1 1360.4 988.1 1362.4 988.1 1364.3 987.8 1366.3 987.8 1368.3 987.8 1370.3 987.8 1372.2 987.5 1374.2 987.5 1376.2 987.4 1378.2 987.3 1380.1 986.3 1382.1 982.2 1384.1 981.8 1386.1 985.8 1388 986.9 1390 986.9 1392 986.8 1394 986.7 L1394 997.2Z" fill="#f08389" fill-opacity="0.55" stroke="none"/>
<path d="M880.2 986.7 882.2 986.8 884.2 986.9 886.2 986.9 888.1 985.8 890.1 981.8 892.1 982.2 894.1 986.3 896 987.3 898 987.4 900 987.5 902 987.5 903.9 987.8 905.9 987.8 907.9 987.8 909.9 987.8 911.8 988.1 913.8 988.1 915.8 988.1 917.8 988.4 919.7 988.4 921.7 988.4 923.7 988.6 925.7 988.6 927.6 988.6 929.6 988.6 931.6 988.9 933.6 988.9 935.6 988.9 937.5 989.2 939.5 989.2 941.5 989.2 943.5 989.2 945.4 989.5 947.4 989.5 949.4 989.5 951.4 989.7 953.3 989.7 955.3 989.7 957.3 989.7 959.3 990 961.2 990 963.2 990 965.2 990.3 967.2 990.3 969.1 990.3 971.1 990.6 973.1 990.6 975.1 990.6 977 990.6 979 990.8 981 990.8 983 990.8 985 991.1 986.9 991.1 988.9 991.1 990.9 991.1 992.9 991.4 994.8 991.4 996.8 991.4 998.8 991.7 1000.8 991.7 1002.7 991.7 1004.7 991.7 1006.7 991.9 1008.7 991.9 1010.6 991.9 1012.6 992.2 1014.6 992.2 1016.6 992.2 1018.5 992.5 1020.5 992.5 1022.5 992.5 1024.5 992.5 1026.4 992.8 1028.4 992.8 1030.4 992.8 1032.4 993.1 1034.3 993.1 1036.3 993.1 1038.3 993.1 1040.3 993.3 1042.3 993.3 1044.2 993.3 1046.2 993.6 1048.2 993.6 1050.2 993.6 1052.1 993.6 1054.1 993.9 1056.1 993.9 1058.1 993.9 1060 994.2 1062 994.2 1064 994.2 1066 994.4 1067.9 994.4 1069.9 994.4 1071.9 994.4 1073.9 994.7 1075.8 994.7 1077.8 994.7 1079.8 995 1081.8 995 1083.7 995 1085.7 995 1087.7 995.3 1089.7 995.3 1091.7 995.3 1093.6 995.5 1095.6 995.5 1097.6 995.5 1099.6 995.5 1101.5 995.8 1103.5 995.8 1105.5 995.8 1107.5 996.1 1109.4 996.1 1111.4 996.1 1113.4 996.4 1115.4 996.4 1117.3 996.4 1119.3 996.4 1121.3 996.6 1123.3 996.6 1125.2 996.6 1127.2 996.8 1129.2 996.8 1131.2 996.8 1133.1 996.8 1135.1 996.8 1137.1 996.8 1139.1 996.8 1141.1 996.8 1143 996.8 1145 996.8 1147 996.8 1149 996.6 1150.9 996.6 1152.9 996.6 1154.9 996.4 1156.9 996.4 1158.8 996.4 1160.8 996.4 1162.8 996.1 1164.8 996.1 1166.7 996.1 1168.7 995.8 1170.7 995.8 1172.7 995.8 1174.6 995.5 1176.6 995.5 1178.6 995.5 1180.6 995.5 1182.5 995.3 1184.5 995.3 1186.5 995.3 1188.5 995 1190.5 995 1192.4 995 1194.4 995 1196.4 994.7 1198.4 994.7 1200.3 994.7 1202.3 994.4 1204.3 994.4 1206.3 994.4 1208.2 994.4 1210.2 994.2 1212.2 994.2 1214.2 994.2 1216.1 993.9 1218.1 993.9 1220.1 993.9 1222.1 993.6 1224 993.6 1226 993.6 1228 993.6 1230 993.3 1231.9 993.3 1233.9 993.3 1235.9 993.1 1237.9 993.1 1239.8 993.1 1241.8 993.1 1243.8 992.8 1245.8 992.8 1247.8 992.8 1249.7 992.5 1251.7 992.5 1253.7 992.5 1255.7 992.5 1257.6 992.2 1259.6 992.2 1261.6 992.2 1263.6 991.9 1265.5 991.9 1267.5 991.9 1269.5 991.7 1271.5 991.7 1273.4 991.7 1275.4 991.7 1277.4 991.4 1279.4 991.4 1281.3 991.4 1283.3 991.1 1285.3 991.1 1287.3 991.1 1289.2 991.1 1291.2 990.8 1293.2 990.8 1295.2 990.8 1297.2 990.6 1299.1 990.6 1301.1 990.6 1303.1 990.6 1305.1 990.3 1307 990.3 1309 990.3 1311 990 1313 990 1314.9 990 1316.9 989.7 1318.9 989.7 1320.9 989.7 1322.8 989.7 1324.8 989.5 1326.8 989.5 1328.8 989.5 1330.7 989.2 1332.7 989.2 1334.7 989.2 1336.7 989.2 1338.6 988.9 1340.6 988.9 1342.6 988.9 1344.6 988.6 1346.6 988.6 1348.5 988.6 1350.5 988.6 1352.5 988.4 1354.5 988.4 1356.4 988.4 1358.4 988.1 1360.4 988.1 1362.4 988.1 1364.3 987.8 1366.3 987.8 1368.3 987.8 1370.3 987.8 1372.2 987.5 1374.2 987.5 1376.2 987.4 1378.2 987.3 1380.1 986.3 1382.1 982.2 1384.1 981.8 1386.1 985.8 1388 986.9 1390 986.9 1392 986.8 1394 986.7" stroke="#f08389" stroke-width="2.9" fill="none" stroke-linejoin="round"/>
<path d="M880.2 997.2H899.7" stroke="#000" stroke-width="3" fill="none"/>
<path d="M906.2 997.2H1394" stroke="#000" stroke-width="3" stroke-dasharray="6.2 6.5" fill="none"/>
<path d="M880.2 997.2V862.9H1394V997.2M931.6 862.9v15.5M1034.3 862.9v15.5M1137.1 862.9v15.5M1239.8 862.9v15.5M1342.6 862.9v15.5M880.2 930.1h15.5M1394 930.1h-15.5M880.2 997.2h15.5M1394 997.2h-15.5" stroke="#000" stroke-width="3" fill="none" stroke-linecap="butt"/>
<text x="872.3" y="874.3" font-size="32.7" font-weight="bold" text-anchor="end">10</text>
<text x="872.3" y="941.5" font-size="32.7" font-weight="bold" text-anchor="end">5</text>
<text x="872.3" y="1008.6" font-size="32.7" font-weight="bold" text-anchor="end">0</text>
<text x="901" y="909" font-size="38" font-weight="bold">v</text>
<path d="M880.2 1174.2 L880.2 1158.8 882.2 1158.8 884.2 1158.7 886.2 1157.3 888.1 1148.1 890.1 1145.4 892.1 1154 894.1 1157.3 896 1157.7 898 1157.8 900 1158 902 1158 903.9 1158.8 905.9 1158.8 907.9 1158.8 909.9 1158.8 911.8 1159.6 913.8 1159.6 915.8 1159.6 917.8 1160.4 919.7 1160.4 921.7 1160.4 923.7 1161.4 925.7 1161.4 927.6 1161.4 929.6 1161.4 931.6 1162.3 933.6 1162.3 935.6 1162.3 937.5 1163.2 939.5 1163.2 941.5 1163.2 943.5 1163.2 945.4 1164.1 947.4 1164.1 949.4 1164.1 951.4 1165 953.3 1165 955.3 1165 957.3 1165 959.3 1165.8 961.2 1165.8 963.2 1165.8 965.2 1166.6 967.2 1166.6 969.1 1166.6 971.1 1167.4 973.1 1167.4 975.1 1167.4 977 1167.4 979 1168.1 981 1168.1 983 1168.1 985 1168.8 986.9 1168.8 988.9 1168.8 990.9 1168.8 992.9 1169.4 994.8 1169.4 996.8 1169.4 998.8 1170 1000.8 1170 1002.7 1170 1004.7 1170 1006.7 1170.5 1008.7 1170.5 1010.6 1170.5 1012.6 1170.9 1014.6 1170.9 1016.6 1170.9 1018.5 1171.4 1020.5 1171.4 1022.5 1171.4 1024.5 1171.4 1026.4 1171.7 1028.4 1171.7 1030.4 1171.7 1032.4 1172.1 1034.3 1172.1 1036.3 1172.1 1038.3 1172.1 1040.3 1172.4 1042.3 1172.4 1044.2 1172.4 1046.2 1172.6 1048.2 1172.6 1050.2 1172.6 1052.1 1172.6 1054.1 1172.8 1056.1 1172.8 1058.1 1172.8 1060 1173 1062 1173 1064 1173 1066 1173.2 1067.9 1173.2 1069.9 1173.2 1071.9 1173.2 1073.9 1173.4 1075.8 1173.4 1077.8 1173.4 1079.8 1173.5 1081.8 1173.5 1083.7 1173.5 1085.7 1173.5 1087.7 1173.6 1089.7 1173.6 1091.7 1173.6 1093.6 1173.7 1095.6 1173.7 1097.6 1173.7 1099.6 1173.7 1101.5 1173.8 1103.5 1173.8 1105.5 1173.8 1107.5 1173.9 1109.4 1173.9 1111.4 1173.9 1113.4 1173.9 1115.4 1173.9 1117.3 1173.9 1119.3 1173.9 1121.3 1174 1123.3 1174 1125.2 1174 1127.2 1174 1129.2 1174 1131.2 1174 1133.1 1174 1135.1 1174 1137.1 1174 1139.1 1174 1141.1 1174 1143 1174 1145 1174 1147 1174 1149 1174 1150.9 1174 1152.9 1174 1154.9 1173.9 1156.9 1173.9 1158.8 1173.9 1160.8 1173.9 1162.8 1173.9 1164.8 1173.9 1166.7 1173.9 1168.7 1173.8 1170.7 1173.8 1172.7 1173.8 1174.6 1173.7 1176.6 1173.7 1178.6 1173.7 1180.6 1173.7 1182.5 1173.6 1184.5 1173.6 1186.5 1173.6 1188.5 1173.5 1190.5 1173.5 1192.4 1173.5 1194.4 1173.5 1196.4 1173.4 1198.4 1173.4 1200.3 1173.4 1202.3 1173.2 1204.3 1173.2 1206.3 1173.2 1208.2 1173.2 1210.2 1173 1212.2 1173 1214.2 1173 1216.1 1172.8 1218.1 1172.8 1220.1 1172.8 1222.1 1172.6 1224 1172.6 1226 1172.6 1228 1172.6 1230 1172.4 1231.9 1172.4 1233.9 1172.4 1235.9 1172.1 1237.9 1172.1 1239.8 1172.1 1241.8 1172.1 1243.8 1171.7 1245.8 1171.7 1247.8 1171.7 1249.7 1171.4 1251.7 1171.4 1253.7 1171.4 1255.7 1171.4 1257.6 1170.9 1259.6 1170.9 1261.6 1170.9 1263.6 1170.5 1265.5 1170.5 1267.5 1170.5 1269.5 1170 1271.5 1170 1273.4 1170 1275.4 1170 1277.4 1169.4 1279.4 1169.4 1281.3 1169.4 1283.3 1168.8 1285.3 1168.8 1287.3 1168.8 1289.2 1168.8 1291.2 1168.1 1293.2 1168.1 1295.2 1168.1 1297.2 1167.4 1299.1 1167.4 1301.1 1167.4 1303.1 1167.4 1305.1 1166.6 1307 1166.6 1309 1166.6 1311 1165.8 1313 1165.8 1314.9 1165.8 1316.9 1165 1318.9 1165 1320.9 1165 1322.8 1165 1324.8 1164.1 1326.8 1164.1 1328.8 1164.1 1330.7 1163.2 1332.7 1163.2 1334.7 1163.2 1336.7 1163.2 1338.6 1162.3 1340.6 1162.3 1342.6 1162.3 1344.6 1161.4 1346.6 1161.4 1348.5 1161.4 1350.5 1161.4 1352.5 1160.4 1354.5 1160.4 1356.4 1160.4 1358.4 1159.6 1360.4 1159.6 1362.4 1159.6 1364.3 1158.8 1366.3 1158.8 1368.3 1158.8 1370.3 1158.8 1372.2 1158 1374.2 1158 1376.2 1157.8 1378.2 1157.7 1380.1 1157.3 1382.1 1154 1384.1 1145.4 1386.1 1148.1 1388 1157.3 1390 1158.7 1392 1158.8 1394 1158.8 L1394 1174.2Z" fill="#f5a988" fill-opacity="0.55" stroke="none"/>
<path d="M880.2 1158.8 882.2 1158.8 884.2 1158.7 886.2 1157.3 888.1 1148.1 890.1 1145.4 892.1 1154 894.1 1157.3 896 1157.7 898 1157.8 900 1158 902 1158 903.9 1158.8 905.9 1158.8 907.9 1158.8 909.9 1158.8 911.8 1159.6 913.8 1159.6 915.8 1159.6 917.8 1160.4 919.7 1160.4 921.7 1160.4 923.7 1161.4 925.7 1161.4 927.6 1161.4 929.6 1161.4 931.6 1162.3 933.6 1162.3 935.6 1162.3 937.5 1163.2 939.5 1163.2 941.5 1163.2 943.5 1163.2 945.4 1164.1 947.4 1164.1 949.4 1164.1 951.4 1165 953.3 1165 955.3 1165 957.3 1165 959.3 1165.8 961.2 1165.8 963.2 1165.8 965.2 1166.6 967.2 1166.6 969.1 1166.6 971.1 1167.4 973.1 1167.4 975.1 1167.4 977 1167.4 979 1168.1 981 1168.1 983 1168.1 985 1168.8 986.9 1168.8 988.9 1168.8 990.9 1168.8 992.9 1169.4 994.8 1169.4 996.8 1169.4 998.8 1170 1000.8 1170 1002.7 1170 1004.7 1170 1006.7 1170.5 1008.7 1170.5 1010.6 1170.5 1012.6 1170.9 1014.6 1170.9 1016.6 1170.9 1018.5 1171.4 1020.5 1171.4 1022.5 1171.4 1024.5 1171.4 1026.4 1171.7 1028.4 1171.7 1030.4 1171.7 1032.4 1172.1 1034.3 1172.1 1036.3 1172.1 1038.3 1172.1 1040.3 1172.4 1042.3 1172.4 1044.2 1172.4 1046.2 1172.6 1048.2 1172.6 1050.2 1172.6 1052.1 1172.6 1054.1 1172.8 1056.1 1172.8 1058.1 1172.8 1060 1173 1062 1173 1064 1173 1066 1173.2 1067.9 1173.2 1069.9 1173.2 1071.9 1173.2 1073.9 1173.4 1075.8 1173.4 1077.8 1173.4 1079.8 1173.5 1081.8 1173.5 1083.7 1173.5 1085.7 1173.5 1087.7 1173.6 1089.7 1173.6 1091.7 1173.6 1093.6 1173.7 1095.6 1173.7 1097.6 1173.7 1099.6 1173.7 1101.5 1173.8 1103.5 1173.8 1105.5 1173.8 1107.5 1173.9 1109.4 1173.9 1111.4 1173.9 1113.4 1173.9 1115.4 1173.9 1117.3 1173.9 1119.3 1173.9 1121.3 1174 1123.3 1174 1125.2 1174 1127.2 1174 1129.2 1174 1131.2 1174 1133.1 1174 1135.1 1174 1137.1 1174 1139.1 1174 1141.1 1174 1143 1174 1145 1174 1147 1174 1149 1174 1150.9 1174 1152.9 1174 1154.9 1173.9 1156.9 1173.9 1158.8 1173.9 1160.8 1173.9 1162.8 1173.9 1164.8 1173.9 1166.7 1173.9 1168.7 1173.8 1170.7 1173.8 1172.7 1173.8 1174.6 1173.7 1176.6 1173.7 1178.6 1173.7 1180.6 1173.7 1182.5 1173.6 1184.5 1173.6 1186.5 1173.6 1188.5 1173.5 1190.5 1173.5 1192.4 1173.5 1194.4 1173.5 1196.4 1173.4 1198.4 1173.4 1200.3 1173.4 1202.3 1173.2 1204.3 1173.2 1206.3 1173.2 1208.2 1173.2 1210.2 1173 1212.2 1173 1214.2 1173 1216.1 1172.8 1218.1 1172.8 1220.1 1172.8 1222.1 1172.6 1224 1172.6 1226 1172.6 1228 1172.6 1230 1172.4 1231.9 1172.4 1233.9 1172.4 1235.9 1172.1 1237.9 1172.1 1239.8 1172.1 1241.8 1172.1 1243.8 1171.7 1245.8 1171.7 1247.8 1171.7 1249.7 1171.4 1251.7 1171.4 1253.7 1171.4 1255.7 1171.4 1257.6 1170.9 1259.6 1170.9 1261.6 1170.9 1263.6 1170.5 1265.5 1170.5 1267.5 1170.5 1269.5 1170 1271.5 1170 1273.4 1170 1275.4 1170 1277.4 1169.4 1279.4 1169.4 1281.3 1169.4 1283.3 1168.8 1285.3 1168.8 1287.3 1168.8 1289.2 1168.8 1291.2 1168.1 1293.2 1168.1 1295.2 1168.1 1297.2 1167.4 1299.1 1167.4 1301.1 1167.4 1303.1 1167.4 1305.1 1166.6 1307 1166.6 1309 1166.6 1311 1165.8 1313 1165.8 1314.9 1165.8 1316.9 1165 1318.9 1165 1320.9 1165 1322.8 1165 1324.8 1164.1 1326.8 1164.1 1328.8 1164.1 1330.7 1163.2 1332.7 1163.2 1334.7 1163.2 1336.7 1163.2 1338.6 1162.3 1340.6 1162.3 1342.6 1162.3 1344.6 1161.4 1346.6 1161.4 1348.5 1161.4 1350.5 1161.4 1352.5 1160.4 1354.5 1160.4 1356.4 1160.4 1358.4 1159.6 1360.4 1159.6 1362.4 1159.6 1364.3 1158.8 1366.3 1158.8 1368.3 1158.8 1370.3 1158.8 1372.2 1158 1374.2 1158 1376.2 1157.8 1378.2 1157.7 1380.1 1157.3 1382.1 1154 1384.1 1145.4 1386.1 1148.1 1388 1157.3 1390 1158.7 1392 1158.8 1394 1158.8" stroke="#f5a988" stroke-width="2.9" fill="none" stroke-linejoin="round"/>
<path d="M880.2 1174.2H899.7" stroke="#000" stroke-width="3" fill="none"/>
<path d="M906.2 1174.2H1394" stroke="#000" stroke-width="3" stroke-dasharray="6.2 6.5" fill="none"/>
<path d="M880.2 1174.2V1039.9h15.5M1394 1174.2V1039.9h-15.5M880.2 1107.1h15.5M1394 1107.1h-15.5M880.2 1174.2h15.5M1394 1174.2h-15.5" stroke="#000" stroke-width="3" fill="none" stroke-linecap="butt"/>
<text x="872.3" y="1051.3" font-size="32.7" font-weight="bold" text-anchor="end">10</text>
<text x="872.3" y="1118.5" font-size="32.7" font-weight="bold" text-anchor="end">5</text>
<text x="872.3" y="1185.6" font-size="32.7" font-weight="bold" text-anchor="end">0</text>
<text x="901.5" y="1066" font-size="38" font-weight="bold">iv</text>
<path d="M880.2 1350.5 L880.2 1276.6 880.7 1289.7 881.2 1302.7 881.7 1310.9 882.2 1312.6 882.7 1314.2 883.2 1315.9 883.7 1317.5 884.2 1319.2 884.7 1320.9 885.2 1322.6 885.7 1324.2 886.2 1325.9 886.6 1327.6 887.1 1329.3 887.6 1331 888.1 1332.8 888.6 1334.5 889.1 1336.2 889.6 1338 890.1 1339.7 890.6 1341.5 891.1 1343.3 891.6 1345.1 892.1 1347 892.6 1348.9 893.1 1350.5 893.6 1347.3 894.1 1346.8 894.6 1341.7 895 1341.2 895.5 1340.7 896 1335.8 896.5 1335.3 897 1334.8 897.5 1330 898 1329.5 898.5 1329 899 1324.3 899.5 1323.8 900 1323.3 900.5 1318.7 901 1318.2 901.5 1317.7 902 1313.1 902.5 1312.6 902.9 1312.1 903.4 1298.7 903.9 1286.5 904.4 1274.4 904.9 1284.5 905.4 1296.8 905.9 1309 906.4 1321.3 906.9 1333.6 907.4 1345.9 907.9 1350.5 908.4 1350.5 908.9 1350.5 909.4 1350.5 909.9 1350.5 910.4 1350.5 910.9 1350.5 911.3 1350.5 911.8 1350.5 912.3 1350.5 912.8 1350.5 913.3 1350.5 913.8 1350.5 914.3 1349 914.8 1337.7 915.3 1326.3 915.8 1315 916.3 1303.7 916.8 1292.4 917.3 1281 917.8 1269.7 918.3 1273.7 918.8 1285.5 919.3 1297.2 919.7 1310.2 920.2 1310.6 920.7 1311.1 921.2 1311.5 921.7 1316.3 922.2 1316.7 922.7 1317.1 923.2 1321.9 923.7 1322.4 924.2 1322.8 924.7 1323.2 925.2 1328.1 925.7 1328.5 926.2 1329 926.7 1333.9 927.2 1334.4 927.6 1334.8 928.1 1335.2 928.6 1340.3 929.1 1340.7 929.6 1341.2 930.1 1346.4 930.6 1346.9 931.1 1350.5 931.6 1350.5 932.1 1350.5 932.6 1346.9 933.1 1346.4 933.6 1341.2 934.1 1340.7 934.6 1340.3 935.1 1335.2 935.6 1334.8 936 1334.4 936.5 1333.9 937 1329 937.5 1328.5 938 1328.1 938.5 1323.2 939 1322.8 939.5 1322.4 940 1321.9 940.5 1317.1 941 1316.7 941.5 1316.3 942 1311.5 942.5 1311.1 943 1310.6 943.5 1310.2 943.9 1296.5 944.4 1284 944.9 1271.5 945.4 1267.1 945.9 1278.8 946.4 1290.5 946.9 1302.2 947.4 1313.9 947.9 1325.6 948.4 1337.3 948.9 1348.9 949.4 1350.5 949.9 1350.5 950.4 1350.5 950.9 1350.5 951.4 1350.5 951.9 1350.5 952.3 1350.5 952.8 1350.5 953.3 1350.5 953.8 1350.5 954.3 1350.5 954.8 1350.5 955.3 1350.5 955.8 1339.8 956.3 1328.3 956.8 1316.7 957.3 1305.2 957.8 1293.7 958.3 1282.2 958.8 1270.7 959.3 1270.2 959.8 1282.3 960.3 1294.5 960.7 1306.6 961.2 1310.6 961.7 1311 962.2 1311.4 962.7 1316.2 963.2 1316.6 963.7 1317 964.2 1321.8 964.7 1322.3 965.2 1322.7 965.7 1323.1 966.2 1328 966.7 1328.4 967.2 1328.9 967.7 1333.8 968.2 1334.3 968.6 1334.7 969.1 1335.1 969.6 1340.2 970.1 1340.6 970.6 1341.1 971.1 1346.3 971.6 1346.8 972.1 1347.3 972.6 1350.5 973.1 1350.5 973.6 1347 974.1 1346.5 974.6 1341.3 975.1 1340.8 975.6 1340.4 976.1 1339.9 976.6 1334.9 977 1334.4 977.5 1334 978 1329 978.5 1328.6 979 1328.2 979.5 1327.7 980 1322.9 980.5 1322.4 981 1322 981.5 1317.2 982 1316.8 982.5 1316.3 983 1311.6 983.5 1311.1 984 1310.7 984.5 1310.3 985 1298.5 985.4 1285.4 985.9 1272.2 986.4 1262.4 986.9 1274.4 987.4 1286.4 987.9 1298.5 988.4 1310.5 988.9 1322.5 989.4 1334.5 989.9 1346.5 990.4 1350.5 990.9 1350.5 991.4 1350.5 991.9 1350.5 992.4 1350.5 992.9 1350.5 993.3 1350.5 993.8 1350.5 994.3 1350.5 994.8 1350.5 995.3 1350.5 995.8 1350.5 996.3 1350.5 996.8 1341.8 997.3 1329.9 997.8 1318.1 998.3 1306.2 998.8 1294.3 999.3 1282.5 999.8 1270.6 1000.3 1265.3 1000.8 1278.1 1001.3 1291 1001.7 1303.9 1002.2 1310.5 1002.7 1310.9 1003.2 1311.3 1003.7 1316.1 1004.2 1316.5 1004.7 1316.9 1005.2 1317.4 1005.7 1322.2 1006.2 1322.6 1006.7 1323 1007.2 1327.9 1007.7 1328.4 1008.2 1328.8 1008.7 1329.2 1009.2 1334.2 1009.7 1334.6 1010.1 1335.1 1010.6 1340.1 1011.1 1340.6 1011.6 1341 1012.1 1346.2 1012.6 1346.7 1013.1 1347.2 1013.6 1350.5 1014.1 1350.5 1014.6 1347.1 1015.1 1346.6 1015.6 1341.4 1016.1 1340.9 1016.6 1340.5 1017.1 1340 1017.6 1335 1018 1334.5 1018.5 1334.1 1019 1329.1 1019.5 1328.7 1020 1328.3 1020.5 1327.8 1021 1323 1021.5 1322.5 1022 1322.1 1022.5 1317.3 1023 1316.9 1023.5 1316.4 1024 1316 1024.5 1311.2 1025 1310.8 1025.5 1310.4 1026 1301.9 1026.4 1290.2 1026.9 1278.4 1027.4 1266.6 1027.9 1276.5 1028.4 1287.8 1028.9 1299.1 1029.4 1310.5 1029.9 1321.8 1030.4 1333.1 1030.9 1344.5 1031.4 1350.5 1031.9 1350.5 1032.4 1350.5 1032.9 1350.5 1033.4 1350.5 1033.9 1350.5 1034.3 1350.5 1034.8 1350.5 1035.3 1350.5 1035.8 1350.5 1036.3 1350.5 1036.8 1350.5 1037.3 1350.5 1037.8 1344.2 1038.3 1332.4 1038.8 1320.6 1039.3 1308.8 1039.8 1297 1040.3 1285.2 1040.8 1273.4 1041.3 1263.2 1041.8 1275.9 1042.3 1288.7 1042.7 1301.4 1043.2 1310.4 1043.7 1310.8 1044.2 1311.2 1044.7 1316 1045.2 1316.4 1045.7 1316.9 1046.2 1317.3 1046.7 1322.1 1047.2 1322.5 1047.7 1323 1048.2 1327.8 1048.7 1328.3 1049.2 1328.7 1049.7 1329.1 1050.2 1334.1 1050.7 1334.5 1051.1 1335 1051.6 1340 1052.1 1340.5 1052.6 1340.9 1053.1 1341.4 1053.6 1346.6 1054.1 1347.1 1054.6 1350.5 1055.1 1350.5 1055.6 1347.2 1056.1 1346.7 1056.6 1346.2 1057.1 1341 1057.6 1340.6 1058.1 1340.1 1058.6 1335.1 1059 1334.6 1059.5 1334.2 1060 1329.2 1060.5 1328.8 1061 1328.4 1061.5 1327.9 1062 1323 1062.5 1322.6 1063 1322.2 1063.5 1317.4 1064 1316.9 1064.5 1316.5 1065 1316.1 1065.5 1311.3 1066 1310.9 1066.5 1310.5 1067 1304.3 1067.4 1292.5 1067.9 1280.8 1068.4 1269 1068.9 1274.2 1069.4 1285.6 1069.9 1296.9 1070.4 1308.2 1070.9 1319.5 1071.4 1330.9 1071.9 1342.2 1072.4 1350.5 1072.9 1350.5 1073.4 1350.5 1073.9 1350.5 1074.4 1350.5 1074.9 1350.5 1075.4 1350.5 1075.8 1350.5 1076.3 1350.5 1076.8 1350.5 1077.3 1350.5 1077.8 1350.5 1078.3 1350.5 1078.8 1346.7 1079.3 1335.3 1079.8 1323.9 1080.3 1312.5 1080.8 1301.1 1081.3 1289.7 1081.8 1278.3 1082.3 1266.9 1082.8 1275.6 1083.3 1287.6 1083.7 1299.5 1084.2 1310.3 1084.7 1310.7 1085.2 1311.1 1085.7 1311.6 1086.2 1316.3 1086.7 1316.8 1087.2 1317.2 1087.7 1322 1088.2 1322.4 1088.7 1322.9 1089.2 1327.7 1089.7 1328.2 1090.2 1328.6 1090.7 1329 1091.2 1334 1091.7 1334.4 1092.1 1334.9 1092.6 1339.9 1093.1 1340.4 1093.6 1340.8 1094.1 1341.3 1094.6 1346.5 1095.1 1347 1095.6 1350.5 1096.1 1350.5 1096.6 1347.3 1097.1 1346.8 1097.6 1346.3 1098.1 1341.1 1098.6 1340.6 1099.1 1340.2 1099.6 1335.1 1100.1 1334.7 1100.5 1334.3 1101 1333.8 1101.5 1328.9 1102 1328.4 1102.5 1328 1103 1323.1 1103.5 1322.7 1104 1322.3 1104.5 1321.8 1105 1317 1105.5 1316.6 1106 1316.2 1106.5 1311.4 1107 1311 1107.5 1310.6 1108 1306.7 1108.4 1295.3 1108.9 1283.9 1109.4 1272.5 1109.9 1273.2 1110.4 1284.4 1110.9 1295.5 1111.4 1306.7 1111.9 1317.8 1112.4 1328.9 1112.9 1340.1 1113.4 1350.5 1113.9 1350.5 1114.4 1350.5 1114.9 1350.5 1115.4 1350.5 1115.9 1350.5 1116.4 1350.5 1116.8 1350.5 1117.3 1350.5 1117.8 1350.5 1118.3 1350.5 1118.8 1350.5 1119.3 1350.5 1119.8 1349 1120.3 1338.1 1120.8 1327.1 1121.3 1316.1 1121.8 1305.2 1122.3 1294.2 1122.8 1283.2 1123.3 1272.3 1123.8 1275.9 1124.3 1286.9 1124.8 1297.9 1125.2 1310.2 1125.7 1310.6 1126.2 1311.1 1126.7 1311.5 1127.2 1316.3 1127.7 1316.7 1128.2 1317.1 1128.7 1321.9 1129.2 1322.4 1129.7 1322.8 1130.2 1323.2 1130.7 1328.1 1131.2 1328.5 1131.7 1329 1132.2 1333.9 1132.7 1334.4 1133.1 1334.8 1133.6 1335.2 1134.1 1340.3 1134.6 1340.7 1135.1 1341.2 1135.6 1346.4 1136.1 1346.9 1136.6 1350.5 1137.1 1350.5 1137.6 1350.5 1138.1 1346.9 1138.6 1346.4 1139.1 1341.2 1139.6 1340.7 1140.1 1340.3 1140.6 1335.2 1141.1 1334.8 1141.5 1334.4 1142 1333.9 1142.5 1329 1143 1328.5 1143.5 1328.1 1144 1323.2 1144.5 1322.8 1145 1322.4 1145.5 1321.9 1146 1317.1 1146.5 1316.7 1147 1316.3 1147.5 1311.5 1148 1311.1 1148.5 1310.6 1149 1310.2 1149.4 1297.9 1149.9 1286.9 1150.4 1275.9 1150.9 1272.3 1151.4 1283.2 1151.9 1294.2 1152.4 1305.2 1152.9 1316.1 1153.4 1327.1 1153.9 1338.1 1154.4 1349 1154.9 1350.5 1155.4 1350.5 1155.9 1350.5 1156.4 1350.5 1156.9 1350.5 1157.4 1350.5 1157.8 1350.5 1158.3 1350.5 1158.8 1350.5 1159.3 1350.5 1159.8 1350.5 1160.3 1350.5 1160.8 1350.5 1161.3 1340.1 1161.8 1328.9 1162.3 1317.8 1162.8 1306.7 1163.3 1295.5 1163.8 1284.4 1164.3 1273.2 1164.8 1272.5 1165.3 1283.9 1165.8 1295.3 1166.2 1306.7 1166.7 1310.6 1167.2 1311 1167.7 1311.4 1168.2 1316.2 1168.7 1316.6 1169.2 1317 1169.7 1321.8 1170.2 1322.3 1170.7 1322.7 1171.2 1323.1 1171.7 1328 1172.2 1328.4 1172.7 1328.9 1173.2 1333.8 1173.7 1334.3 1174.1 1334.7 1174.6 1335.1 1175.1 1340.2 1175.6 1340.6 1176.1 1341.1 1176.6 1346.3 1177.1 1346.8 1177.6 1347.3 1178.1 1350.5 1178.6 1350.5 1179.1 1347 1179.6 1346.5 1180.1 1341.3 1180.6 1340.8 1181.1 1340.4 1181.6 1339.9 1182.1 1334.9 1182.5 1334.4 1183 1334 1183.5 1329 1184 1328.6 1184.5 1328.2 1185 1327.7 1185.5 1322.9 1186 1322.4 1186.5 1322 1187 1317.2 1187.5 1316.8 1188 1316.3 1188.5 1311.6 1189 1311.1 1189.5 1310.7 1190 1310.3 1190.5 1299.5 1190.9 1287.6 1191.4 1275.6 1191.9 1266.9 1192.4 1278.3 1192.9 1289.7 1193.4 1301.1 1193.9 1312.5 1194.4 1323.9 1194.9 1335.3 1195.4 1346.7 1195.9 1350.5 1196.4 1350.5 1196.9 1350.5 1197.4 1350.5 1197.9 1350.5 1198.4 1350.5 1198.8 1350.5 1199.3 1350.5 1199.8 1350.5 1200.3 1350.5 1200.8 1350.5 1201.3 1350.5 1201.8 1350.5 1202.3 1342.2 1202.8 1330.9 1203.3 1319.5 1203.8 1308.2 1204.3 1296.9 1204.8 1285.6 1205.3 1274.2 1205.8 1269 1206.3 1280.8 1206.8 1292.5 1207.2 1304.3 1207.7 1310.5 1208.2 1310.9 1208.7 1311.3 1209.2 1316.1 1209.7 1316.5 1210.2 1316.9 1210.7 1317.4 1211.2 1322.2 1211.7 1322.6 1212.2 1323 1212.7 1327.9 1213.2 1328.4 1213.7 1328.8 1214.2 1329.2 1214.7 1334.2 1215.2 1334.6 1215.6 1335.1 1216.1 1340.1 1216.6 1340.6 1217.1 1341 1217.6 1346.2 1218.1 1346.7 1218.6 1347.2 1219.1 1350.5 1219.6 1350.5 1220.1 1347.1 1220.6 1346.6 1221.1 1341.4 1221.6 1340.9 1222.1 1340.5 1222.6 1340 1223.1 1335 1223.5 1334.5 1224 1334.1 1224.5 1329.1 1225 1328.7 1225.5 1328.3 1226 1327.8 1226.5 1323 1227 1322.5 1227.5 1322.1 1228 1317.3 1228.5 1316.9 1229 1316.4 1229.5 1316 1230 1311.2 1230.5 1310.8 1231 1310.4 1231.5 1301.4 1231.9 1288.7 1232.4 1275.9 1232.9 1263.2 1233.4 1273.4 1233.9 1285.2 1234.4 1297 1234.9 1308.8 1235.4 1320.6 1235.9 1332.4 1236.4 1344.2 1236.9 1350.5 1237.4 1350.5 1237.9 1350.5 1238.4 1350.5 1238.9 1350.5 1239.4 1350.5 1239.8 1350.5 1240.3 1350.5 1240.8 1350.5 1241.3 1350.5 1241.8 1350.5 1242.3 1350.5 1242.8 1350.5 1243.3 1344.5 1243.8 1333.1 1244.3 1321.8 1244.8 1310.5 1245.3 1299.1 1245.8 1287.8 1246.3 1276.5 1246.8 1266.6 1247.3 1278.4 1247.8 1290.2 1248.2 1301.9 1248.7 1310.4 1249.2 1310.8 1249.7 1311.2 1250.2 1316 1250.7 1316.4 1251.2 1316.9 1251.7 1317.3 1252.2 1322.1 1252.7 1322.5 1253.2 1323 1253.7 1327.8 1254.2 1328.3 1254.7 1328.7 1255.2 1329.1 1255.7 1334.1 1256.2 1334.5 1256.6 1335 1257.1 1340 1257.6 1340.5 1258.1 1340.9 1258.6 1341.4 1259.1 1346.6 1259.6 1347.1 1260.1 1350.5 1260.6 1350.5 1261.1 1347.2 1261.6 1346.7 1262.1 1346.2 1262.6 1341 1263.1 1340.6 1263.6 1340.1 1264.1 1335.1 1264.5 1334.6 1265 1334.2 1265.5 1329.2 1266 1328.8 1266.5 1328.4 1267 1327.9 1267.5 1323 1268 1322.6 1268.5 1322.2 1269 1317.4 1269.5 1316.9 1270 1316.5 1270.5 1316.1 1271 1311.3 1271.5 1310.9 1272 1310.5 1272.5 1303.9 1272.9 1291 1273.4 1278.1 1273.9 1265.3 1274.4 1270.6 1274.9 1282.5 1275.4 1294.3 1275.9 1306.2 1276.4 1318.1 1276.9 1329.9 1277.4 1341.8 1277.9 1350.5 1278.4 1350.5 1278.9 1350.5 1279.4 1350.5 1279.9 1350.5 1280.4 1350.5 1280.9 1350.5 1281.3 1350.5 1281.8 1350.5 1282.3 1350.5 1282.8 1350.5 1283.3 1350.5 1283.8 1350.5 1284.3 1346.5 1284.8 1334.5 1285.3 1322.5 1285.8 1310.5 1286.3 1298.5 1286.8 1286.4 1287.3 1274.4 1287.8 1262.4 1288.3 1272.2 1288.8 1285.4 1289.2 1298.5 1289.7 1310.3 1290.2 1310.7 1290.7 1311.1 1291.2 1311.6 1291.7 1316.3 1292.2 1316.8 1292.7 1317.2 1293.2 1322 1293.7 1322.4 1294.2 1322.9 1294.7 1327.7 1295.2 1328.2 1295.7 1328.6 1296.2 1329 1296.7 1334 1297.2 1334.4 1297.6 1334.9 1298.1 1339.9 1298.6 1340.4 1299.1 1340.8 1299.6 1341.3 1300.1 1346.5 1300.6 1347 1301.1 1350.5 1301.6 1350.5 1302.1 1347.3 1302.6 1346.8 1303.1 1346.3 1303.6 1341.1 1304.1 1340.6 1304.6 1340.2 1305.1 1335.1 1305.6 1334.7 1306 1334.3 1306.5 1333.8 1307 1328.9 1307.5 1328.4 1308 1328 1308.5 1323.1 1309 1322.7 1309.5 1322.3 1310 1321.8 1310.5 1317 1311 1316.6 1311.5 1316.2 1312 1311.4 1312.5 1311 1313 1310.6 1313.5 1306.6 1313.9 1294.5 1314.4 1282.3 1314.9 1270.2 1315.4 1270.7 1315.9 1282.2 1316.4 1293.7 1316.9 1305.2 1317.4 1316.7 1317.9 1328.3 1318.4 1339.8 1318.9 1350.5 1319.4 1350.5 1319.9 1350.5 1320.4 1350.5 1320.9 1350.5 1321.4 1350.5 1321.9 1350.5 1322.3 1350.5 1322.8 1350.5 1323.3 1350.5 1323.8 1350.5 1324.3 1350.5 1324.8 1350.5 1325.3 1348.9 1325.8 1337.3 1326.3 1325.6 1326.8 1313.9 1327.3 1302.2 1327.8 1290.5 1328.3 1278.8 1328.8 1267.1 1329.3 1271.5 1329.8 1284 1330.3 1296.5 1330.7 1310.2 1331.2 1310.6 1331.7 1311.1 1332.2 1311.5 1332.7 1316.3 1333.2 1316.7 1333.7 1317.1 1334.2 1321.9 1334.7 1322.4 1335.2 1322.8 1335.7 1323.2 1336.2 1328.1 1336.7 1328.5 1337.2 1329 1337.7 1333.9 1338.2 1334.4 1338.6 1334.8 1339.1 1335.2 1339.6 1340.3 1340.1 1340.7 1340.6 1341.2 1341.1 1346.4 1341.6 1346.9 1342.1 1350.5 1342.6 1350.5 1343.1 1350.5 1343.6 1346.9 1344.1 1346.4 1344.6 1341.2 1345.1 1340.7 1345.6 1340.3 1346.1 1335.2 1346.6 1334.8 1347 1334.4 1347.5 1333.9 1348 1329 1348.5 1328.5 1349 1328.1 1349.5 1323.2 1350 1322.8 1350.5 1322.4 1351 1321.9 1351.5 1317.1 1352 1316.7 1352.5 1316.3 1353 1311.5 1353.5 1311.1 1354 1310.6 1354.5 1310.2 1354.9 1297.2 1355.4 1285.5 1355.9 1273.7 1356.4 1269.7 1356.9 1281 1357.4 1292.4 1357.9 1303.7 1358.4 1315 1358.9 1326.3 1359.4 1337.7 1359.9 1349 1360.4 1350.5 1360.9 1350.5 1361.4 1350.5 1361.9 1350.5 1362.4 1350.5 1362.9 1350.5 1363.3 1350.5 1363.8 1350.5 1364.3 1350.5 1364.8 1350.5 1365.3 1350.5 1365.8 1350.5 1366.3 1350.5 1366.8 1345.9 1367.3 1333.6 1367.8 1321.3 1368.3 1309 1368.8 1296.8 1369.3 1284.5 1369.8 1274.4 1370.3 1286.5 1370.8 1298.7 1371.3 1312.1 1371.7 1312.6 1372.2 1313.1 1372.7 1317.7 1373.2 1318.2 1373.7 1318.7 1374.2 1323.3 1374.7 1323.8 1375.2 1324.3 1375.7 1329 1376.2 1329.5 1376.7 1330 1377.2 1334.8 1377.7 1335.3 1378.2 1335.8 1378.7 1340.7 1379.2 1341.2 1379.6 1341.7 1380.1 1346.8 1380.6 1347.3 1381.1 1350.5 1381.6 1348.9 1382.1 1347 1382.6 1345.1 1383.1 1343.3 1383.6 1341.5 1384.1 1339.7 1384.6 1338 1385.1 1336.2 1385.6 1334.5 1386.1 1332.8 1386.6 1331 1387.1 1329.3 1387.6 1327.6 1388 1325.9 1388.5 1324.2 1389 1322.6 1389.5 1320.9 1390 1319.2 1390.5 1317.5 1391 1315.9 1391.5 1314.2 1392 1312.6 1392.5 1310.9 1393 1302.7 1393.5 1289.7 1394 1276.6 L1394 1350.5Z" fill="#ee1111" fill-opacity="0.5" stroke="none"/>
<path d="M880.2 1276.6 880.7 1289.7 881.2 1302.7 881.7 1310.9 882.2 1312.6 882.7 1314.2 883.2 1315.9 883.7 1317.5 884.2 1319.2 884.7 1320.9 885.2 1322.6 885.7 1324.2 886.2 1325.9 886.6 1327.6 887.1 1329.3 887.6 1331 888.1 1332.8 888.6 1334.5 889.1 1336.2 889.6 1338 890.1 1339.7 890.6 1341.5 891.1 1343.3 891.6 1345.1 892.1 1347 892.6 1348.9 893.1 1350.5 893.6 1347.3 894.1 1346.8 894.6 1341.7 895 1341.2 895.5 1340.7 896 1335.8 896.5 1335.3 897 1334.8 897.5 1330 898 1329.5 898.5 1329 899 1324.3 899.5 1323.8 900 1323.3 900.5 1318.7 901 1318.2 901.5 1317.7 902 1313.1 902.5 1312.6 902.9 1312.1 903.4 1298.7 903.9 1286.5 904.4 1274.4 904.9 1284.5 905.4 1296.8 905.9 1309 906.4 1321.3 906.9 1333.6 907.4 1345.9 907.9 1350.5 908.4 1350.5 908.9 1350.5 909.4 1350.5 909.9 1350.5 910.4 1350.5 910.9 1350.5 911.3 1350.5 911.8 1350.5 912.3 1350.5 912.8 1350.5 913.3 1350.5 913.8 1350.5 914.3 1349 914.8 1337.7 915.3 1326.3 915.8 1315 916.3 1303.7 916.8 1292.4 917.3 1281 917.8 1269.7 918.3 1273.7 918.8 1285.5 919.3 1297.2 919.7 1310.2 920.2 1310.6 920.7 1311.1 921.2 1311.5 921.7 1316.3 922.2 1316.7 922.7 1317.1 923.2 1321.9 923.7 1322.4 924.2 1322.8 924.7 1323.2 925.2 1328.1 925.7 1328.5 926.2 1329 926.7 1333.9 927.2 1334.4 927.6 1334.8 928.1 1335.2 928.6 1340.3 929.1 1340.7 929.6 1341.2 930.1 1346.4 930.6 1346.9 931.1 1350.5 931.6 1350.5 932.1 1350.5 932.6 1346.9 933.1 1346.4 933.6 1341.2 934.1 1340.7 934.6 1340.3 935.1 1335.2 935.6 1334.8 936 1334.4 936.5 1333.9 937 1329 937.5 1328.5 938 1328.1 938.5 1323.2 939 1322.8 939.5 1322.4 940 1321.9 940.5 1317.1 941 1316.7 941.5 1316.3 942 1311.5 942.5 1311.1 943 1310.6 943.5 1310.2 943.9 1296.5 944.4 1284 944.9 1271.5 945.4 1267.1 945.9 1278.8 946.4 1290.5 946.9 1302.2 947.4 1313.9 947.9 1325.6 948.4 1337.3 948.9 1348.9 949.4 1350.5 949.9 1350.5 950.4 1350.5 950.9 1350.5 951.4 1350.5 951.9 1350.5 952.3 1350.5 952.8 1350.5 953.3 1350.5 953.8 1350.5 954.3 1350.5 954.8 1350.5 955.3 1350.5 955.8 1339.8 956.3 1328.3 956.8 1316.7 957.3 1305.2 957.8 1293.7 958.3 1282.2 958.8 1270.7 959.3 1270.2 959.8 1282.3 960.3 1294.5 960.7 1306.6 961.2 1310.6 961.7 1311 962.2 1311.4 962.7 1316.2 963.2 1316.6 963.7 1317 964.2 1321.8 964.7 1322.3 965.2 1322.7 965.7 1323.1 966.2 1328 966.7 1328.4 967.2 1328.9 967.7 1333.8 968.2 1334.3 968.6 1334.7 969.1 1335.1 969.6 1340.2 970.1 1340.6 970.6 1341.1 971.1 1346.3 971.6 1346.8 972.1 1347.3 972.6 1350.5 973.1 1350.5 973.6 1347 974.1 1346.5 974.6 1341.3 975.1 1340.8 975.6 1340.4 976.1 1339.9 976.6 1334.9 977 1334.4 977.5 1334 978 1329 978.5 1328.6 979 1328.2 979.5 1327.7 980 1322.9 980.5 1322.4 981 1322 981.5 1317.2 982 1316.8 982.5 1316.3 983 1311.6 983.5 1311.1 984 1310.7 984.5 1310.3 985 1298.5 985.4 1285.4 985.9 1272.2 986.4 1262.4 986.9 1274.4 987.4 1286.4 987.9 1298.5 988.4 1310.5 988.9 1322.5 989.4 1334.5 989.9 1346.5 990.4 1350.5 990.9 1350.5 991.4 1350.5 991.9 1350.5 992.4 1350.5 992.9 1350.5 993.3 1350.5 993.8 1350.5 994.3 1350.5 994.8 1350.5 995.3 1350.5 995.8 1350.5 996.3 1350.5 996.8 1341.8 997.3 1329.9 997.8 1318.1 998.3 1306.2 998.8 1294.3 999.3 1282.5 999.8 1270.6 1000.3 1265.3 1000.8 1278.1 1001.3 1291 1001.7 1303.9 1002.2 1310.5 1002.7 1310.9 1003.2 1311.3 1003.7 1316.1 1004.2 1316.5 1004.7 1316.9 1005.2 1317.4 1005.7 1322.2 1006.2 1322.6 1006.7 1323 1007.2 1327.9 1007.7 1328.4 1008.2 1328.8 1008.7 1329.2 1009.2 1334.2 1009.7 1334.6 1010.1 1335.1 1010.6 1340.1 1011.1 1340.6 1011.6 1341 1012.1 1346.2 1012.6 1346.7 1013.1 1347.2 1013.6 1350.5 1014.1 1350.5 1014.6 1347.1 1015.1 1346.6 1015.6 1341.4 1016.1 1340.9 1016.6 1340.5 1017.1 1340 1017.6 1335 1018 1334.5 1018.5 1334.1 1019 1329.1 1019.5 1328.7 1020 1328.3 1020.5 1327.8 1021 1323 1021.5 1322.5 1022 1322.1 1022.5 1317.3 1023 1316.9 1023.5 1316.4 1024 1316 1024.5 1311.2 1025 1310.8 1025.5 1310.4 1026 1301.9 1026.4 1290.2 1026.9 1278.4 1027.4 1266.6 1027.9 1276.5 1028.4 1287.8 1028.9 1299.1 1029.4 1310.5 1029.9 1321.8 1030.4 1333.1 1030.9 1344.5 1031.4 1350.5 1031.9 1350.5 1032.4 1350.5 1032.9 1350.5 1033.4 1350.5 1033.9 1350.5 1034.3 1350.5 1034.8 1350.5 1035.3 1350.5 1035.8 1350.5 1036.3 1350.5 1036.8 1350.5 1037.3 1350.5 1037.8 1344.2 1038.3 1332.4 1038.8 1320.6 1039.3 1308.8 1039.8 1297 1040.3 1285.2 1040.8 1273.4 1041.3 1263.2 1041.8 1275.9 1042.3 1288.7 1042.7 1301.4 1043.2 1310.4 1043.7 1310.8 1044.2 1311.2 1044.7 1316 1045.2 1316.4 1045.7 1316.9 1046.2 1317.3 1046.7 1322.1 1047.2 1322.5 1047.7 1323 1048.2 1327.8 1048.7 1328.3 1049.2 1328.7 1049.7 1329.1 1050.2 1334.1 1050.7 1334.5 1051.1 1335 1051.6 1340 1052.1 1340.5 1052.6 1340.9 1053.1 1341.4 1053.6 1346.6 1054.1 1347.1 1054.6 1350.5 1055.1 1350.5 1055.6 1347.2 1056.1 1346.7 1056.6 1346.2 1057.1 1341 1057.6 1340.6 1058.1 1340.1 1058.6 1335.1 1059 1334.6 1059.5 1334.2 1060 1329.2 1060.5 1328.8 1061 1328.4 1061.5 1327.9 1062 1323 1062.5 1322.6 1063 1322.2 1063.5 1317.4 1064 1316.9 1064.5 1316.5 1065 1316.1 1065.5 1311.3 1066 1310.9 1066.5 1310.5 1067 1304.3 1067.4 1292.5 1067.9 1280.8 1068.4 1269 1068.9 1274.2 1069.4 1285.6 1069.9 1296.9 1070.4 1308.2 1070.9 1319.5 1071.4 1330.9 1071.9 1342.2 1072.4 1350.5 1072.9 1350.5 1073.4 1350.5 1073.9 1350.5 1074.4 1350.5 1074.9 1350.5 1075.4 1350.5 1075.8 1350.5 1076.3 1350.5 1076.8 1350.5 1077.3 1350.5 1077.8 1350.5 1078.3 1350.5 1078.8 1346.7 1079.3 1335.3 1079.8 1323.9 1080.3 1312.5 1080.8 1301.1 1081.3 1289.7 1081.8 1278.3 1082.3 1266.9 1082.8 1275.6 1083.3 1287.6 1083.7 1299.5 1084.2 1310.3 1084.7 1310.7 1085.2 1311.1 1085.7 1311.6 1086.2 1316.3 1086.7 1316.8 1087.2 1317.2 1087.7 1322 1088.2 1322.4 1088.7 1322.9 1089.2 1327.7 1089.7 1328.2 1090.2 1328.6 1090.7 1329 1091.2 1334 1091.7 1334.4 1092.1 1334.9 1092.6 1339.9 1093.1 1340.4 1093.6 1340.8 1094.1 1341.3 1094.6 1346.5 1095.1 1347 1095.6 1350.5 1096.1 1350.5 1096.6 1347.3 1097.1 1346.8 1097.6 1346.3 1098.1 1341.1 1098.6 1340.6 1099.1 1340.2 1099.6 1335.1 1100.1 1334.7 1100.5 1334.3 1101 1333.8 1101.5 1328.9 1102 1328.4 1102.5 1328 1103 1323.1 1103.5 1322.7 1104 1322.3 1104.5 1321.8 1105 1317 1105.5 1316.6 1106 1316.2 1106.5 1311.4 1107 1311 1107.5 1310.6 1108 1306.7 1108.4 1295.3 1108.9 1283.9 1109.4 1272.5 1109.9 1273.2 1110.4 1284.4 1110.9 1295.5 1111.4 1306.7 1111.9 1317.8 1112.4 1328.9 1112.9 1340.1 1113.4 1350.5 1113.9 1350.5 1114.4 1350.5 1114.9 1350.5 1115.4 1350.5 1115.9 1350.5 1116.4 1350.5 1116.8 1350.5 1117.3 1350.5 1117.8 1350.5 1118.3 1350.5 1118.8 1350.5 1119.3 1350.5 1119.8 1349 1120.3 1338.1 1120.8 1327.1 1121.3 1316.1 1121.8 1305.2 1122.3 1294.2 1122.8 1283.2 1123.3 1272.3 1123.8 1275.9 1124.3 1286.9 1124.8 1297.9 1125.2 1310.2 1125.7 1310.6 1126.2 1311.1 1126.7 1311.5 1127.2 1316.3 1127.7 1316.7 1128.2 1317.1 1128.7 1321.9 1129.2 1322.4 1129.7 1322.8 1130.2 1323.2 1130.7 1328.1 1131.2 1328.5 1131.7 1329 1132.2 1333.9 1132.7 1334.4 1133.1 1334.8 1133.6 1335.2 1134.1 1340.3 1134.6 1340.7 1135.1 1341.2 1135.6 1346.4 1136.1 1346.9 1136.6 1350.5 1137.1 1350.5 1137.6 1350.5 1138.1 1346.9 1138.6 1346.4 1139.1 1341.2 1139.6 1340.7 1140.1 1340.3 1140.6 1335.2 1141.1 1334.8 1141.5 1334.4 1142 1333.9 1142.5 1329 1143 1328.5 1143.5 1328.1 1144 1323.2 1144.5 1322.8 1145 1322.4 1145.5 1321.9 1146 1317.1 1146.5 1316.7 1147 1316.3 1147.5 1311.5 1148 1311.1 1148.5 1310.6 1149 1310.2 1149.4 1297.9 1149.9 1286.9 1150.4 1275.9 1150.9 1272.3 1151.4 1283.2 1151.9 1294.2 1152.4 1305.2 1152.9 1316.1 1153.4 1327.1 1153.9 1338.1 1154.4 1349 1154.9 1350.5 1155.4 1350.5 1155.9 1350.5 1156.4 1350.5 1156.9 1350.5 1157.4 1350.5 1157.8 1350.5 1158.3 1350.5 1158.8 1350.5 1159.3 1350.5 1159.8 1350.5 1160.3 1350.5 1160.8 1350.5 1161.3 1340.1 1161.8 1328.9 1162.3 1317.8 1162.8 1306.7 1163.3 1295.5 1163.8 1284.4 1164.3 1273.2 1164.8 1272.5 1165.3 1283.9 1165.8 1295.3 1166.2 1306.7 1166.7 1310.6 1167.2 1311 1167.7 1311.4 1168.2 1316.2 1168.7 1316.6 1169.2 1317 1169.7 1321.8 1170.2 1322.3 1170.7 1322.7 1171.2 1323.1 1171.7 1328 1172.2 1328.4 1172.7 1328.9 1173.2 1333.8 1173.7 1334.3 1174.1 1334.7 1174.6 1335.1 1175.1 1340.2 1175.6 1340.6 1176.1 1341.1 1176.6 1346.3 1177.1 1346.8 1177.6 1347.3 1178.1 1350.5 1178.6 1350.5 1179.1 1347 1179.6 1346.5 1180.1 1341.3 1180.6 1340.8 1181.1 1340.4 1181.6 1339.9 1182.1 1334.9 1182.5 1334.4 1183 1334 1183.5 1329 1184 1328.6 1184.5 1328.2 1185 1327.7 1185.5 1322.9 1186 1322.4 1186.5 1322 1187 1317.2 1187.5 1316.8 1188 1316.3 1188.5 1311.6 1189 1311.1 1189.5 1310.7 1190 1310.3 1190.5 1299.5 1190.9 1287.6 1191.4 1275.6 1191.9 1266.9 1192.4 1278.3 1192.9 1289.7 1193.4 1301.1 1193.9 1312.5 1194.4 1323.9 1194.9 1335.3 1195.4 1346.7 1195.9 1350.5 1196.4 1350.5 1196.9 1350.5 1197.4 1350.5 1197.9 1350.5 1198.4 1350.5 1198.8 1350.5 1199.3 1350.5 1199.8 1350.5 1200.3 1350.5 1200.8 1350.5 1201.3 1350.5 1201.8 1350.5 1202.3 1342.2 1202.8 1330.9 1203.3 1319.5 1203.8 1308.2 1204.3 1296.9 1204.8 1285.6 1205.3 1274.2 1205.8 1269 1206.3 1280.8 1206.8 1292.5 1207.2 1304.3 1207.7 1310.5 1208.2 1310.9 1208.7 1311.3 1209.2 1316.1 1209.7 1316.5 1210.2 1316.9 1210.7 1317.4 1211.2 1322.2 1211.7 1322.6 1212.2 1323 1212.7 1327.9 1213.2 1328.4 1213.7 1328.8 1214.2 1329.2 1214.7 1334.2 1215.2 1334.6 1215.6 1335.1 1216.1 1340.1 1216.6 1340.6 1217.1 1341 1217.6 1346.2 1218.1 1346.7 1218.6 1347.2 1219.1 1350.5 1219.6 1350.5 1220.1 1347.1 1220.6 1346.6 1221.1 1341.4 1221.6 1340.9 1222.1 1340.5 1222.6 1340 1223.1 1335 1223.5 1334.5 1224 1334.1 1224.5 1329.1 1225 1328.7 1225.5 1328.3 1226 1327.8 1226.5 1323 1227 1322.5 1227.5 1322.1 1228 1317.3 1228.5 1316.9 1229 1316.4 1229.5 1316 1230 1311.2 1230.5 1310.8 1231 1310.4 1231.5 1301.4 1231.9 1288.7 1232.4 1275.9 1232.9 1263.2 1233.4 1273.4 1233.9 1285.2 1234.4 1297 1234.9 1308.8 1235.4 1320.6 1235.9 1332.4 1236.4 1344.2 1236.9 1350.5 1237.4 1350.5 1237.9 1350.5 1238.4 1350.5 1238.9 1350.5 1239.4 1350.5 1239.8 1350.5 1240.3 1350.5 1240.8 1350.5 1241.3 1350.5 1241.8 1350.5 1242.3 1350.5 1242.8 1350.5 1243.3 1344.5 1243.8 1333.1 1244.3 1321.8 1244.8 1310.5 1245.3 1299.1 1245.8 1287.8 1246.3 1276.5 1246.8 1266.6 1247.3 1278.4 1247.8 1290.2 1248.2 1301.9 1248.7 1310.4 1249.2 1310.8 1249.7 1311.2 1250.2 1316 1250.7 1316.4 1251.2 1316.9 1251.7 1317.3 1252.2 1322.1 1252.7 1322.5 1253.2 1323 1253.7 1327.8 1254.2 1328.3 1254.7 1328.7 1255.2 1329.1 1255.7 1334.1 1256.2 1334.5 1256.6 1335 1257.1 1340 1257.6 1340.5 1258.1 1340.9 1258.6 1341.4 1259.1 1346.6 1259.6 1347.1 1260.1 1350.5 1260.6 1350.5 1261.1 1347.2 1261.6 1346.7 1262.1 1346.2 1262.6 1341 1263.1 1340.6 1263.6 1340.1 1264.1 1335.1 1264.5 1334.6 1265 1334.2 1265.5 1329.2 1266 1328.8 1266.5 1328.4 1267 1327.9 1267.5 1323 1268 1322.6 1268.5 1322.2 1269 1317.4 1269.5 1316.9 1270 1316.5 1270.5 1316.1 1271 1311.3 1271.5 1310.9 1272 1310.5 1272.5 1303.9 1272.9 1291 1273.4 1278.1 1273.9 1265.3 1274.4 1270.6 1274.9 1282.5 1275.4 1294.3 1275.9 1306.2 1276.4 1318.1 1276.9 1329.9 1277.4 1341.8 1277.9 1350.5 1278.4 1350.5 1278.9 1350.5 1279.4 1350.5 1279.9 1350.5 1280.4 1350.5 1280.9 1350.5 1281.3 1350.5 1281.8 1350.5 1282.3 1350.5 1282.8 1350.5 1283.3 1350.5 1283.8 1350.5 1284.3 1346.5 1284.8 1334.5 1285.3 1322.5 1285.8 1310.5 1286.3 1298.5 1286.8 1286.4 1287.3 1274.4 1287.8 1262.4 1288.3 1272.2 1288.8 1285.4 1289.2 1298.5 1289.7 1310.3 1290.2 1310.7 1290.7 1311.1 1291.2 1311.6 1291.7 1316.3 1292.2 1316.8 1292.7 1317.2 1293.2 1322 1293.7 1322.4 1294.2 1322.9 1294.7 1327.7 1295.2 1328.2 1295.7 1328.6 1296.2 1329 1296.7 1334 1297.2 1334.4 1297.6 1334.9 1298.1 1339.9 1298.6 1340.4 1299.1 1340.8 1299.6 1341.3 1300.1 1346.5 1300.6 1347 1301.1 1350.5 1301.6 1350.5 1302.1 1347.3 1302.6 1346.8 1303.1 1346.3 1303.6 1341.1 1304.1 1340.6 1304.6 1340.2 1305.1 1335.1 1305.6 1334.7 1306 1334.3 1306.5 1333.8 1307 1328.9 1307.5 1328.4 1308 1328 1308.5 1323.1 1309 1322.7 1309.5 1322.3 1310 1321.8 1310.5 1317 1311 1316.6 1311.5 1316.2 1312 1311.4 1312.5 1311 1313 1310.6 1313.5 1306.6 1313.9 1294.5 1314.4 1282.3 1314.9 1270.2 1315.4 1270.7 1315.9 1282.2 1316.4 1293.7 1316.9 1305.2 1317.4 1316.7 1317.9 1328.3 1318.4 1339.8 1318.9 1350.5 1319.4 1350.5 1319.9 1350.5 1320.4 1350.5 1320.9 1350.5 1321.4 1350.5 1321.9 1350.5 1322.3 1350.5 1322.8 1350.5 1323.3 1350.5 1323.8 1350.5 1324.3 1350.5 1324.8 1350.5 1325.3 1348.9 1325.8 1337.3 1326.3 1325.6 1326.8 1313.9 1327.3 1302.2 1327.8 1290.5 1328.3 1278.8 1328.8 1267.1 1329.3 1271.5 1329.8 1284 1330.3 1296.5 1330.7 1310.2 1331.2 1310.6 1331.7 1311.1 1332.2 1311.5 1332.7 1316.3 1333.2 1316.7 1333.7 1317.1 1334.2 1321.9 1334.7 1322.4 1335.2 1322.8 1335.7 1323.2 1336.2 1328.1 1336.7 1328.5 1337.2 1329 1337.7 1333.9 1338.2 1334.4 1338.6 1334.8 1339.1 1335.2 1339.6 1340.3 1340.1 1340.7 1340.6 1341.2 1341.1 1346.4 1341.6 1346.9 1342.1 1350.5 1342.6 1350.5 1343.1 1350.5 1343.6 1346.9 1344.1 1346.4 1344.6 1341.2 1345.1 1340.7 1345.6 1340.3 1346.1 1335.2 1346.6 1334.8 1347 1334.4 1347.5 1333.9 1348 1329 1348.5 1328.5 1349 1328.1 1349.5 1323.2 1350 1322.8 1350.5 1322.4 1351 1321.9 1351.5 1317.1 1352 1316.7 1352.5 1316.3 1353 1311.5 1353.5 1311.1 1354 1310.6 1354.5 1310.2 1354.9 1297.2 1355.4 1285.5 1355.9 1273.7 1356.4 1269.7 1356.9 1281 1357.4 1292.4 1357.9 1303.7 1358.4 1315 1358.9 1326.3 1359.4 1337.7 1359.9 1349 1360.4 1350.5 1360.9 1350.5 1361.4 1350.5 1361.9 1350.5 1362.4 1350.5 1362.9 1350.5 1363.3 1350.5 1363.8 1350.5 1364.3 1350.5 1364.8 1350.5 1365.3 1350.5 1365.8 1350.5 1366.3 1350.5 1366.8 1345.9 1367.3 1333.6 1367.8 1321.3 1368.3 1309 1368.8 1296.8 1369.3 1284.5 1369.8 1274.4 1370.3 1286.5 1370.8 1298.7 1371.3 1312.1 1371.7 1312.6 1372.2 1313.1 1372.7 1317.7 1373.2 1318.2 1373.7 1318.7 1374.2 1323.3 1374.7 1323.8 1375.2 1324.3 1375.7 1329 1376.2 1329.5 1376.7 1330 1377.2 1334.8 1377.7 1335.3 1378.2 1335.8 1378.7 1340.7 1379.2 1341.2 1379.6 1341.7 1380.1 1346.8 1380.6 1347.3 1381.1 1350.5 1381.6 1348.9 1382.1 1347 1382.6 1345.1 1383.1 1343.3 1383.6 1341.5 1384.1 1339.7 1384.6 1338 1385.1 1336.2 1385.6 1334.5 1386.1 1332.8 1386.6 1331 1387.1 1329.3 1387.6 1327.6 1388 1325.9 1388.5 1324.2 1389 1322.6 1389.5 1320.9 1390 1319.2 1390.5 1317.5 1391 1315.9 1391.5 1314.2 1392 1312.6 1392.5 1310.9 1393 1302.7 1393.5 1289.7 1394 1276.6" stroke="#ee1111" stroke-width="3" fill="none" stroke-linejoin="round"/>
<path d="M880.2 1350.5H899.7" stroke="#000" stroke-width="3" fill="none"/>
<path d="M906.2 1350.5H1394" stroke="#000" stroke-width="3" stroke-dasharray="6.2 6.5" fill="none"/>
<path d="M880.2 1350.5V1216.2h15.5M1394 1350.5V1216.2h-15.5M880.2 1283.4h15.5M1394 1283.4h-15.5M880.2 1350.5h15.5M1394 1350.5h-15.5" stroke="#000" stroke-width="3" fill="none" stroke-linecap="butt"/>
<text x="872.3" y="1227.6" font-size="32.7" font-weight="bold" text-anchor="end">100</text>
<text x="872.3" y="1294.8" font-size="32.7" font-weight="bold" text-anchor="end">50</text>
<text x="872.3" y="1361.9" font-size="32.7" font-weight="bold" text-anchor="end">0</text>
<text x="899.5" y="1216.5" font-size="38" font-weight="bold">iii</text>
<path d="M880.2 1528.2 L880.2 1494 882.2 1494.9 884.2 1493.3 886.2 1481.8 888.1 1479.1 890.1 1493.8 892.1 1499.5 894.1 1500.6 896 1501.5 898 1502.3 900 1503.1 902 1503 903.9 1505.5 905.9 1505.5 907.9 1505.5 909.9 1505.5 911.8 1507.8 913.8 1507.8 915.8 1507.8 917.8 1509.9 919.7 1509.9 921.7 1509.9 923.7 1511.7 925.7 1511.7 927.6 1511.7 929.6 1511.7 931.6 1513.4 933.6 1513.4 935.6 1513.4 937.5 1514.9 939.5 1514.9 941.5 1514.9 943.5 1514.9 945.4 1516.2 947.4 1516.2 949.4 1516.2 951.4 1517.4 953.3 1517.4 955.3 1517.4 957.3 1517.4 959.3 1518.5 961.2 1518.5 963.2 1518.5 965.2 1519.5 967.2 1519.5 969.1 1519.5 971.1 1520.4 973.1 1520.4 975.1 1520.4 977 1520.4 979 1521.2 981 1521.2 983 1521.2 985 1521.9 986.9 1521.9 988.9 1521.9 990.9 1521.9 992.9 1522.5 994.8 1522.5 996.8 1522.5 998.8 1523.1 1000.8 1523.1 1002.7 1523.1 1004.7 1523.1 1006.7 1523.6 1008.7 1523.6 1010.6 1523.6 1012.6 1524.1 1014.6 1524.1 1016.6 1524.1 1018.5 1524.5 1020.5 1524.5 1022.5 1524.5 1024.5 1524.5 1026.4 1524.9 1028.4 1524.9 1030.4 1524.9 1032.4 1525.2 1034.3 1525.2 1036.3 1525.2 1038.3 1525.2 1040.3 1525.5 1042.3 1525.5 1044.2 1525.5 1046.2 1525.8 1048.2 1525.8 1050.2 1525.8 1052.1 1525.8 1054.1 1526 1056.1 1526 1058.1 1526 1060 1526.2 1062 1526.2 1064 1526.2 1066 1526.4 1067.9 1526.4 1069.9 1526.4 1071.9 1526.4 1073.9 1526.6 1075.8 1526.6 1077.8 1526.6 1079.8 1526.8 1081.8 1526.8 1083.7 1526.8 1085.7 1526.8 1087.7 1526.9 1089.7 1526.9 1091.7 1526.9 1093.6 1527 1095.6 1527 1097.6 1527 1099.6 1527 1101.5 1527.2 1103.5 1527.2 1105.5 1527.2 1107.5 1527.3 1109.4 1527.3 1111.4 1527.3 1113.4 1527.4 1115.4 1527.4 1117.3 1527.4 1119.3 1527.4 1121.3 1527.4 1123.3 1527.4 1125.2 1527.4 1127.2 1527.5 1129.2 1527.5 1131.2 1527.5 1133.1 1527.5 1135.1 1527.6 1137.1 1527.6 1139.1 1527.6 1141.1 1527.5 1143 1527.5 1145 1527.5 1147 1527.5 1149 1527.4 1150.9 1527.4 1152.9 1527.4 1154.9 1527.4 1156.9 1527.4 1158.8 1527.4 1160.8 1527.4 1162.8 1527.3 1164.8 1527.3 1166.7 1527.3 1168.7 1527.2 1170.7 1527.2 1172.7 1527.2 1174.6 1527 1176.6 1527 1178.6 1527 1180.6 1527 1182.5 1526.9 1184.5 1526.9 1186.5 1526.9 1188.5 1526.8 1190.5 1526.8 1192.4 1526.8 1194.4 1526.8 1196.4 1526.6 1198.4 1526.6 1200.3 1526.6 1202.3 1526.4 1204.3 1526.4 1206.3 1526.4 1208.2 1526.4 1210.2 1526.2 1212.2 1526.2 1214.2 1526.2 1216.1 1526 1218.1 1526 1220.1 1526 1222.1 1525.8 1224 1525.8 1226 1525.8 1228 1525.8 1230 1525.5 1231.9 1525.5 1233.9 1525.5 1235.9 1525.2 1237.9 1525.2 1239.8 1525.2 1241.8 1525.2 1243.8 1524.9 1245.8 1524.9 1247.8 1524.9 1249.7 1524.5 1251.7 1524.5 1253.7 1524.5 1255.7 1524.5 1257.6 1524.1 1259.6 1524.1 1261.6 1524.1 1263.6 1523.6 1265.5 1523.6 1267.5 1523.6 1269.5 1523.1 1271.5 1523.1 1273.4 1523.1 1275.4 1523.1 1277.4 1522.5 1279.4 1522.5 1281.3 1522.5 1283.3 1521.9 1285.3 1521.9 1287.3 1521.9 1289.2 1521.9 1291.2 1521.2 1293.2 1521.2 1295.2 1521.2 1297.2 1520.4 1299.1 1520.4 1301.1 1520.4 1303.1 1520.4 1305.1 1519.5 1307 1519.5 1309 1519.5 1311 1518.5 1313 1518.5 1314.9 1518.5 1316.9 1517.4 1318.9 1517.4 1320.9 1517.4 1322.8 1517.4 1324.8 1516.2 1326.8 1516.2 1328.8 1516.2 1330.7 1514.9 1332.7 1514.9 1334.7 1514.9 1336.7 1514.9 1338.6 1513.4 1340.6 1513.4 1342.6 1513.4 1344.6 1511.7 1346.6 1511.7 1348.5 1511.7 1350.5 1511.7 1352.5 1509.9 1354.5 1509.9 1356.4 1509.9 1358.4 1507.8 1360.4 1507.8 1362.4 1507.8 1364.3 1505.5 1366.3 1505.5 1368.3 1505.5 1370.3 1505.5 1372.2 1503 1374.2 1503.1 1376.2 1502.3 1378.2 1501.5 1380.1 1500.6 1382.1 1499.5 1384.1 1493.8 1386.1 1479.1 1388 1481.8 1390 1493.3 1392 1494.9 1394 1494 L1394 1528.2Z" fill="#0c0ce4" fill-opacity="0.55" stroke="none"/>
<path d="M880.2 1494 882.2 1494.9 884.2 1493.3 886.2 1481.8 888.1 1479.1 890.1 1493.8 892.1 1499.5 894.1 1500.6 896 1501.5 898 1502.3 900 1503.1 902 1503 903.9 1505.5 905.9 1505.5 907.9 1505.5 909.9 1505.5 911.8 1507.8 913.8 1507.8 915.8 1507.8 917.8 1509.9 919.7 1509.9 921.7 1509.9 923.7 1511.7 925.7 1511.7 927.6 1511.7 929.6 1511.7 931.6 1513.4 933.6 1513.4 935.6 1513.4 937.5 1514.9 939.5 1514.9 941.5 1514.9 943.5 1514.9 945.4 1516.2 947.4 1516.2 949.4 1516.2 951.4 1517.4 953.3 1517.4 955.3 1517.4 957.3 1517.4 959.3 1518.5 961.2 1518.5 963.2 1518.5 965.2 1519.5 967.2 1519.5 969.1 1519.5 971.1 1520.4 973.1 1520.4 975.1 1520.4 977 1520.4 979 1521.2 981 1521.2 983 1521.2 985 1521.9 986.9 1521.9 988.9 1521.9 990.9 1521.9 992.9 1522.5 994.8 1522.5 996.8 1522.5 998.8 1523.1 1000.8 1523.1 1002.7 1523.1 1004.7 1523.1 1006.7 1523.6 1008.7 1523.6 1010.6 1523.6 1012.6 1524.1 1014.6 1524.1 1016.6 1524.1 1018.5 1524.5 1020.5 1524.5 1022.5 1524.5 1024.5 1524.5 1026.4 1524.9 1028.4 1524.9 1030.4 1524.9 1032.4 1525.2 1034.3 1525.2 1036.3 1525.2 1038.3 1525.2 1040.3 1525.5 1042.3 1525.5 1044.2 1525.5 1046.2 1525.8 1048.2 1525.8 1050.2 1525.8 1052.1 1525.8 1054.1 1526 1056.1 1526 1058.1 1526 1060 1526.2 1062 1526.2 1064 1526.2 1066 1526.4 1067.9 1526.4 1069.9 1526.4 1071.9 1526.4 1073.9 1526.6 1075.8 1526.6 1077.8 1526.6 1079.8 1526.8 1081.8 1526.8 1083.7 1526.8 1085.7 1526.8 1087.7 1526.9 1089.7 1526.9 1091.7 1526.9 1093.6 1527 1095.6 1527 1097.6 1527 1099.6 1527 1101.5 1527.2 1103.5 1527.2 1105.5 1527.2 1107.5 1527.3 1109.4 1527.3 1111.4 1527.3 1113.4 1527.4 1115.4 1527.4 1117.3 1527.4 1119.3 1527.4 1121.3 1527.4 1123.3 1527.4 1125.2 1527.4 1127.2 1527.5 1129.2 1527.5 1131.2 1527.5 1133.1 1527.5 1135.1 1527.6 1137.1 1527.6 1139.1 1527.6 1141.1 1527.5 1143 1527.5 1145 1527.5 1147 1527.5 1149 1527.4 1150.9 1527.4 1152.9 1527.4 1154.9 1527.4 1156.9 1527.4 1158.8 1527.4 1160.8 1527.4 1162.8 1527.3 1164.8 1527.3 1166.7 1527.3 1168.7 1527.2 1170.7 1527.2 1172.7 1527.2 1174.6 1527 1176.6 1527 1178.6 1527 1180.6 1527 1182.5 1526.9 1184.5 1526.9 1186.5 1526.9 1188.5 1526.8 1190.5 1526.8 1192.4 1526.8 1194.4 1526.8 1196.4 1526.6 1198.4 1526.6 1200.3 1526.6 1202.3 1526.4 1204.3 1526.4 1206.3 1526.4 1208.2 1526.4 1210.2 1526.2 1212.2 1526.2 1214.2 1526.2 1216.1 1526 1218.1 1526 1220.1 1526 1222.1 1525.8 1224 1525.8 1226 1525.8 1228 1525.8 1230 1525.5 1231.9 1525.5 1233.9 1525.5 1235.9 1525.2 1237.9 1525.2 1239.8 1525.2 1241.8 1525.2 1243.8 1524.9 1245.8 1524.9 1247.8 1524.9 1249.7 1524.5 1251.7 1524.5 1253.7 1524.5 1255.7 1524.5 1257.6 1524.1 1259.6 1524.1 1261.6 1524.1 1263.6 1523.6 1265.5 1523.6 1267.5 1523.6 1269.5 1523.1 1271.5 1523.1 1273.4 1523.1 1275.4 1523.1 1277.4 1522.5 1279.4 1522.5 1281.3 1522.5 1283.3 1521.9 1285.3 1521.9 1287.3 1521.9 1289.2 1521.9 1291.2 1521.2 1293.2 1521.2 1295.2 1521.2 1297.2 1520.4 1299.1 1520.4 1301.1 1520.4 1303.1 1520.4 1305.1 1519.5 1307 1519.5 1309 1519.5 1311 1518.5 1313 1518.5 1314.9 1518.5 1316.9 1517.4 1318.9 1517.4 1320.9 1517.4 1322.8 1517.4 1324.8 1516.2 1326.8 1516.2 1328.8 1516.2 1330.7 1514.9 1332.7 1514.9 1334.7 1514.9 1336.7 1514.9 1338.6 1513.4 1340.6 1513.4 1342.6 1513.4 1344.6 1511.7 1346.6 1511.7 1348.5 1511.7 1350.5 1511.7 1352.5 1509.9 1354.5 1509.9 1356.4 1509.9 1358.4 1507.8 1360.4 1507.8 1362.4 1507.8 1364.3 1505.5 1366.3 1505.5 1368.3 1505.5 1370.3 1505.5 1372.2 1503 1374.2 1503.1 1376.2 1502.3 1378.2 1501.5 1380.1 1500.6 1382.1 1499.5 1384.1 1493.8 1386.1 1479.1 1388 1481.8 1390 1493.3 1392 1494.9 1394 1494" stroke="#0c0ce4" stroke-width="2.9" fill="none" stroke-linejoin="round"/>
<path d="M880.2 1528.2H899.7" stroke="#000" stroke-width="3" fill="none"/>
<path d="M906.2 1528.2H1394" stroke="#000" stroke-width="3" stroke-dasharray="6.2 6.5" fill="none"/>
<path d="M880.2 1528.2V1393.9h15.5M1394 1528.2V1393.9h-15.5M880.2 1461.1h15.5M1394 1461.1h-15.5M880.2 1528.2h15.5M1394 1528.2h-15.5" stroke="#000" stroke-width="3" fill="none" stroke-linecap="butt"/>
<text x="872.3" y="1405.3" font-size="32.7" font-weight="bold" text-anchor="end">10</text>
<text x="872.3" y="1472.5" font-size="32.7" font-weight="bold" text-anchor="end">5</text>
<text x="872.3" y="1539.6" font-size="32.7" font-weight="bold" text-anchor="end">0</text>
<text x="902" y="1420.5" font-size="38" font-weight="bold">ii</text>
<path d="M880.2 1704.4 L880.2 1693.7 882.2 1685.8 884.2 1679.8 886.2 1679.8 888.1 1679.8 890.1 1679.8 892.1 1679.7 894.1 1676.4 896 1672.1 898 1677.5 900 1684.6 902 1684.2 903.9 1685.8 905.9 1685.8 907.9 1685.8 909.9 1685.8 911.8 1686.4 913.8 1686.4 915.8 1686.4 917.8 1687 919.7 1687 921.7 1687 923.7 1687.6 925.7 1687.6 927.6 1687.6 929.6 1687.6 931.6 1688.1 933.6 1688.1 935.6 1688.1 937.5 1688.7 939.5 1688.7 941.5 1688.7 943.5 1688.7 945.4 1689.3 947.4 1689.3 949.4 1689.3 951.4 1689.9 953.3 1689.9 955.3 1689.9 957.3 1689.9 959.3 1690.4 961.2 1690.4 963.2 1690.4 965.2 1691 967.2 1691 969.1 1691 971.1 1691.6 973.1 1691.6 975.1 1691.6 977 1691.6 979 1692.2 981 1692.2 983 1692.2 985 1692.7 986.9 1692.7 988.9 1692.7 990.9 1692.7 992.9 1693.3 994.8 1693.3 996.8 1693.3 998.8 1693.9 1000.8 1693.9 1002.7 1693.9 1004.7 1693.9 1006.7 1694.5 1008.7 1694.5 1010.6 1694.5 1012.6 1695.1 1014.6 1695.1 1016.6 1695.1 1018.5 1695.6 1020.5 1695.6 1022.5 1695.6 1024.5 1695.6 1026.4 1696.2 1028.4 1696.2 1030.4 1696.2 1032.4 1696.8 1034.3 1696.8 1036.3 1696.8 1038.3 1696.8 1040.3 1697.4 1042.3 1697.4 1044.2 1697.4 1046.2 1697.9 1048.2 1697.9 1050.2 1697.9 1052.1 1697.9 1054.1 1698.5 1056.1 1698.5 1058.1 1698.5 1060 1699.1 1062 1699.1 1064 1699.1 1066 1699.7 1067.9 1699.7 1069.9 1699.7 1071.9 1699.7 1073.9 1700.3 1075.8 1700.3 1077.8 1700.3 1079.8 1700.8 1081.8 1700.8 1083.7 1700.8 1085.7 1700.8 1087.7 1701.4 1089.7 1701.4 1091.7 1701.4 1093.6 1702 1095.6 1702 1097.6 1702 1099.6 1702 1101.5 1702.6 1103.5 1702.6 1105.5 1702.6 1107.5 1703.1 1109.4 1703.1 1111.4 1703.1 1113.4 1703.7 1115.4 1703.7 1117.3 1703.7 1119.3 1703.7 1121.3 1703.7 1123.3 1703.7 1125.2 1703.7 1127.2 1703.7 1129.2 1703.7 1131.2 1703.7 1133.1 1703.7 1135.1 1703.7 1137.1 1703.7 1139.1 1703.7 1141.1 1703.7 1143 1703.7 1145 1703.7 1147 1703.7 1149 1703.7 1150.9 1703.7 1152.9 1703.7 1154.9 1703.7 1156.9 1703.7 1158.8 1703.7 1160.8 1703.7 1162.8 1703.1 1164.8 1703.1 1166.7 1703.1 1168.7 1702.6 1170.7 1702.6 1172.7 1702.6 1174.6 1702 1176.6 1702 1178.6 1702 1180.6 1702 1182.5 1701.4 1184.5 1701.4 1186.5 1701.4 1188.5 1700.8 1190.5 1700.8 1192.4 1700.8 1194.4 1700.8 1196.4 1700.3 1198.4 1700.3 1200.3 1700.3 1202.3 1699.7 1204.3 1699.7 1206.3 1699.7 1208.2 1699.7 1210.2 1699.1 1212.2 1699.1 1214.2 1699.1 1216.1 1698.5 1218.1 1698.5 1220.1 1698.5 1222.1 1697.9 1224 1697.9 1226 1697.9 1228 1697.9 1230 1697.4 1231.9 1697.4 1233.9 1697.4 1235.9 1696.8 1237.9 1696.8 1239.8 1696.8 1241.8 1696.8 1243.8 1696.2 1245.8 1696.2 1247.8 1696.2 1249.7 1695.6 1251.7 1695.6 1253.7 1695.6 1255.7 1695.6 1257.6 1695.1 1259.6 1695.1 1261.6 1695.1 1263.6 1694.5 1265.5 1694.5 1267.5 1694.5 1269.5 1693.9 1271.5 1693.9 1273.4 1693.9 1275.4 1693.9 1277.4 1693.3 1279.4 1693.3 1281.3 1693.3 1283.3 1692.7 1285.3 1692.7 1287.3 1692.7 1289.2 1692.7 1291.2 1692.2 1293.2 1692.2 1295.2 1692.2 1297.2 1691.6 1299.1 1691.6 1301.1 1691.6 1303.1 1691.6 1305.1 1691 1307 1691 1309 1691 1311 1690.4 1313 1690.4 1314.9 1690.4 1316.9 1689.9 1318.9 1689.9 1320.9 1689.9 1322.8 1689.9 1324.8 1689.3 1326.8 1689.3 1328.8 1689.3 1330.7 1688.7 1332.7 1688.7 1334.7 1688.7 1336.7 1688.7 1338.6 1688.1 1340.6 1688.1 1342.6 1688.1 1344.6 1687.6 1346.6 1687.6 1348.5 1687.6 1350.5 1687.6 1352.5 1687 1354.5 1687 1356.4 1687 1358.4 1686.4 1360.4 1686.4 1362.4 1686.4 1364.3 1685.8 1366.3 1685.8 1368.3 1685.8 1370.3 1685.8 1372.2 1684.2 1374.2 1684.6 1376.2 1677.5 1378.2 1672.1 1380.1 1676.4 1382.1 1679.7 1384.1 1679.8 1386.1 1679.8 1388 1679.8 1390 1679.8 1392 1685.8 1394 1693.7 L1394 1704.4Z" fill="#6a16d6" fill-opacity="0.55" stroke="none"/>
<path d="M880.2 1693.7 882.2 1685.8 884.2 1679.8 886.2 1679.8 888.1 1679.8 890.1 1679.8 892.1 1679.7 894.1 1676.4 896 1672.1 898 1677.5 900 1684.6 902 1684.2 903.9 1685.8 905.9 1685.8 907.9 1685.8 909.9 1685.8 911.8 1686.4 913.8 1686.4 915.8 1686.4 917.8 1687 919.7 1687 921.7 1687 923.7 1687.6 925.7 1687.6 927.6 1687.6 929.6 1687.6 931.6 1688.1 933.6 1688.1 935.6 1688.1 937.5 1688.7 939.5 1688.7 941.5 1688.7 943.5 1688.7 945.4 1689.3 947.4 1689.3 949.4 1689.3 951.4 1689.9 953.3 1689.9 955.3 1689.9 957.3 1689.9 959.3 1690.4 961.2 1690.4 963.2 1690.4 965.2 1691 967.2 1691 969.1 1691 971.1 1691.6 973.1 1691.6 975.1 1691.6 977 1691.6 979 1692.2 981 1692.2 983 1692.2 985 1692.7 986.9 1692.7 988.9 1692.7 990.9 1692.7 992.9 1693.3 994.8 1693.3 996.8 1693.3 998.8 1693.9 1000.8 1693.9 1002.7 1693.9 1004.7 1693.9 1006.7 1694.5 1008.7 1694.5 1010.6 1694.5 1012.6 1695.1 1014.6 1695.1 1016.6 1695.1 1018.5 1695.6 1020.5 1695.6 1022.5 1695.6 1024.5 1695.6 1026.4 1696.2 1028.4 1696.2 1030.4 1696.2 1032.4 1696.8 1034.3 1696.8 1036.3 1696.8 1038.3 1696.8 1040.3 1697.4 1042.3 1697.4 1044.2 1697.4 1046.2 1697.9 1048.2 1697.9 1050.2 1697.9 1052.1 1697.9 1054.1 1698.5 1056.1 1698.5 1058.1 1698.5 1060 1699.1 1062 1699.1 1064 1699.1 1066 1699.7 1067.9 1699.7 1069.9 1699.7 1071.9 1699.7 1073.9 1700.3 1075.8 1700.3 1077.8 1700.3 1079.8 1700.8 1081.8 1700.8 1083.7 1700.8 1085.7 1700.8 1087.7 1701.4 1089.7 1701.4 1091.7 1701.4 1093.6 1702 1095.6 1702 1097.6 1702 1099.6 1702 1101.5 1702.6 1103.5 1702.6 1105.5 1702.6 1107.5 1703.1 1109.4 1703.1 1111.4 1703.1 1113.4 1703.7 1115.4 1703.7 1117.3 1703.7 1119.3 1703.7 1121.3 1703.7 1123.3 1703.7 1125.2 1703.7 1127.2 1703.7 1129.2 1703.7 1131.2 1703.7 1133.1 1703.7 1135.1 1703.7 1137.1 1703.7 1139.1 1703.7 1141.1 1703.7 1143 1703.7 1145 1703.7 1147 1703.7 1149 1703.7 1150.9 1703.7 1152.9 1703.7 1154.9 1703.7 1156.9 1703.7 1158.8 1703.7 1160.8 1703.7 1162.8 1703.1 1164.8 1703.1 1166.7 1703.1 1168.7 1702.6 1170.7 1702.6 1172.7 1702.6 1174.6 1702 1176.6 1702 1178.6 1702 1180.6 1702 1182.5 1701.4 1184.5 1701.4 1186.5 1701.4 1188.5 1700.8 1190.5 1700.8 1192.4 1700.8 1194.4 1700.8 1196.4 1700.3 1198.4 1700.3 1200.3 1700.3 1202.3 1699.7 1204.3 1699.7 1206.3 1699.7 1208.2 1699.7 1210.2 1699.1 1212.2 1699.1 1214.2 1699.1 1216.1 1698.5 1218.1 1698.5 1220.1 1698.5 1222.1 1697.9 1224 1697.9 1226 1697.9 1228 1697.9 1230 1697.4 1231.9 1697.4 1233.9 1697.4 1235.9 1696.8 1237.9 1696.8 1239.8 1696.8 1241.8 1696.8 1243.8 1696.2 1245.8 1696.2 1247.8 1696.2 1249.7 1695.6 1251.7 1695.6 1253.7 1695.6 1255.7 1695.6 1257.6 1695.1 1259.6 1695.1 1261.6 1695.1 1263.6 1694.5 1265.5 1694.5 1267.5 1694.5 1269.5 1693.9 1271.5 1693.9 1273.4 1693.9 1275.4 1693.9 1277.4 1693.3 1279.4 1693.3 1281.3 1693.3 1283.3 1692.7 1285.3 1692.7 1287.3 1692.7 1289.2 1692.7 1291.2 1692.2 1293.2 1692.2 1295.2 1692.2 1297.2 1691.6 1299.1 1691.6 1301.1 1691.6 1303.1 1691.6 1305.1 1691 1307 1691 1309 1691 1311 1690.4 1313 1690.4 1314.9 1690.4 1316.9 1689.9 1318.9 1689.9 1320.9 1689.9 1322.8 1689.9 1324.8 1689.3 1326.8 1689.3 1328.8 1689.3 1330.7 1688.7 1332.7 1688.7 1334.7 1688.7 1336.7 1688.7 1338.6 1688.1 1340.6 1688.1 1342.6 1688.1 1344.6 1687.6 1346.6 1687.6 1348.5 1687.6 1350.5 1687.6 1352.5 1687 1354.5 1687 1356.4 1687 1358.4 1686.4 1360.4 1686.4 1362.4 1686.4 1364.3 1685.8 1366.3 1685.8 1368.3 1685.8 1370.3 1685.8 1372.2 1684.2 1374.2 1684.6 1376.2 1677.5 1378.2 1672.1 1380.1 1676.4 1382.1 1679.7 1384.1 1679.8 1386.1 1679.8 1388 1679.8 1390 1679.8 1392 1685.8 1394 1693.7" stroke="#6a16d6" stroke-width="2.9" fill="none" stroke-linejoin="round"/>
<path d="M880.2 1704.4H899.7" stroke="#000" stroke-width="3" fill="none"/>
<path d="M906.2 1704.4H1394" stroke="#000" stroke-width="3" stroke-dasharray="6.2 6.5" fill="none"/>
<path d="M880.2 1704.4V1570.1h15.5M1394 1704.4V1570.1h-15.5M880.2 1637.3h15.5M1394 1637.3h-15.5M880.2 1704.4h15.5M1394 1704.4h-15.5" stroke="#000" stroke-width="3" fill="none" stroke-linecap="butt"/>
<path d="M1034.3 1703.4v-15.5M1137.1 1703.4v-15.5M1239.8 1703.4v-15.5" stroke="#000" stroke-width="3" fill="none"/>
<text x="872.3" y="1581.5" font-size="32.7" font-weight="bold" text-anchor="end">10</text>
<text x="872.3" y="1648.7" font-size="32.7" font-weight="bold" text-anchor="end">5</text>
<text x="872.3" y="1715.8" font-size="32.7" font-weight="bold" text-anchor="end">0</text>
<text x="903.5" y="1596.5" font-size="38" font-weight="bold">i</text>
<text x="931.1" y="1746" font-size="33.5" font-weight="bold" text-anchor="middle">-2</text>
<text x="1033.8" y="1746" font-size="33.5" font-weight="bold" text-anchor="middle">-1</text>
<text x="1137.1" y="1746" font-size="33.5" font-weight="bold" text-anchor="middle">0</text>
<text x="1239.8" y="1746" font-size="33.5" font-weight="bold" text-anchor="middle">1</text>
<text x="1342.6" y="1746" font-size="33.5" font-weight="bold" text-anchor="middle">2</text>
<text x="1137" y="1805.3" font-size="33" font-weight="bold" text-anchor="middle">x-distance (cm)</text>
<text transform="translate(773.5,1291) rotate(-90)" font-size="32.5" font-weight="bold" text-anchor="middle">Shear stress (mPa)</text>
</svg>
</body></html>
